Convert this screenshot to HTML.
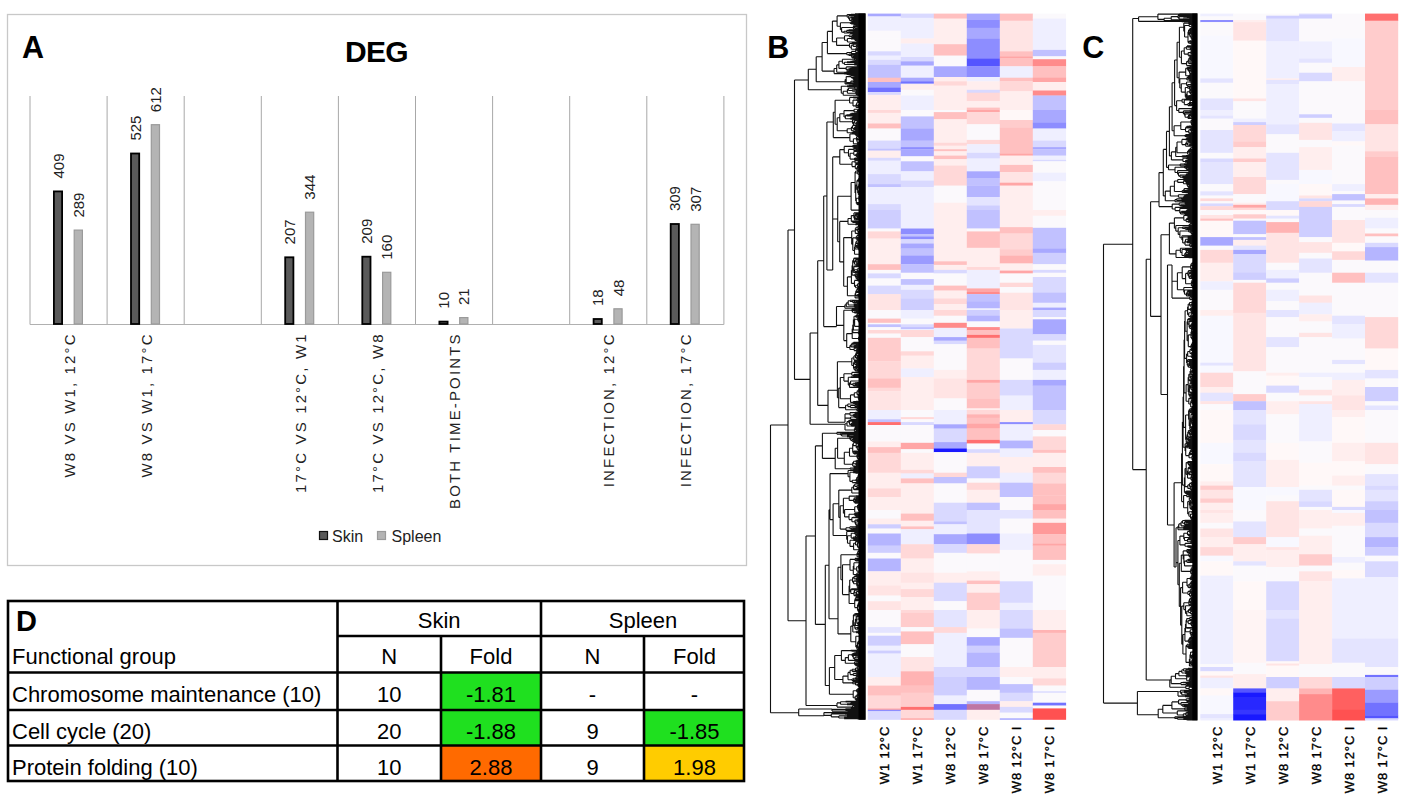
<!DOCTYPE html>
<html><head><meta charset="utf-8"><title>Figure</title>
<style>html,body{margin:0;padding:0;background:#fff;overflow:hidden;}svg{display:block;}text{font-family:"Liberation Sans",sans-serif;}</style>
</head><body>
<svg width="1417" height="797" viewBox="0 0 1417 797">
<rect width="1417" height="797" fill="#fff"/>
<rect x="7.5" y="14.5" width="739" height="551" fill="#fff" stroke="#c8c8c8" stroke-width="1.3"/>
<text x="22" y="58" font-size="30.5" font-weight="bold">A</text>
<text x="376.5" y="62.2" font-size="30" font-weight="bold" text-anchor="middle" letter-spacing="-0.6">DEG</text>
<line x1="30.0" y1="96" x2="30.0" y2="324.5" stroke="#a8a8a8" stroke-width="1"/>
<line x1="107.1" y1="96" x2="107.1" y2="324.5" stroke="#a8a8a8" stroke-width="1"/>
<line x1="184.2" y1="96" x2="184.2" y2="324.5" stroke="#a8a8a8" stroke-width="1"/>
<line x1="261.3" y1="96" x2="261.3" y2="324.5" stroke="#a8a8a8" stroke-width="1"/>
<line x1="338.4" y1="96" x2="338.4" y2="324.5" stroke="#a8a8a8" stroke-width="1"/>
<line x1="415.5" y1="96" x2="415.5" y2="324.5" stroke="#a8a8a8" stroke-width="1"/>
<line x1="492.6" y1="96" x2="492.6" y2="324.5" stroke="#a8a8a8" stroke-width="1"/>
<line x1="569.7" y1="96" x2="569.7" y2="324.5" stroke="#a8a8a8" stroke-width="1"/>
<line x1="646.8" y1="96" x2="646.8" y2="324.5" stroke="#a8a8a8" stroke-width="1"/>
<line x1="723.9" y1="96" x2="723.9" y2="324.5" stroke="#a8a8a8" stroke-width="1"/>
<line x1="30" y1="324.5" x2="723.9" y2="324.5" stroke="#b0b0b0" stroke-width="1.2"/>
<rect x="53.9" y="191.4" width="8.2" height="132.6" fill="#5a5a5a" stroke="#000" stroke-width="1.8"/>
<rect x="74.2" y="230.1" width="8.2" height="93.9" fill="#b4b4b4" stroke="#9a9a9a" stroke-width="1.2"/>
<text transform="translate(63.5,178.5) rotate(-90)" font-size="15" fill="#222">409</text>
<text transform="translate(83.8,217.6) rotate(-90)" font-size="15" fill="#222">289</text>
<text transform="translate(74.5,332.3) rotate(-90)" font-size="15" text-anchor="end" letter-spacing="2.15" fill="#222">W8 VS W1, 12°C</text>
<rect x="131.0" y="153.5" width="8.2" height="170.5" fill="#5a5a5a" stroke="#000" stroke-width="1.8"/>
<rect x="151.3" y="124.7" width="8.2" height="199.3" fill="#b4b4b4" stroke="#9a9a9a" stroke-width="1.2"/>
<text transform="translate(140.6,140.6) rotate(-90)" font-size="15" fill="#222">525</text>
<text transform="translate(160.9,112.2) rotate(-90)" font-size="15" fill="#222">612</text>
<text transform="translate(151.6,332.3) rotate(-90)" font-size="15" text-anchor="end" letter-spacing="2.15" fill="#222">W8 VS W1, 17°C</text>
<rect x="285.2" y="257.3" width="8.2" height="66.7" fill="#5a5a5a" stroke="#000" stroke-width="1.8"/>
<rect x="305.5" y="212.2" width="8.2" height="111.8" fill="#b4b4b4" stroke="#9a9a9a" stroke-width="1.2"/>
<text transform="translate(294.8,244.4) rotate(-90)" font-size="15" fill="#222">207</text>
<text transform="translate(315.1,199.7) rotate(-90)" font-size="15" fill="#222">344</text>
<text transform="translate(305.8,332.3) rotate(-90)" font-size="15" text-anchor="end" letter-spacing="2.15" fill="#222">17°C VS 12°C, W1</text>
<rect x="362.3" y="256.7" width="8.2" height="67.3" fill="#5a5a5a" stroke="#000" stroke-width="1.8"/>
<rect x="382.6" y="272.3" width="8.2" height="51.7" fill="#b4b4b4" stroke="#9a9a9a" stroke-width="1.2"/>
<text transform="translate(371.9,243.8) rotate(-90)" font-size="15" fill="#222">209</text>
<text transform="translate(392.2,259.8) rotate(-90)" font-size="15" fill="#222">160</text>
<text transform="translate(382.9,332.3) rotate(-90)" font-size="15" text-anchor="end" letter-spacing="2.15" fill="#222">17°C VS 12°C, W8</text>
<rect x="439.4" y="321.6" width="8.2" height="2.4" fill="#5a5a5a" stroke="#000" stroke-width="1.8"/>
<rect x="459.7" y="317.6" width="8.2" height="6.4" fill="#b4b4b4" stroke="#9a9a9a" stroke-width="1.2"/>
<text transform="translate(449.0,308.7) rotate(-90)" font-size="15" fill="#222">10</text>
<text transform="translate(469.3,305.1) rotate(-90)" font-size="15" fill="#222">21</text>
<text transform="translate(460.0,332.3) rotate(-90)" font-size="15" text-anchor="end" letter-spacing="2.15" fill="#222">BOTH TIME-POINTS</text>
<rect x="593.6" y="319.0" width="8.2" height="5.0" fill="#5a5a5a" stroke="#000" stroke-width="1.8"/>
<rect x="613.9" y="308.8" width="8.2" height="15.2" fill="#b4b4b4" stroke="#9a9a9a" stroke-width="1.2"/>
<text transform="translate(603.2,306.1) rotate(-90)" font-size="15" fill="#222">18</text>
<text transform="translate(623.5,296.3) rotate(-90)" font-size="15" fill="#222">48</text>
<text transform="translate(614.2,332.3) rotate(-90)" font-size="15" text-anchor="end" letter-spacing="2.15" fill="#222">INFECTION, 12°C</text>
<rect x="670.7" y="224.0" width="8.2" height="100.0" fill="#5a5a5a" stroke="#000" stroke-width="1.8"/>
<rect x="691.0" y="224.3" width="8.2" height="99.7" fill="#b4b4b4" stroke="#9a9a9a" stroke-width="1.2"/>
<text transform="translate(680.3,211.1) rotate(-90)" font-size="15" fill="#222">309</text>
<text transform="translate(700.6,211.8) rotate(-90)" font-size="15" fill="#222">307</text>
<text transform="translate(691.3,332.3) rotate(-90)" font-size="15" text-anchor="end" letter-spacing="2.15" fill="#222">INFECTION, 17°C</text>
<rect x="319.5" y="531.5" width="8" height="8" fill="#585858" stroke="#111" stroke-width="1.2"/>
<text x="332" y="541.5" font-size="16" fill="#222">Skin</text>
<rect x="377.5" y="531.5" width="8" height="8" fill="#b4b4b4" stroke="#9a9a9a" stroke-width="1.2"/>
<text x="391.5" y="541.5" font-size="16" fill="#222">Spleen</text>
<rect x="337.5" y="672.5" width="103.5" height="37.5" fill="#fff"/>
<rect x="441" y="672.5" width="100" height="37.5" fill="#1fe01f"/>
<rect x="441" y="710" width="100" height="35.5" fill="#1fe01f"/>
<rect x="441" y="745.5" width="100" height="36.5" fill="#ff6a00"/>
<rect x="644" y="710" width="101" height="35.5" fill="#1fe01f"/>
<rect x="644" y="745.5" width="101" height="36.5" fill="#ffcc00"/>
<rect x="8" y="601" width="736" height="180" fill="none" stroke="#000" stroke-width="2.6"/>
<line x1="337.5" y1="636" x2="745" y2="636" stroke="#000" stroke-width="2.6"/>
<line x1="7" y1="672.5" x2="745" y2="672.5" stroke="#000" stroke-width="2.6"/>
<line x1="7" y1="710" x2="745" y2="710" stroke="#000" stroke-width="2.6"/>
<line x1="7" y1="745.5" x2="745" y2="745.5" stroke="#000" stroke-width="2.6"/>
<line x1="337.5" y1="600" x2="337.5" y2="782" stroke="#000" stroke-width="2.6"/>
<line x1="541" y1="600" x2="541" y2="782" stroke="#000" stroke-width="2.6"/>
<line x1="441" y1="636" x2="441" y2="782" stroke="#000" stroke-width="2.6"/>
<line x1="644" y1="636" x2="644" y2="782" stroke="#000" stroke-width="2.6"/>
<text x="16" y="631" font-size="29" font-weight="bold">D</text>
<text x="12" y="664" font-size="22">Functional group</text>
<text x="12" y="701.5" font-size="22">Chromosome maintenance (10)</text>
<text x="12" y="739" font-size="22">Cell cycle (20)</text>
<text x="12" y="774.5" font-size="22">Protein folding (10)</text>
<text x="439.2" y="628" font-size="22" text-anchor="middle">Skin</text>
<text x="643.0" y="628" font-size="22" text-anchor="middle">Spleen</text>
<text x="389.2" y="664" font-size="22" text-anchor="middle">N</text>
<text x="491.0" y="664" font-size="22" text-anchor="middle">Fold</text>
<text x="592.5" y="664" font-size="22" text-anchor="middle">N</text>
<text x="694.5" y="664" font-size="22" text-anchor="middle">Fold</text>
<text x="389.2" y="701.5" font-size="22" text-anchor="middle">10</text>
<text x="491.0" y="701.5" font-size="22" text-anchor="middle">-1.81</text>
<text x="592.5" y="701.5" font-size="22" text-anchor="middle">-</text>
<text x="694.5" y="701.5" font-size="22" text-anchor="middle">-</text>
<text x="389.2" y="739" font-size="22" text-anchor="middle">20</text>
<text x="491.0" y="739" font-size="22" text-anchor="middle">-1.88</text>
<text x="592.5" y="739" font-size="22" text-anchor="middle">9</text>
<text x="694.5" y="739" font-size="22" text-anchor="middle">-1.85</text>
<text x="389.2" y="774.5" font-size="22" text-anchor="middle">10</text>
<text x="491.0" y="774.5" font-size="22" text-anchor="middle">2.88</text>
<text x="592.5" y="774.5" font-size="22" text-anchor="middle">9</text>
<text x="694.5" y="774.5" font-size="22" text-anchor="middle">1.98</text>
<path d="M770.5 425.0V712.7M788.0 230.0V620.7M794.5 80.0V379.4M810.1 333.0V424.2M817.7 260.7V405.4M823.7 196.0V326.6M826.9 122.0V270.0M828.0 390.3V422.3M806.0 536.0V705.5M815.4 445.9V624.4M825.3 565.2V685.5M829.0 509.8V618.8M798.7 709.0V715.8M770.5 712.7H798.7M770.5 425.0H788.0M788.0 230.0H794.5M788.0 620.7H806.0M794.5 379.4H810.1M810.1 333.0H817.7M817.7 260.7H823.7M817.7 405.4H828.0M823.7 196.0H826.9M806.0 536.0H815.4M815.4 624.4H825.3M825.3 565.2H829.0M794.5 80.0H808.3M826.9 122.0H833.3M826.9 270.0H832.7M823.7 326.6H836.5M828.0 390.3H837.4M828.0 422.3H845.0M810.1 424.2H845.0M815.4 445.9H822.4M829.0 509.8H830.0M829.0 618.8H838.0M825.3 685.5H829.4M806.0 705.5H837.0M798.7 709.0H832.0M798.7 715.8H823.9M849.8 85.2V85.6M849.8 85.2H865.5M849.8 85.6H865.5M848.8 85.4V86.0M848.8 85.4H849.8M848.8 86.0H865.5M847.0 85.7V86.7M847.0 85.7H848.8M847.0 86.7H865.5M859.2 88.7V89.2M859.2 88.7H865.5M859.2 89.2H865.5M858.6 88.2V88.9M858.6 88.2H865.5M858.6 88.9H859.2M858.0 87.9V88.6M858.0 87.9H865.5M858.0 88.6H858.6M856.9 88.2V89.4M856.9 88.2H858.0M856.9 89.4H865.5M854.5 87.3V88.8M854.5 87.3H865.5M854.5 88.8H856.9M857.0 91.0V91.5M857.0 91.0H865.5M857.0 91.5H865.5M856.4 91.2V92.0M856.4 91.2H857.0M856.4 92.0H865.5M855.8 90.6V91.6M855.8 90.6H865.5M855.8 91.6H856.4M852.2 89.8V91.1M852.2 89.8H865.5M852.2 91.1H855.8M848.4 88.1V90.5M848.4 88.1H854.5M848.4 90.5H852.2M856.6 93.2V93.7M856.6 93.2H865.5M856.6 93.7H865.5M856.0 93.4V94.2M856.0 93.4H856.6M856.0 94.2H865.5M855.2 92.5V93.8M855.2 92.5H865.5M855.2 93.8H856.0M847.4 89.3V93.2M847.4 89.3H848.4M847.4 93.2H855.2M860.9 96.0V96.7M860.9 96.0H865.5M860.9 96.7H865.5M860.3 95.5V96.4M860.3 95.5H865.5M860.3 96.4H860.9M859.7 95.2V95.9M859.7 95.2H865.5M859.7 95.9H860.3M857.3 94.8V95.6M857.3 94.8H865.5M857.3 95.6H859.7M843.2 91.2V95.2M843.2 91.2H847.4M843.2 95.2H857.3M841.3 86.2V93.2M841.3 86.2H847.0M841.3 93.2H843.2M855.5 75.7V76.2M855.5 75.7H865.5M855.5 76.2H865.5M854.9 75.5V76.0M854.9 75.5H865.5M854.9 76.0H855.5M854.3 75.4V75.7M854.3 75.4H865.5M854.3 75.7H854.9M857.1 76.7V77.2M857.1 76.7H865.5M857.1 77.2H865.5M855.9 76.5V77.0M855.9 76.5H865.5M855.9 77.0H857.1M857.5 79.1V79.5M857.5 79.1H865.5M857.5 79.5H865.5M856.9 78.7V79.3M856.9 78.7H865.5M856.9 79.3H857.5M856.3 78.3V79.0M856.3 78.3H865.5M856.3 79.0H856.9M858.8 79.7V80.2M858.8 79.7H865.5M858.8 80.2H865.5M853.7 78.7V79.9M853.7 78.7H856.3M853.7 79.9H858.8M853.1 77.8V79.3M853.1 77.8H865.5M853.1 79.3H853.7M852.5 76.7V78.6M852.5 76.7H855.9M852.5 78.6H853.1M851.0 75.5V77.6M851.0 75.5H854.3M851.0 77.6H852.5M853.5 81.2V81.9M853.5 81.2H865.5M853.5 81.9H865.5M852.9 80.7V81.5M852.9 80.7H865.5M852.9 81.5H853.5M851.9 82.7V83.1M851.9 82.7H865.5M851.9 83.1H865.5M850.9 81.1V82.9M850.9 81.1H852.9M850.9 82.9H851.9M850.3 82.0V83.3M850.3 82.0H850.9M850.3 83.3H865.5M846.2 76.6V82.6M846.2 76.6H851.0M846.2 82.6H850.3M853.1 84.0V84.6M853.1 84.0H865.5M853.1 84.6H865.5M852.5 83.6V84.3M852.5 83.6H865.5M852.5 84.3H853.1M845.1 79.6V83.9M845.1 79.6H846.2M845.1 83.9H852.5M855.7 58.5V58.9M855.7 58.5H865.5M855.7 58.9H865.5M855.1 58.4V58.7M855.1 58.4H865.5M855.1 58.7H855.7M858.5 59.4V59.8M858.5 59.4H865.5M858.5 59.8H865.5M857.9 59.6V60.2M857.9 59.6H858.5M857.9 60.2H865.5M857.3 59.9V60.4M857.3 59.9H857.9M857.3 60.4H865.5M854.5 58.5V60.1M854.5 58.5H855.1M854.5 60.1H857.3M855.0 61.5V61.9M855.0 61.5H865.5M855.0 61.9H865.5M852.4 60.8V61.7M852.4 60.8H865.5M852.4 61.7H855.0M850.4 61.2V62.2M850.4 61.2H852.4M850.4 62.2H865.5M847.0 61.7V62.7M847.0 61.7H850.4M847.0 62.7H865.5M858.4 63.5V64.1M858.4 63.5H865.5M858.4 64.1H865.5M857.6 63.1V63.8M857.6 63.1H865.5M857.6 63.8H858.4M854.8 63.5V64.4M854.8 63.5H857.6M854.8 64.4H865.5M859.6 64.8V65.3M859.6 64.8H865.5M859.6 65.3H865.5M854.2 63.9V65.0M854.2 63.9H854.8M854.2 65.0H859.6M844.4 62.2V64.5M844.4 62.2H847.0M844.4 64.5H854.2M842.4 59.3V63.3M842.4 59.3H854.5M842.4 63.3H844.4M858.5 66.1V66.7M858.5 66.1H865.5M858.5 66.7H865.5M857.9 66.4V67.2M857.9 66.4H858.5M857.9 67.2H865.5M857.3 65.6V66.8M857.3 65.6H865.5M857.3 66.8H857.9M856.7 66.2V67.5M856.7 66.2H857.3M856.7 67.5H865.5M851.4 68.0V68.5M851.4 68.0H865.5M851.4 68.5H865.5M849.7 68.2V69.1M849.7 68.2H851.4M849.7 69.1H865.5M848.5 68.7V69.7M848.5 68.7H849.7M848.5 69.7H865.5M857.9 70.3V70.7M857.9 70.3H865.5M857.9 70.7H865.5M857.3 70.5V71.0M857.3 70.5H857.9M857.3 71.0H865.5M847.3 69.2V70.7M847.3 69.2H848.5M847.3 70.7H857.3M846.2 66.9V70.0M846.2 66.9H856.7M846.2 70.0H847.3M838.9 61.3V68.4M838.9 61.3H842.4M838.9 68.4H846.2M849.9 71.7V72.1M849.9 71.7H865.5M849.9 72.1H865.5M848.7 71.4V71.9M848.7 71.4H865.5M848.7 71.9H849.9M846.2 71.7V72.7M846.2 71.7H848.7M846.2 72.7H865.5M836.7 64.9V72.2M836.7 64.9H838.9M836.7 72.2H846.2M850.1 73.8V74.2M850.1 73.8H865.5M850.1 74.2H865.5M848.6 74.0V74.9M848.6 74.0H850.1M848.6 74.9H865.5M846.6 73.5V74.4M846.6 73.5H865.5M846.6 74.4H848.6M844.2 73.2V74.0M844.2 73.2H865.5M844.2 74.0H846.6M834.1 68.5V73.6M834.1 68.5H836.7M834.1 73.6H844.2M858.4 51.0V51.5M858.4 51.0H865.5M858.4 51.5H865.5M857.8 50.6V51.2M857.8 50.6H865.5M857.8 51.2H858.4M857.2 50.2V50.9M857.2 50.2H865.5M857.2 50.9H857.8M856.6 50.0V50.5M856.6 50.0H865.5M856.6 50.5H857.2M856.2 52.2V52.9M856.2 52.2H865.5M856.2 52.9H865.5M855.6 50.2V52.6M855.6 50.2H856.6M855.6 52.6H856.2M851.5 51.4V53.6M851.5 51.4H855.6M851.5 53.6H865.5M856.5 56.0V56.5M856.5 56.0H865.5M856.5 56.5H865.5M855.9 56.3V56.8M855.9 56.3H856.5M855.9 56.8H865.5M855.3 55.6V56.5M855.3 55.6H865.5M855.3 56.5H855.9M855.4 57.2V57.6M855.4 57.2H865.5M855.4 57.6H865.5M853.6 56.1V57.4M853.6 56.1H855.3M853.6 57.4H855.4M852.3 56.7V58.0M852.3 56.7H853.6M852.3 58.0H865.5M851.7 55.1V57.4M851.7 55.1H865.5M851.7 57.4H852.3M851.1 54.6V56.2M851.1 54.6H865.5M851.1 56.2H851.7M848.8 54.0V55.4M848.8 54.0H865.5M848.8 55.4H851.1M846.8 52.5V54.7M846.8 52.5H851.5M846.8 54.7H848.8M854.0 34.8V35.2M854.0 34.8H865.5M854.0 35.2H865.5M856.7 36.0V36.5M856.7 36.0H865.5M856.7 36.5H865.5M854.1 35.7V36.2M854.1 35.7H865.5M854.1 36.2H856.7M852.6 37.1V37.5M852.6 37.1H865.5M852.6 37.5H865.5M851.8 36.0V37.3M851.8 36.0H854.1M851.8 37.3H852.6M849.0 35.0V36.6M849.0 35.0H854.0M849.0 36.6H851.8M858.9 38.9V39.3M858.9 38.9H865.5M858.9 39.3H865.5M858.3 39.1V39.6M858.3 39.1H858.9M858.3 39.6H865.5M855.6 38.5V39.3M855.6 38.5H865.5M855.6 39.3H858.3M858.3 40.2V40.7M858.3 40.2H865.5M858.3 40.7H865.5M855.0 38.9V40.4M855.0 38.9H855.6M855.0 40.4H858.3M854.4 38.3V39.7M854.4 38.3H865.5M854.4 39.7H855.0M851.0 38.0V39.0M851.0 38.0H865.5M851.0 39.0H854.4M857.5 40.8V41.2M857.5 40.8H865.5M857.5 41.2H865.5M856.9 41.0V41.9M856.9 41.0H857.5M856.9 41.9H865.5M856.3 41.5V42.5M856.3 41.5H856.9M856.3 42.5H865.5M847.4 38.5V42.0M847.4 38.5H851.0M847.4 42.0H856.3M844.5 35.8V40.2M844.5 35.8H849.0M844.5 40.2H847.4M852.0 43.1V43.5M852.0 43.1H865.5M852.0 43.5H865.5M851.4 43.3V43.8M851.4 43.3H852.0M851.4 43.8H865.5M858.2 45.0V45.4M858.2 45.0H865.5M858.2 45.4H865.5M857.6 45.2V45.9M857.6 45.2H858.2M857.6 45.9H865.5M857.0 44.6V45.6M857.0 44.6H865.5M857.0 45.6H857.6M859.2 47.0V47.5M859.2 47.0H865.5M859.2 47.5H865.5M858.6 47.2V47.6M858.6 47.2H859.2M858.6 47.6H865.5M858.0 46.4V47.4M858.0 46.4H865.5M858.0 47.4H858.6M860.0 47.9V48.4M860.0 47.9H865.5M860.0 48.4H865.5M859.4 48.1V48.7M859.4 48.1H860.0M859.4 48.7H865.5M857.0 46.9V48.4M857.0 46.9H858.0M857.0 48.4H859.4M856.4 45.1V47.7M856.4 45.1H857.0M856.4 47.7H857.0M853.2 44.1V46.4M853.2 44.1H865.5M853.2 46.4H856.4M856.2 49.3V49.8M856.2 49.3H865.5M856.2 49.8H865.5M855.2 48.9V49.6M855.2 48.9H865.5M855.2 49.6H856.2M851.3 45.2V49.2M851.3 45.2H853.2M851.3 49.2H855.2M849.5 43.5V47.2M849.5 43.5H851.4M849.5 47.2H851.3M836.6 38.0V45.4M836.6 38.0H844.5M836.6 45.4H849.5M853.2 22.9V23.4M853.2 22.9H865.5M853.2 23.4H865.5M852.6 22.7V23.1M852.6 22.7H865.5M852.6 23.1H853.2M851.2 22.9V24.0M851.2 22.9H852.6M851.2 24.0H865.5M850.1 22.2V23.5M850.1 22.2H865.5M850.1 23.5H851.2M858.6 25.2V25.7M858.6 25.2H865.5M858.6 25.7H865.5M857.7 25.4V26.1M857.7 25.4H858.6M857.7 26.1H865.5M855.2 25.8V26.8M855.2 25.8H857.7M855.2 26.8H865.5M858.6 27.6V28.1M858.6 27.6H865.5M858.6 28.1H865.5M858.0 27.2V27.9M858.0 27.2H865.5M858.0 27.9H858.6M857.4 27.6V28.6M857.4 27.6H858.0M857.4 28.6H865.5M854.6 26.3V28.1M854.6 26.3H855.2M854.6 28.1H857.4M854.0 24.6V27.2M854.0 24.6H865.5M854.0 27.2H854.6M853.4 25.9V29.0M853.4 25.9H854.0M853.4 29.0H865.5M852.3 29.7V30.2M852.3 29.7H865.5M852.3 30.2H865.5M853.2 30.8V31.4M853.2 30.8H865.5M853.2 31.4H865.5M852.6 30.5V31.1M852.6 30.5H865.5M852.6 31.1H853.2M848.6 29.9V30.8M848.6 29.9H852.3M848.6 30.8H852.6M846.6 30.4V32.1M846.6 30.4H848.6M846.6 32.1H865.5M854.2 33.6V34.2M854.2 33.6H865.5M854.2 34.2H865.5M852.4 33.0V33.9M852.4 33.0H865.5M852.4 33.9H854.2M850.1 32.5V33.5M850.1 32.5H865.5M850.1 33.5H852.4M844.0 31.2V33.0M844.0 31.2H846.6M844.0 33.0H850.1M841.6 27.5V32.1M841.6 27.5H853.4M841.6 32.1H844.0M840.4 22.8V29.8M840.4 22.8H850.1M840.4 29.8H841.6M855.6 13.7V14.1M855.6 13.7H865.5M855.6 14.1H865.5M855.0 13.9V14.5M855.0 13.9H855.6M855.0 14.5H865.5M850.9 14.2V14.8M850.9 14.2H855.0M850.9 14.8H865.5M857.7 15.9V16.3M857.7 15.9H865.5M857.7 16.3H865.5M857.1 16.1V16.8M857.1 16.1H857.7M857.1 16.8H865.5M853.9 15.6V16.4M853.9 15.6H865.5M853.9 16.4H857.1M849.9 15.2V16.0M849.9 15.2H865.5M849.9 16.0H853.9M853.7 17.8V18.5M853.7 17.8H865.5M853.7 18.5H865.5M850.7 17.2V18.2M850.7 17.2H865.5M850.7 18.2H853.7M853.7 19.8V20.4M853.7 19.8H865.5M853.7 20.4H865.5M853.1 20.1V20.8M853.1 20.1H853.7M853.1 20.8H865.5M852.5 19.4V20.4M852.5 19.4H865.5M852.5 20.4H853.1M851.9 19.1V19.9M851.9 19.1H865.5M851.9 19.9H852.5M856.4 21.0V21.5M856.4 21.0H865.5M856.4 21.5H865.5M851.3 19.5V21.3M851.3 19.5H851.9M851.3 21.3H856.4M849.5 17.7V20.4M849.5 17.7H850.7M849.5 20.4H851.3M848.7 15.6V19.0M848.7 15.6H849.9M848.7 19.0H849.5M847.2 14.5V17.3M847.2 14.5H850.9M847.2 17.3H848.7M837.1 15.9V26.3M837.1 26.3H840.4M837.1 15.9H847.2M832.4 21.1V41.7M832.4 41.7H836.6M832.4 21.1H837.1M827.4 31.4V53.6M827.4 53.6H846.8M827.4 31.4H832.4M822.1 42.5V71.1M822.1 71.1H834.1M822.1 42.5H827.4M816.2 56.8V81.8M816.2 81.8H845.1M816.2 56.8H822.1M808.3 69.3V89.7M808.3 89.7H841.3M808.3 69.3H816.2M808.3 79.5V80.0M853.6 97.5V97.9M853.6 97.5H865.5M853.6 97.9H865.5M853.0 97.1V97.7M853.0 97.1H865.5M853.0 97.7H853.6M859.2 98.4V99.0M859.2 98.4H865.5M859.2 99.0H865.5M858.6 98.7V99.5M858.6 98.7H859.2M858.6 99.5H865.5M860.8 100.0V100.4M860.8 100.0H865.5M860.8 100.4H865.5M860.2 99.7V100.2M860.2 99.7H865.5M860.2 100.2H860.8M858.2 99.9V101.0M858.2 99.9H860.2M858.2 101.0H865.5M857.6 100.5V101.7M857.6 100.5H858.2M857.6 101.7H865.5M857.0 99.1V101.1M857.0 99.1H858.6M857.0 101.1H857.6M862.2 103.1V103.5M862.2 103.1H865.5M862.2 103.5H865.5M861.6 103.3V103.8M861.6 103.3H862.2M861.6 103.8H865.5M861.0 103.5V104.0M861.0 103.5H861.6M861.0 104.0H865.5M860.4 102.7V103.7M860.4 102.7H865.5M860.4 103.7H861.0M859.8 102.3V103.2M859.8 102.3H865.5M859.8 103.2H860.4M859.1 104.3V104.9M859.1 104.3H865.5M859.1 104.9H865.5M858.3 104.6V105.3M858.3 104.6H859.1M858.3 105.3H865.5M860.1 106.1V106.5M860.1 106.1H865.5M860.1 106.5H865.5M859.5 106.3V106.7M859.5 106.3H860.1M859.5 106.7H865.5M858.9 105.5V106.5M858.9 105.5H865.5M858.9 106.5H859.5M858.3 106.0V107.0M858.3 106.0H858.9M858.3 107.0H865.5M857.7 105.0V106.5M857.7 105.0H858.3M857.7 106.5H858.3M856.7 102.8V105.7M856.7 102.8H859.8M856.7 105.7H857.7M856.1 104.3V107.4M856.1 104.3H856.7M856.1 107.4H865.5M853.0 100.1V105.9M853.0 100.1H857.0M853.0 105.9H856.1M849.6 97.4V103.0M849.6 97.4H853.0M849.6 103.0H853.0M860.6 107.9V108.3M860.6 107.9H865.5M860.6 108.3H865.5M860.0 108.1V108.9M860.0 108.1H860.6M860.0 108.9H865.5M859.4 108.5V109.3M859.4 108.5H860.0M859.4 109.3H865.5M858.8 108.9V109.6M858.8 108.9H859.4M858.8 109.6H865.5M859.4 110.4V110.9M859.4 110.4H865.5M859.4 110.9H865.5M859.4 111.4V111.8M859.4 111.4H865.5M859.4 111.8H865.5M858.8 110.7V111.6M858.8 110.7H859.4M858.8 111.6H859.4M858.2 111.1V112.4M858.2 111.1H858.8M858.2 112.4H865.5M857.6 110.0V111.8M857.6 110.0H865.5M857.6 111.8H858.2M857.0 110.9V112.9M857.0 110.9H857.6M857.0 112.9H865.5M854.1 109.2V111.9M854.1 109.2H858.8M854.1 111.9H857.0M852.4 114.0V114.5M852.4 114.0H865.5M852.4 114.5H865.5M851.4 113.4V114.2M851.4 113.4H865.5M851.4 114.2H852.4M850.1 113.8V114.7M850.1 113.8H851.4M850.1 114.7H865.5M859.2 115.1V115.5M859.2 115.1H865.5M859.2 115.5H865.5M849.5 114.2V115.3M849.5 114.2H850.1M849.5 115.3H859.2M852.8 115.7V116.1M852.8 115.7H865.5M852.8 116.1H865.5M846.5 114.8V115.9M846.5 114.8H849.5M846.5 115.9H852.8M855.9 117.5V117.9M855.9 117.5H865.5M855.9 117.9H865.5M852.7 116.9V117.7M852.7 116.9H865.5M852.7 117.7H855.9M852.1 117.3V118.2M852.1 117.3H852.7M852.1 118.2H865.5M851.5 117.8V118.5M851.5 117.8H852.1M851.5 118.5H865.5M852.9 119.3V119.8M852.9 119.3H865.5M852.9 119.8H865.5M852.3 118.8V119.5M852.3 118.8H865.5M852.3 119.5H852.9M850.3 118.1V119.2M850.3 118.1H851.5M850.3 119.2H852.3M845.4 115.3V118.7M845.4 115.3H846.5M845.4 118.7H850.3M844.0 110.6V117.0M844.0 110.6H854.1M844.0 117.0H845.4M858.4 120.7V121.2M858.4 120.7H865.5M858.4 121.2H865.5M857.8 120.5V121.0M857.8 120.5H865.5M857.8 121.0H858.4M857.2 120.7V121.5M857.2 120.7H857.8M857.2 121.5H865.5M856.6 120.4V121.1M856.6 120.4H865.5M856.6 121.1H857.2M857.7 121.8V122.4M857.7 121.8H865.5M857.7 122.4H865.5M856.8 122.1V122.9M856.8 122.1H857.7M856.8 122.9H865.5M856.2 122.5V123.1M856.2 122.5H856.8M856.2 123.1H865.5M856.8 123.8V124.4M856.8 123.8H865.5M856.8 124.4H865.5M856.2 123.4V124.1M856.2 123.4H865.5M856.2 124.1H856.8M855.6 122.8V123.7M855.6 122.8H856.2M855.6 123.7H856.2M854.4 120.7V123.3M854.4 120.7H856.6M854.4 123.3H855.6M853.5 122.0V125.0M853.5 122.0H854.4M853.5 125.0H865.5M852.5 120.0V123.5M852.5 120.0H865.5M852.5 123.5H853.5M839.8 113.8V121.8M839.8 113.8H844.0M839.8 121.8H852.5M857.6 126.3V126.8M857.6 126.3H865.5M857.6 126.8H865.5M857.0 127.1V127.7M857.0 127.1H865.5M857.0 127.7H865.5M856.4 126.5V127.4M856.4 126.5H857.6M856.4 127.4H857.0M855.8 125.8V127.0M855.8 125.8H865.5M855.8 127.0H856.4M855.2 126.4V128.1M855.2 126.4H855.8M855.2 128.1H865.5M854.5 127.2V128.5M854.5 127.2H855.2M854.5 128.5H865.5M853.9 127.9V129.1M853.9 127.9H854.5M853.9 129.1H865.5M852.6 125.4V128.5M852.6 125.4H865.5M852.6 128.5H853.9M858.0 130.1V130.5M858.0 130.1H865.5M858.0 130.5H865.5M857.4 129.8V130.3M857.4 129.8H865.5M857.4 130.3H858.0M855.3 129.7V130.1M855.3 129.7H865.5M855.3 130.1H857.4M854.7 129.5V129.9M854.7 129.5H865.5M854.7 129.9H855.3M859.4 130.8V131.2M859.4 130.8H865.5M859.4 131.2H865.5M857.0 131.0V131.8M857.0 131.0H859.4M857.0 131.8H865.5M853.8 131.4V132.1M853.8 131.4H857.0M853.8 132.1H865.5M853.1 129.7V131.7M853.1 129.7H854.7M853.1 131.7H853.8M851.4 127.0V130.7M851.4 127.0H852.6M851.4 130.7H853.1M851.8 132.5V133.0M851.8 132.5H865.5M851.8 133.0H865.5M847.2 128.8V132.8M847.2 128.8H851.4M847.2 132.8H851.8M837.2 117.8V130.8M837.2 117.8H839.8M837.2 130.8H847.2M835.1 100.2V124.3M835.1 100.2H849.6M835.1 124.3H837.2M856.4 135.2V135.8M856.4 135.2H865.5M856.4 135.8H865.5M855.8 134.6V135.5M855.8 134.6H865.5M855.8 135.5H856.4M855.2 134.0V135.0M855.2 134.0H865.5M855.2 135.0H855.8M854.6 133.4V134.5M854.6 133.4H865.5M854.6 134.5H855.2M862.6 136.9V137.3M862.6 136.9H865.5M862.6 137.3H865.5M862.0 137.1V137.6M862.0 137.1H862.6M862.0 137.6H865.5M861.4 136.3V137.3M861.4 136.3H865.5M861.4 137.3H862.0M860.4 138.7V139.2M860.4 138.7H865.5M860.4 139.2H865.5M861.6 140.1V140.6M861.6 140.1H865.5M861.6 140.6H865.5M862.2 140.9V141.4M862.2 140.9H865.5M862.2 141.4H865.5M861.6 141.1V141.7M861.6 141.1H862.2M861.6 141.7H865.5M861.0 140.4V141.4M861.0 140.4H861.6M861.0 141.4H861.6M860.4 139.7V140.9M860.4 139.7H865.5M860.4 140.9H861.0M859.8 138.9V140.3M859.8 138.9H860.4M859.8 140.3H860.4M857.7 138.0V139.6M857.7 138.0H865.5M857.7 139.6H859.8M857.1 138.8V142.2M857.1 138.8H857.7M857.1 142.2H865.5M856.5 136.8V140.5M856.5 136.8H861.4M856.5 140.5H857.1M858.9 143.0V143.5M858.9 143.0H865.5M858.9 143.5H865.5M858.3 143.3V144.0M858.3 143.3H858.9M858.3 144.0H865.5M857.7 142.7V143.6M857.7 142.7H865.5M857.7 143.6H858.3M857.6 144.2V144.6M857.6 144.2H865.5M857.6 144.6H865.5M857.0 143.2V144.4M857.0 143.2H857.7M857.0 144.4H857.6M853.4 138.7V143.8M853.4 138.7H856.5M853.4 143.8H857.0M849.9 134.0V141.2M849.9 134.0H854.6M849.9 141.2H853.4M833.3 112.2V137.6M833.3 112.2H835.1M833.3 137.6H849.9M833.3 122.0V124.9M853.8 145.7V146.3M853.8 145.7H865.5M853.8 146.3H865.5M853.2 145.2V146.0M853.2 145.2H865.5M853.2 146.0H853.8M854.6 147.2V147.9M854.6 147.2H865.5M854.6 147.9H865.5M853.8 146.7V147.6M853.8 146.7H865.5M853.8 147.6H854.6M852.6 145.6V147.1M852.6 145.6H853.2M852.6 147.1H853.8M854.0 148.3V148.8M854.0 148.3H865.5M854.0 148.8H865.5M856.6 149.4V150.0M856.6 149.4H865.5M856.6 150.0H865.5M856.0 149.7V150.4M856.0 149.7H856.6M856.0 150.4H865.5M854.0 150.1V150.6M854.0 150.1H856.0M854.0 150.6H865.5M853.4 148.5V150.3M853.4 148.5H854.0M853.4 150.3H854.0M860.0 152.9V153.4M860.0 152.9H865.5M860.0 153.4H865.5M859.4 152.4V153.2M859.4 152.4H865.5M859.4 153.2H860.0M858.8 152.8V153.7M858.8 152.8H859.4M858.8 153.7H865.5M857.7 151.9V153.3M857.7 151.9H865.5M857.7 153.3H858.8M857.1 151.4V152.6M857.1 151.4H865.5M857.1 152.6H857.7M856.5 150.9V152.0M856.5 150.9H865.5M856.5 152.0H857.1M857.7 154.3V154.8M857.7 154.3H865.5M857.7 154.8H865.5M856.3 153.9V154.6M856.3 153.9H865.5M856.3 154.6H857.7M858.5 155.7V156.1M858.5 155.7H865.5M858.5 156.1H865.5M857.9 155.9V156.7M857.9 155.9H858.5M857.9 156.7H865.5M857.9 157.2V157.6M857.9 157.2H865.5M857.9 157.6H865.5M857.3 156.3V157.4M857.3 156.3H857.9M857.3 157.4H857.9M856.7 155.2V156.9M856.7 155.2H865.5M856.7 156.9H857.3M855.7 154.2V156.0M855.7 154.2H856.3M855.7 156.0H856.7M853.8 151.5V155.1M853.8 151.5H856.5M853.8 155.1H855.7M855.2 158.7V159.2M855.2 158.7H865.5M855.2 159.2H865.5M854.6 158.1V158.9M854.6 158.1H865.5M854.6 158.9H855.2M854.0 158.5V159.6M854.0 158.5H854.6M854.0 159.6H865.5M850.1 153.3V159.1M850.1 153.3H853.8M850.1 159.1H854.0M848.5 149.4V156.2M848.5 149.4H853.4M848.5 156.2H850.1M844.2 146.4V152.8M844.2 146.4H852.6M844.2 152.8H848.5M859.2 160.9V161.4M859.2 160.9H865.5M859.2 161.4H865.5M858.6 161.1V161.7M858.6 161.1H859.2M858.6 161.7H865.5M858.0 160.6V161.4M858.0 160.6H865.5M858.0 161.4H858.6M857.4 160.2V161.0M857.4 160.2H865.5M857.4 161.0H858.0M855.7 159.9V160.6M855.7 159.9H865.5M855.7 160.6H857.4M858.1 162.1V162.6M858.1 162.1H865.5M858.1 162.6H865.5M858.1 162.8V163.2M858.1 162.8H865.5M858.1 163.2H865.5M857.5 162.4V163.0M857.5 162.4H858.1M857.5 163.0H858.1M855.7 162.7V163.8M855.7 162.7H857.5M855.7 163.8H865.5M855.1 160.3V163.2M855.1 160.3H855.7M855.1 163.2H855.7M858.0 164.2V164.9M858.0 164.2H865.5M858.0 164.9H865.5M859.5 165.3V165.7M859.5 165.3H865.5M859.5 165.7H865.5M858.2 165.5V166.2M858.2 165.5H859.5M858.2 166.2H865.5M859.4 166.5V167.1M859.4 166.5H865.5M859.4 167.1H865.5M859.4 167.6V168.1M859.4 167.6H865.5M859.4 168.1H865.5M858.8 166.8V167.9M858.8 166.8H859.4M858.8 167.9H859.4M860.9 168.7V169.2M860.9 168.7H865.5M860.9 169.2H865.5M860.3 168.9V169.6M860.3 168.9H860.9M860.3 169.6H865.5M858.2 167.3V169.3M858.2 167.3H858.8M858.2 169.3H860.3M857.6 165.9V168.3M857.6 165.9H858.2M857.6 168.3H858.2M858.4 169.9V170.3M858.4 169.9H865.5M858.4 170.3H865.5M857.0 167.1V170.1M857.0 167.1H857.6M857.0 170.1H858.4M855.3 164.6V168.6M855.3 164.6H858.0M855.3 168.6H857.0M852.0 161.7V166.6M852.0 161.7H855.1M852.0 166.6H855.3M839.8 149.6V164.2M839.8 149.6H844.2M839.8 164.2H852.0M862.5 172.2V172.7M862.5 172.2H865.5M862.5 172.7H865.5M861.9 172.4V172.9M861.9 172.4H862.5M861.9 172.9H865.5M861.3 172.7V173.1M861.3 172.7H861.9M861.3 173.1H865.5M860.7 172.9V173.3M860.7 172.9H861.3M860.7 173.3H865.5M860.1 173.1V173.7M860.1 173.1H860.7M860.1 173.7H865.5M861.9 174.3V174.8M861.9 174.3H865.5M861.9 174.8H865.5M861.3 174.5V175.2M861.3 174.5H861.9M861.3 175.2H865.5M860.7 174.1V174.9M860.7 174.1H865.5M860.7 174.9H861.3M861.9 175.9V176.4M861.9 175.9H865.5M861.9 176.4H865.5M861.9 176.9V177.5M861.9 176.9H865.5M861.9 177.5H865.5M861.3 176.1V177.2M861.3 176.1H861.9M861.3 177.2H861.9M860.7 175.5V176.7M860.7 175.5H865.5M860.7 176.7H861.3M860.1 174.5V176.1M860.1 174.5H860.7M860.1 176.1H860.7M859.5 173.4V175.3M859.5 173.4H860.1M859.5 175.3H860.1M857.8 171.6V174.3M857.8 171.6H865.5M857.8 174.3H859.5M855.7 171.0V173.0M855.7 171.0H865.5M855.7 173.0H857.8M859.9 178.8V179.5M859.9 178.8H865.5M859.9 179.5H865.5M859.3 179.2V180.2M859.3 179.2H859.9M859.3 180.2H865.5M858.7 178.2V179.7M858.7 178.2H865.5M858.7 179.7H859.3M858.1 178.9V180.8M858.1 178.9H858.7M858.1 180.8H865.5M857.5 179.9V181.2M857.5 179.9H858.1M857.5 181.2H865.5M863.1 183.0V183.5M863.1 183.0H865.5M863.1 183.5H865.5M862.5 182.5V183.2M862.5 182.5H865.5M862.5 183.2H863.1M861.9 182.1V182.9M861.9 182.1H865.5M861.9 182.9H862.5M861.3 182.5V183.8M861.3 182.5H861.9M861.3 183.8H865.5M860.7 183.2V184.4M860.7 183.2H861.3M860.7 184.4H865.5M860.1 181.6V183.8M860.1 181.6H865.5M860.1 183.8H860.7M861.9 185.0V185.4M861.9 185.0H865.5M861.9 185.4H865.5M861.3 185.2V185.7M861.3 185.2H861.9M861.3 185.7H865.5M860.7 184.8V185.4M860.7 184.8H865.5M860.7 185.4H861.3M860.1 185.1V186.1M860.1 185.1H860.7M860.1 186.1H865.5M859.5 182.7V185.6M859.5 182.7H860.1M859.5 185.6H860.1M861.9 187.2V187.7M861.9 187.2H865.5M861.9 187.7H865.5M861.3 186.6V187.4M861.3 186.6H865.5M861.3 187.4H861.9M860.7 187.0V187.8M860.7 187.0H861.3M860.7 187.8H865.5M860.7 188.0V188.5M860.7 188.0H865.5M860.7 188.5H865.5M860.1 187.4V188.2M860.1 187.4H860.7M860.1 188.2H860.7M859.5 187.8V189.3M859.5 187.8H860.1M859.5 189.3H865.5M858.9 184.2V188.5M858.9 184.2H859.5M858.9 188.5H859.5M859.5 190.0V190.4M859.5 190.0H865.5M859.5 190.4H865.5M860.7 190.8V191.3M860.7 190.8H865.5M860.7 191.3H865.5M861.9 192.0V192.6M861.9 192.0H865.5M861.9 192.6H865.5M861.3 191.6V192.3M861.3 191.6H865.5M861.3 192.3H861.9M860.7 192.0V193.0M860.7 192.0H861.3M860.7 193.0H865.5M860.1 191.1V192.5M860.1 191.1H860.7M860.1 192.5H860.7M860.1 193.6V194.0M860.1 193.6H865.5M860.1 194.0H865.5M859.5 191.8V193.8M859.5 191.8H860.1M859.5 193.8H860.1M858.9 190.2V192.8M858.9 190.2H859.5M858.9 192.8H859.5M858.3 191.5V194.5M858.3 191.5H858.9M858.3 194.5H865.5M857.7 186.4V193.0M857.7 186.4H858.9M857.7 193.0H858.3M856.9 180.5V189.7M856.9 180.5H857.5M856.9 189.7H857.7M862.6 197.3V197.7M862.6 197.3H865.5M862.6 197.7H865.5M862.0 196.8V197.5M862.0 196.8H865.5M862.0 197.5H862.6M861.4 196.4V197.1M861.4 196.4H865.5M861.4 197.1H862.0M860.8 195.7V196.8M860.8 195.7H865.5M860.8 196.8H861.4M862.0 198.1V198.5M862.0 198.1H865.5M862.0 198.5H865.5M861.4 198.3V198.7M861.4 198.3H862.0M861.4 198.7H865.5M860.8 198.5V198.9M860.8 198.5H861.4M860.8 198.9H865.5M860.2 196.2V198.7M860.2 196.2H860.8M860.2 198.7H860.8M859.6 195.1V197.5M859.6 195.1H865.5M859.6 197.5H860.2M862.0 201.0V201.5M862.0 201.0H865.5M862.0 201.5H865.5M861.4 200.5V201.3M861.4 200.5H865.5M861.4 201.3H862.0M860.8 200.1V200.9M860.8 200.1H865.5M860.8 200.9H861.4M860.2 200.5V202.0M860.2 200.5H860.8M860.2 202.0H865.5M859.6 199.4V201.2M859.6 199.4H865.5M859.6 201.2H860.2M859.0 196.3V200.3M859.0 196.3H859.6M859.0 200.3H859.6M860.6 203.0V203.4M860.6 203.0H865.5M860.6 203.4H865.5M860.0 203.2V203.9M860.0 203.2H860.6M860.0 203.9H865.5M859.4 203.5V204.3M859.4 203.5H860.0M859.4 204.3H865.5M857.5 203.9V204.8M857.5 203.9H859.4M857.5 204.8H865.5M856.9 202.6V204.4M856.9 202.6H865.5M856.9 204.4H857.5M856.3 198.3V203.5M856.3 198.3H859.0M856.3 203.5H856.9M855.7 185.1V200.9M855.7 185.1H856.9M855.7 200.9H856.3M855.1 172.0V193.0M855.1 172.0H855.7M855.1 193.0H855.7M863.5 205.4V205.9M863.5 205.4H865.5M863.5 205.9H865.5M862.9 205.6V206.1M862.9 205.6H863.5M862.9 206.1H865.5M862.3 205.9V206.3M862.3 205.9H862.9M862.3 206.3H865.5M861.7 205.1V206.1M861.7 205.1H865.5M861.7 206.1H862.3M863.5 207.1V207.5M863.5 207.1H865.5M863.5 207.5H865.5M862.9 206.7V207.3M862.9 206.7H865.5M862.9 207.3H863.5M862.3 207.0V207.8M862.3 207.0H862.9M862.3 207.8H865.5M863.5 208.5V209.0M863.5 208.5H865.5M863.5 209.0H865.5M862.9 208.1V208.7M862.9 208.1H865.5M862.9 208.7H863.5M862.3 208.4V209.4M862.3 208.4H862.9M862.3 209.4H865.5M861.7 207.4V208.9M861.7 207.4H862.3M861.7 208.9H862.3M861.1 205.6V208.1M861.1 205.6H861.7M861.1 208.1H861.7M860.5 206.9V210.0M860.5 206.9H861.1M860.5 210.0H865.5M862.9 210.7V211.1M862.9 210.7H865.5M862.9 211.1H865.5M862.3 210.9V211.3M862.3 210.9H862.9M862.3 211.3H865.5M861.7 211.1V211.5M861.7 211.1H862.3M861.7 211.5H865.5M861.1 211.3V211.7M861.1 211.3H861.7M861.1 211.7H865.5M860.5 211.5V212.1M860.5 211.5H861.1M860.5 212.1H865.5M859.9 208.5V211.8M859.9 208.5H860.5M859.9 211.8H860.5M851.1 182.5V210.1M851.1 182.5H855.1M851.1 210.1H859.9M855.4 212.7V213.2M855.4 212.7H865.5M855.4 213.2H865.5M860.2 214.6V215.0M860.2 214.6H865.5M860.2 215.0H865.5M859.6 214.2V214.8M859.6 214.2H865.5M859.6 214.8H860.2M859.6 215.8V216.2M859.6 215.8H865.5M859.6 216.2H865.5M857.5 215.4V216.0M857.5 215.4H865.5M857.5 216.0H859.6M858.7 217.2V217.6M858.7 217.2H865.5M858.7 217.6H865.5M858.1 216.8V217.4M858.1 216.8H865.5M858.1 217.4H858.7M857.5 216.6V217.1M857.5 216.6H865.5M857.5 217.1H858.1M856.9 215.7V216.9M856.9 215.7H857.5M856.9 216.9H857.5M856.3 214.5V216.3M856.3 214.5H859.6M856.3 216.3H856.9M855.7 213.8V215.4M855.7 213.8H865.5M855.7 215.4H856.3M855.7 218.1V218.9M855.7 218.1H865.5M855.7 218.9H865.5M855.1 214.6V218.5M855.1 214.6H855.7M855.1 218.5H855.7M860.4 219.8V220.4M860.4 219.8H865.5M860.4 220.4H865.5M859.1 219.4V220.1M859.1 219.4H865.5M859.1 220.1H860.4M854.5 216.5V219.8M854.5 216.5H855.1M854.5 219.8H859.1M853.9 212.9V218.2M853.9 212.9H855.4M853.9 218.2H854.5M853.1 222.0V222.5M853.1 222.0H865.5M853.1 222.5H865.5M852.5 221.6V222.3M852.5 221.6H865.5M852.5 222.3H853.1M851.9 221.1V221.9M851.9 221.1H865.5M851.9 221.9H852.5M851.3 215.6V221.5M851.3 215.6H853.9M851.3 221.5H851.9M858.2 223.3V223.9M858.2 223.3H865.5M858.2 223.9H865.5M857.6 222.9V223.6M857.6 222.9H865.5M857.6 223.6H858.2M855.9 223.3V224.3M855.9 223.3H857.6M855.9 224.3H865.5M855.3 223.8V224.6M855.3 223.8H855.9M855.3 224.6H865.5M848.0 218.5V224.2M848.0 218.5H851.3M848.0 224.2H855.3M859.8 225.3V225.8M859.8 225.3H865.5M859.8 225.8H865.5M859.2 225.0V225.5M859.2 225.0H865.5M859.2 225.5H859.8M860.4 226.8V227.4M860.4 226.8H865.5M860.4 227.4H865.5M859.8 227.1V227.6M859.8 227.1H860.4M859.8 227.6H865.5M859.2 226.3V227.4M859.2 226.3H865.5M859.2 227.4H859.8M858.6 225.3V226.8M858.6 225.3H859.2M858.6 226.8H859.2M860.8 228.0V228.5M860.8 228.0H865.5M860.8 228.5H865.5M859.5 228.3V228.6M859.5 228.3H860.8M859.5 228.6H865.5M858.0 226.0V228.5M858.0 226.0H858.6M858.0 228.5H859.5M860.3 230.2V230.7M860.3 230.2H865.5M860.3 230.7H865.5M861.5 231.6V232.0M861.5 231.6H865.5M861.5 232.0H865.5M860.9 231.3V231.8M860.9 231.3H865.5M860.9 231.8H861.5M860.3 231.0V231.5M860.3 231.0H865.5M860.3 231.5H860.9M859.7 230.4V231.3M859.7 230.4H860.3M859.7 231.3H860.3M859.1 230.9V232.3M859.1 230.9H859.7M859.1 232.3H865.5M858.5 231.6V232.8M858.5 231.6H859.1M858.5 232.8H865.5M857.9 229.5V232.2M857.9 229.5H865.5M857.9 232.2H858.5M857.3 229.0V230.8M857.3 229.0H865.5M857.3 230.8H857.9M855.9 227.3V229.9M855.9 227.3H858.0M855.9 229.9H857.3M858.3 233.7V234.2M858.3 233.7H865.5M858.3 234.2H865.5M857.5 233.4V234.0M857.5 233.4H865.5M857.5 234.0H858.3M856.9 233.2V233.7M856.9 233.2H865.5M856.9 233.7H857.5M855.3 228.6V233.4M855.3 228.6H855.9M855.3 233.4H856.9M859.6 234.9V235.3M859.6 234.9H865.5M859.6 235.3H865.5M859.6 235.5V235.9M859.6 235.5H865.5M859.6 235.9H865.5M859.0 235.1V235.7M859.0 235.1H859.6M859.0 235.7H859.6M859.9 236.7V237.1M859.9 236.7H865.5M859.9 237.1H865.5M859.3 236.9V237.6M859.3 236.9H859.9M859.3 237.6H865.5M858.7 236.5V237.2M858.7 236.5H865.5M858.7 237.2H859.3M858.1 236.8V237.8M858.1 236.8H858.7M858.1 237.8H865.5M857.5 237.3V238.2M857.5 237.3H858.1M857.5 238.2H865.5M856.9 235.4V237.8M856.9 235.4H859.0M856.9 237.8H857.5M858.3 239.9V240.4M858.3 239.9H865.5M858.3 240.4H865.5M857.4 239.3V240.2M857.4 239.3H865.5M857.4 240.2H858.3M856.8 238.7V239.7M856.8 238.7H865.5M856.8 239.7H857.4M856.2 236.6V239.2M856.2 236.6H856.9M856.2 239.2H856.8M858.8 241.4V242.0M858.8 241.4H865.5M858.8 242.0H865.5M860.0 242.8V243.3M860.0 242.8H865.5M860.0 243.3H865.5M859.4 243.0V243.6M859.4 243.0H860.0M859.4 243.6H865.5M858.8 243.3V243.9M858.8 243.3H859.4M858.8 243.9H865.5M858.2 241.7V243.6M858.2 241.7H858.8M858.2 243.6H858.8M858.2 244.1V244.6M858.2 244.1H865.5M858.2 244.6H865.5M857.6 242.6V244.4M857.6 242.6H858.2M857.6 244.4H858.2M856.3 241.0V243.5M856.3 241.0H865.5M856.3 243.5H857.6M859.4 246.1V246.6M859.4 246.1H865.5M859.4 246.6H865.5M857.5 245.6V246.4M857.5 245.6H865.5M857.5 246.4H859.4M856.9 245.2V246.0M856.9 245.2H865.5M856.9 246.0H857.5M856.9 247.1V247.7M856.9 247.1H865.5M856.9 247.7H865.5M856.3 245.6V247.4M856.3 245.6H856.9M856.3 247.4H856.9M855.7 242.2V246.5M855.7 242.2H856.3M855.7 246.5H856.3M860.9 249.6V250.0M860.9 249.6H865.5M860.9 250.0H865.5M860.3 249.2V249.8M860.3 249.2H865.5M860.3 249.8H860.9M859.7 248.7V249.5M859.7 248.7H865.5M859.7 249.5H860.3M859.1 249.1V250.4M859.1 249.1H859.7M859.1 250.4H865.5M858.5 248.2V249.7M858.5 248.2H865.5M858.5 249.7H859.1M855.1 244.4V249.0M855.1 244.4H855.7M855.1 249.0H858.5M863.1 251.0V251.5M863.1 251.0H865.5M863.1 251.5H865.5M862.5 251.2V251.9M862.5 251.2H863.1M862.5 251.9H865.5M861.9 251.0V251.6M861.9 251.0H865.5M861.9 251.6H862.5M861.3 250.8V251.3M861.3 250.8H865.5M861.3 251.3H861.9M860.7 250.6V251.0M860.7 250.6H865.5M860.7 251.0H861.3M862.3 252.8V253.3M862.3 252.8H865.5M862.3 253.3H865.5M861.7 252.2V253.0M861.7 252.2H865.5M861.7 253.0H862.3M861.7 253.7V254.2M861.7 253.7H865.5M861.7 254.2H865.5M861.1 252.6V253.9M861.1 252.6H861.7M861.1 253.9H861.7M860.1 250.8V253.3M860.1 250.8H860.7M860.1 253.3H861.1M861.9 254.8V255.4M861.9 254.8H865.5M861.9 255.4H865.5M861.3 255.1V255.8M861.3 255.1H861.9M861.3 255.8H865.5M860.7 255.5V256.3M860.7 255.5H861.3M860.7 256.3H865.5M860.7 256.8V257.4M860.7 256.8H865.5M860.7 257.4H865.5M860.1 255.9V257.1M860.1 255.9H860.7M860.1 257.1H860.7M859.5 252.1V256.5M859.5 252.1H860.1M859.5 256.5H860.1M854.5 246.7V254.3M854.5 246.7H855.1M854.5 254.3H859.5M852.8 237.9V250.5M852.8 237.9H856.2M852.8 250.5H854.5M851.7 231.0V244.2M851.7 231.0H855.3M851.7 244.2H852.8M854.2 258.1V258.6M854.2 258.1H865.5M854.2 258.6H865.5M856.7 259.2V259.7M856.7 259.2H865.5M856.7 259.7H865.5M856.1 259.5V260.0M856.1 259.5H856.7M856.1 260.0H865.5M859.1 260.8V261.3M859.1 260.8H865.5M859.1 261.3H865.5M858.5 260.3V261.1M858.5 260.3H865.5M858.5 261.1H859.1M857.9 260.7V261.6M857.9 260.7H858.5M857.9 261.6H865.5M859.3 262.4V262.9M859.3 262.4H865.5M859.3 262.9H865.5M858.7 262.2V262.7M858.7 262.2H865.5M858.7 262.7H859.3M858.1 262.0V262.5M858.1 262.0H865.5M858.1 262.5H858.7M857.5 262.2V263.4M857.5 262.2H858.1M857.5 263.4H865.5M856.1 261.2V262.8M856.1 261.2H857.9M856.1 262.8H857.5M855.5 259.7V262.0M855.5 259.7H856.1M855.5 262.0H856.1M856.2 263.9V264.6M856.2 263.9H865.5M856.2 264.6H865.5M854.5 260.9V264.2M854.5 260.9H855.5M854.5 264.2H856.2M853.6 258.4V262.6M853.6 258.4H854.2M853.6 262.6H854.5M856.8 265.2V265.7M856.8 265.2H865.5M856.8 265.7H865.5M856.2 265.4V265.9M856.2 265.4H856.8M856.2 265.9H865.5M855.6 265.7V266.2M855.6 265.7H856.2M855.6 266.2H865.5M854.5 265.9V266.6M854.5 265.9H855.6M854.5 266.6H865.5M860.9 267.3V267.7M860.9 267.3H865.5M860.9 267.7H865.5M860.3 267.5V267.9M860.3 267.5H860.9M860.3 267.9H865.5M859.7 267.7V268.1M859.7 267.7H860.3M859.7 268.1H865.5M861.9 268.5V268.9M861.9 268.5H865.5M861.9 268.9H865.5M861.3 268.3V268.7M861.3 268.3H865.5M861.3 268.7H861.9M860.3 268.5V269.3M860.3 268.5H861.3M860.3 269.3H865.5M860.9 269.9V270.4M860.9 269.9H865.5M860.9 270.4H865.5M860.3 269.6V270.2M860.3 269.6H865.5M860.3 270.2H860.9M859.7 268.9V269.9M859.7 268.9H860.3M859.7 269.9H860.3M859.1 267.9V269.4M859.1 267.9H859.7M859.1 269.4H859.7M857.3 268.7V270.9M857.3 268.7H859.1M857.3 270.9H865.5M854.5 269.8V271.5M854.5 269.8H857.3M854.5 271.5H865.5M853.9 266.3V270.7M853.9 266.3H854.5M853.9 270.7H854.5M857.7 272.2V272.8M857.7 272.2H865.5M857.7 272.8H865.5M853.3 268.5V272.5M853.3 268.5H853.9M853.3 272.5H857.7M852.7 260.5V270.5M852.7 260.5H853.6M852.7 270.5H853.3M857.9 273.2V273.7M857.9 273.2H865.5M857.9 273.7H865.5M857.3 273.4V274.2M857.3 273.4H857.9M857.3 274.2H865.5M856.8 274.7V275.1M856.8 274.7H865.5M856.8 275.1H865.5M856.2 274.9V275.3M856.2 274.9H856.8M856.2 275.3H865.5M857.9 275.7V276.4M857.9 275.7H865.5M857.9 276.4H865.5M856.8 276.0V276.9M856.8 276.0H857.9M856.8 276.9H865.5M860.3 278.0V278.5M860.3 278.0H865.5M860.3 278.5H865.5M859.7 277.7V278.2M859.7 277.7H865.5M859.7 278.2H860.3M859.1 277.5V278.0M859.1 277.5H865.5M859.1 278.0H859.7M858.5 277.3V277.8M858.5 277.3H865.5M858.5 277.8H859.1M857.4 277.5V278.9M857.4 277.5H858.5M857.4 278.9H865.5M856.8 278.2V279.3M856.8 278.2H857.4M856.8 279.3H865.5M856.2 276.5V278.8M856.2 276.5H856.8M856.2 278.8H856.8M855.6 275.1V277.6M855.6 275.1H856.2M855.6 277.6H856.2M855.0 273.8V276.4M855.0 273.8H857.3M855.0 276.4H855.6M852.1 265.5V275.1M852.1 265.5H852.7M852.1 275.1H855.0M860.7 279.9V280.3M860.7 279.9H865.5M860.7 280.3H865.5M858.1 280.5V281.0M858.1 280.5H865.5M858.1 281.0H865.5M857.2 280.1V280.7M857.2 280.1H860.7M857.2 280.7H858.1M861.7 283.1V283.6M861.7 283.1H865.5M861.7 283.6H865.5M861.1 282.3V283.3M861.1 282.3H865.5M861.1 283.3H861.7M860.5 281.6V282.8M860.5 281.6H865.5M860.5 282.8H861.1M859.9 282.2V283.9M859.9 282.2H860.5M859.9 283.9H865.5M861.0 284.6V285.0M861.0 284.6H865.5M861.0 285.0H865.5M860.4 284.3V284.8M860.4 284.3H865.5M860.4 284.8H861.0M859.8 284.1V284.6M859.8 284.1H865.5M859.8 284.6H860.4M859.2 283.0V284.3M859.2 283.0H859.9M859.2 284.3H859.8M860.0 285.8V286.3M860.0 285.8H865.5M860.0 286.3H865.5M859.4 286.1V286.6M859.4 286.1H860.0M859.4 286.6H865.5M858.8 286.3V286.8M858.8 286.3H859.4M858.8 286.8H865.5M858.2 286.6V287.1M858.2 286.6H858.8M858.2 287.1H865.5M857.6 283.7V286.8M857.6 283.7H859.2M857.6 286.8H858.2M855.6 285.3V287.7M855.6 285.3H857.6M855.6 287.7H865.5M854.5 280.4V286.5M854.5 280.4H857.2M854.5 286.5H855.6M851.4 270.3V283.4M851.4 270.3H852.1M851.4 283.4H854.5M860.7 289.4V290.0M860.7 289.4H865.5M860.7 290.0H865.5M859.3 289.7V290.5M859.3 289.7H860.7M859.3 290.5H865.5M858.7 290.1V291.0M858.7 290.1H859.3M858.7 291.0H865.5M858.1 288.8V290.5M858.1 288.8H865.5M858.1 290.5H858.7M857.5 288.2V289.7M857.5 288.2H865.5M857.5 289.7H858.1M856.9 289.0V291.5M856.9 289.0H857.5M856.9 291.5H865.5M862.0 292.8V293.3M862.0 292.8H865.5M862.0 293.3H865.5M861.4 292.4V293.1M861.4 292.4H865.5M861.4 293.1H862.0M860.8 292.1V292.7M860.8 292.1H865.5M860.8 292.7H861.4M856.3 290.2V292.4M856.3 290.2H856.9M856.3 292.4H860.8M859.3 293.6V294.3M859.3 293.6H865.5M859.3 294.3H865.5M858.7 294.0V294.7M858.7 294.0H859.3M858.7 294.7H865.5M858.1 294.3V294.9M858.1 294.3H858.7M858.1 294.9H865.5M857.5 294.6V295.3M857.5 294.6H858.1M857.5 295.3H865.5M856.9 294.9V295.7M856.9 294.9H857.5M856.9 295.7H865.5M858.3 296.0V296.5M858.3 296.0H865.5M858.3 296.5H865.5M856.3 295.3V296.2M856.3 295.3H856.9M856.3 296.2H858.3M855.7 291.3V295.8M855.7 291.3H856.3M855.7 295.8H856.3M860.3 296.9V297.5M860.3 296.9H865.5M860.3 297.5H865.5M862.1 299.2V299.7M862.1 299.2H865.5M862.1 299.7H865.5M861.5 299.0V299.5M861.5 299.0H865.5M861.5 299.5H862.1M860.9 298.8V299.3M860.9 298.8H865.5M860.9 299.3H861.5M860.3 298.2V299.0M860.3 298.2H865.5M860.3 299.0H860.9M859.7 297.2V298.6M859.7 297.2H860.3M859.7 298.6H860.3M855.1 293.6V297.9M855.1 293.6H855.7M855.1 297.9H859.7M847.4 276.9V295.7M847.4 276.9H851.4M847.4 295.7H855.1M843.7 237.6V286.3M843.7 237.6H851.7M843.7 286.3H847.4M839.7 221.4V261.9M839.7 221.4H848.0M839.7 261.9H843.7M837.7 196.3V241.7M837.7 196.3H851.1M837.7 241.7H839.7M832.7 156.9V219.0M832.7 156.9H839.8M832.7 219.0H837.7M832.7 187.9V270.0M856.5 300.8V301.4M856.5 300.8H865.5M856.5 301.4H865.5M856.4 302.0V302.5M856.4 302.0H865.5M856.4 302.5H865.5M855.8 302.2V302.8M855.8 302.2H856.4M855.8 302.8H865.5M854.3 301.1V302.5M854.3 301.1H856.5M854.3 302.5H855.8M853.7 301.8V303.2M853.7 301.8H854.3M853.7 303.2H865.5M852.7 300.4V302.5M852.7 300.4H865.5M852.7 302.5H853.7M850.1 300.2V301.5M850.1 300.2H865.5M850.1 301.5H852.7M857.6 303.7V304.1M857.6 303.7H865.5M857.6 304.1H865.5M858.2 304.5V305.0M858.2 304.5H865.5M858.2 305.0H865.5M857.6 304.8V305.4M857.6 304.8H858.2M857.6 305.4H865.5M857.0 303.9V305.1M857.0 303.9H857.6M857.0 305.1H857.6M853.7 304.5V305.6M853.7 304.5H857.0M853.7 305.6H865.5M848.2 300.8V305.0M848.2 300.8H850.1M848.2 305.0H853.7M858.8 306.4V306.8M858.8 306.4H865.5M858.8 306.8H865.5M858.0 306.6V307.0M858.0 306.6H858.8M858.0 307.0H865.5M857.4 305.9V306.8M857.4 305.9H865.5M857.4 306.8H858.0M856.8 306.3V307.2M856.8 306.3H857.4M856.8 307.2H865.5M846.3 302.9V306.8M846.3 302.9H848.2M846.3 306.8H856.8M855.6 308.1V308.6M855.6 308.1H865.5M855.6 308.6H865.5M855.0 308.4V309.0M855.0 308.4H855.6M855.0 309.0H865.5M854.4 307.7V308.7M854.4 307.7H865.5M854.4 308.7H855.0M844.9 304.8V308.2M844.9 304.8H846.3M844.9 308.2H854.4M857.5 310.8V311.2M857.5 310.8H865.5M857.5 311.2H865.5M856.9 310.5V311.0M856.9 310.5H865.5M856.9 311.0H857.5M855.8 310.3V310.7M855.8 310.3H865.5M855.8 310.7H856.9M853.1 309.8V310.5M853.1 309.8H865.5M853.1 310.5H855.8M858.0 313.0V313.4M858.0 313.0H865.5M858.0 313.4H865.5M856.9 312.5V313.2M856.9 312.5H865.5M856.9 313.2H858.0M854.7 312.3V312.9M854.7 312.3H865.5M854.7 312.9H856.9M854.1 311.8V312.6M854.1 311.8H865.5M854.1 312.6H854.7M852.5 310.2V312.2M852.5 310.2H853.1M852.5 312.2H854.1M851.9 309.3V311.2M851.9 309.3H865.5M851.9 311.2H852.5M861.2 313.8V314.3M861.2 313.8H865.5M861.2 314.3H865.5M860.6 314.1V314.7M860.6 314.1H861.2M860.6 314.7H865.5M861.2 315.3V315.7M861.2 315.3H865.5M861.2 315.7H865.5M860.6 314.8V315.5M860.6 314.8H865.5M860.6 315.5H861.2M860.0 314.4V315.1M860.0 314.4H860.6M860.0 315.1H860.6M859.4 314.8V316.0M859.4 314.8H860.0M859.4 316.0H865.5M857.3 313.6V315.4M857.3 313.6H865.5M857.3 315.4H859.4M856.7 314.5V316.5M856.7 314.5H857.3M856.7 316.5H865.5M855.6 315.5V317.1M855.6 315.5H856.7M855.6 317.1H865.5M859.1 317.7V318.2M859.1 317.7H865.5M859.1 318.2H865.5M858.1 317.9V318.6M858.1 317.9H859.1M858.1 318.6H865.5M858.7 318.9V319.4M858.7 318.9H865.5M858.7 319.4H865.5M859.9 320.4V320.8M859.9 320.4H865.5M859.9 320.8H865.5M859.3 319.9V320.6M859.3 319.9H865.5M859.3 320.6H859.9M861.1 321.8V322.3M861.1 321.8H865.5M861.1 322.3H865.5M860.5 321.4V322.0M860.5 321.4H865.5M860.5 322.0H861.1M859.9 321.1V321.7M859.9 321.1H865.5M859.9 321.7H860.5M861.1 323.3V323.8M861.1 323.3H865.5M861.1 323.8H865.5M860.5 322.9V323.5M860.5 322.9H865.5M860.5 323.5H861.1M859.9 322.6V323.2M859.9 322.6H865.5M859.9 323.2H860.5M859.3 321.4V322.9M859.3 321.4H859.9M859.3 322.9H859.9M858.7 320.2V322.1M858.7 320.2H859.3M858.7 322.1H859.3M858.1 319.2V321.2M858.1 319.2H858.7M858.1 321.2H858.7M857.5 318.2V320.2M857.5 318.2H858.1M857.5 320.2H858.1M862.3 324.7V325.2M862.3 324.7H865.5M862.3 325.2H865.5M861.7 324.1V325.0M861.7 324.1H865.5M861.7 325.0H862.3M861.1 324.6V325.7M861.1 324.6H861.7M861.1 325.7H865.5M860.5 325.1V326.2M860.5 325.1H861.1M860.5 326.2H865.5M860.3 326.9V327.5M860.3 326.9H865.5M860.3 327.5H865.5M859.7 325.7V327.2M859.7 325.7H860.5M859.7 327.2H860.3M854.6 319.2V326.4M854.6 319.2H857.5M854.6 326.4H859.7M854.0 316.3V322.8M854.0 316.3H855.6M854.0 322.8H854.6M861.6 327.9V328.3M861.6 327.9H865.5M861.6 328.3H865.5M863.4 329.6V330.2M863.4 329.6H865.5M863.4 330.2H865.5M862.8 329.2V329.9M862.8 329.2H865.5M862.8 329.9H863.4M862.2 328.8V329.5M862.2 328.8H865.5M862.2 329.5H862.8M861.6 329.2V330.6M861.6 329.2H862.2M861.6 330.6H865.5M861.0 328.1V329.9M861.0 328.1H861.6M861.0 329.9H861.6M860.4 329.0V331.0M860.4 329.0H861.0M860.4 331.0H865.5M853.4 319.6V330.0M853.4 319.6H854.0M853.4 330.0H860.4M858.9 331.5V331.9M858.9 331.5H865.5M858.9 331.9H865.5M860.7 332.8V333.2M860.7 332.8H865.5M860.7 333.2H865.5M860.1 333.0V333.5M860.1 333.0H860.7M860.1 333.5H865.5M859.5 332.4V333.3M859.5 332.4H865.5M859.5 333.3H860.1M860.7 334.7V335.3M860.7 334.7H865.5M860.7 335.3H865.5M860.1 334.2V335.0M860.1 334.2H865.5M860.1 335.0H860.7M859.5 333.8V334.6M859.5 333.8H865.5M859.5 334.6H860.1M858.9 332.8V334.2M858.9 332.8H859.5M858.9 334.2H859.5M858.3 331.7V333.5M858.3 331.7H858.9M858.3 333.5H858.9M852.8 324.8V332.6M852.8 324.8H853.4M852.8 332.6H858.3M862.8 336.6V337.1M862.8 336.6H865.5M862.8 337.1H865.5M862.2 336.1V336.8M862.2 336.1H865.5M862.2 336.8H862.8M861.6 335.7V336.5M861.6 335.7H865.5M861.6 336.5H862.2M861.0 336.1V337.6M861.0 336.1H861.6M861.0 337.6H865.5M862.0 338.3V338.8M862.0 338.3H865.5M862.0 338.8H865.5M862.6 339.3V339.7M862.6 339.3H865.5M862.6 339.7H865.5M862.0 338.9V339.5M862.0 338.9H865.5M862.0 339.5H862.6M861.4 338.5V339.2M861.4 338.5H862.0M861.4 339.2H862.0M861.1 340.2V340.8M861.1 340.2H865.5M861.1 340.8H865.5M860.5 340.5V341.3M860.5 340.5H861.1M860.5 341.3H865.5M859.9 340.9V341.7M859.9 340.9H860.5M859.9 341.7H865.5M859.3 338.9V341.3M859.3 338.9H861.4M859.3 341.3H859.9M858.7 336.9V340.1M858.7 336.9H861.0M858.7 340.1H859.3M852.2 328.7V338.5M852.2 328.7H852.8M852.2 338.5H858.7M853.5 342.4V342.9M853.5 342.4H865.5M853.5 342.9H865.5M852.9 342.7V343.2M852.9 342.7H853.5M852.9 343.2H865.5M852.3 343.0V343.8M852.3 343.0H852.9M852.3 343.8H865.5M857.0 345.0V345.5M857.0 345.0H865.5M857.0 345.5H865.5M856.4 345.2V345.9M856.4 345.2H857.0M856.4 345.9H865.5M855.8 344.4V345.6M855.8 344.4H865.5M855.8 345.6H856.4M851.7 343.4V345.0M851.7 343.4H852.3M851.7 345.0H855.8M854.3 346.1V346.6M854.3 346.1H865.5M854.3 346.6H865.5M856.2 346.9V347.4M856.2 346.9H865.5M856.2 347.4H865.5M855.6 347.2V347.9M855.6 347.2H856.2M855.6 347.9H865.5M853.7 346.3V347.5M853.7 346.3H854.3M853.7 347.5H855.6M851.1 344.2V346.9M851.1 344.2H851.7M851.1 346.9H853.7M858.6 349.6V350.0M858.6 349.6H865.5M858.6 350.0H865.5M858.0 349.2V349.8M858.0 349.2H865.5M858.0 349.8H858.6M857.4 348.8V349.5M857.4 348.8H865.5M857.4 349.5H858.0M856.8 349.1V350.4M856.8 349.1H857.4M856.8 350.4H865.5M861.7 351.3V351.7M861.7 351.3H865.5M861.7 351.7H865.5M861.1 350.8V351.5M861.1 350.8H865.5M861.1 351.5H861.7M860.5 351.2V351.9M860.5 351.2H861.1M860.5 351.9H865.5M856.2 349.8V351.5M856.2 349.8H856.8M856.2 351.5H860.5M854.1 348.3V350.6M854.1 348.3H865.5M854.1 350.6H856.2M849.9 345.6V349.5M849.9 345.6H851.1M849.9 349.5H854.1M846.7 333.6V347.5M846.7 333.6H852.2M846.7 347.5H849.9M843.8 310.2V340.6M843.8 310.2H851.9M843.8 340.6H846.7M836.5 306.5V325.4M836.5 306.5H844.9M836.5 325.4H843.8M836.5 316.0V326.6M857.8 352.7V353.2M857.8 352.7H865.5M857.8 353.2H865.5M856.7 352.2V352.9M856.7 352.2H865.5M856.7 352.9H857.8M860.9 354.4V354.8M860.9 354.4H865.5M860.9 354.8H865.5M860.3 354.0V354.6M860.3 354.0H865.5M860.3 354.6H860.9M859.7 354.3V355.0M859.7 354.3H860.3M859.7 355.0H865.5M859.1 354.7V355.1M859.1 354.7H859.7M859.1 355.1H865.5M858.5 354.9V355.3M858.5 354.9H859.1M858.5 355.3H865.5M858.5 355.6V356.2M858.5 355.6H865.5M858.5 356.2H865.5M857.9 355.1V355.9M857.9 355.1H858.5M857.9 355.9H858.5M857.3 355.5V356.9M857.3 355.5H857.9M857.3 356.9H865.5M856.7 353.6V356.2M856.7 353.6H865.5M856.7 356.2H857.3M856.1 352.6V354.9M856.1 352.6H856.7M856.1 354.9H856.7M857.4 358.6V359.2M857.4 358.6H865.5M857.4 359.2H865.5M856.8 357.9V358.9M856.8 357.9H865.5M856.8 358.9H857.4M856.2 357.5V358.4M856.2 357.5H865.5M856.2 358.4H856.8M855.5 353.7V358.0M855.5 353.7H856.1M855.5 358.0H856.2M858.1 359.8V360.5M858.1 359.8H865.5M858.1 360.5H865.5M853.9 355.9V360.1M853.9 355.9H855.5M853.9 360.1H858.1M855.3 360.9V361.3M855.3 360.9H865.5M855.3 361.3H865.5M854.7 361.1V361.7M854.7 361.1H855.3M854.7 361.7H865.5M861.4 362.6V363.0M861.4 362.6H865.5M861.4 363.0H865.5M860.8 362.1V362.8M860.8 362.1H865.5M860.8 362.8H861.4M860.2 362.5V363.4M860.2 362.5H860.8M860.2 363.4H865.5M856.7 363.6V364.1M856.7 363.6H865.5M856.7 364.1H865.5M860.2 364.7V365.1M860.2 364.7H865.5M860.2 365.1H865.5M859.6 364.9V365.3M859.6 364.9H860.2M859.6 365.3H865.5M856.1 363.9V365.1M856.1 363.9H856.7M856.1 365.1H859.6M854.7 362.9V364.5M854.7 362.9H860.2M854.7 364.5H856.1M854.1 361.4V363.7M854.1 361.4H854.7M854.1 363.7H854.7M855.9 365.7V366.4M855.9 365.7H865.5M855.9 366.4H865.5M855.3 366.0V367.1M855.3 366.0H855.9M855.3 367.1H865.5M854.7 366.6V367.6M854.7 366.6H855.3M854.7 367.6H865.5M859.1 368.4V368.8M859.1 368.4H865.5M859.1 368.8H865.5M858.5 368.6V369.3M858.5 368.6H859.1M858.5 369.3H865.5M857.7 368.9V369.5M857.7 368.9H858.5M857.7 369.5H865.5M857.1 369.2V370.0M857.1 369.2H857.7M857.1 370.0H865.5M856.5 368.0V369.6M856.5 368.0H865.5M856.5 369.6H857.1M858.1 371.0V371.5M858.1 371.0H865.5M858.1 371.5H865.5M857.5 370.5V371.3M857.5 370.5H865.5M857.5 371.3H858.1M855.3 368.8V370.9M855.3 368.8H856.5M855.3 370.9H857.5M854.1 367.1V369.8M854.1 367.1H854.7M854.1 369.8H855.3M853.5 362.5V368.4M853.5 362.5H854.1M853.5 368.4H854.1M851.8 358.0V365.5M851.8 358.0H853.9M851.8 365.5H853.5M862.4 372.6V373.2M862.4 372.6H865.5M862.4 373.2H865.5M861.8 372.9V373.7M861.8 372.9H862.4M861.8 373.7H865.5M861.2 372.3V373.3M861.2 372.3H865.5M861.2 373.3H861.8M860.6 372.0V372.8M860.6 372.0H865.5M860.6 372.8H861.2M856.6 374.0V374.5M856.6 374.0H865.5M856.6 374.5H865.5M853.9 374.2V375.2M853.9 374.2H856.6M853.9 375.2H865.5M853.9 375.7V376.1M853.9 375.7H865.5M853.9 376.1H865.5M853.3 374.7V375.9M853.3 374.7H853.9M853.3 375.9H853.9M851.8 372.4V375.3M851.8 372.4H860.6M851.8 375.3H853.3M850.7 376.8V377.5M850.7 376.8H865.5M850.7 377.5H865.5M863.3 378.5V379.0M863.3 378.5H865.5M863.3 379.0H865.5M863.3 379.2V379.7M863.3 379.2H865.5M863.3 379.7H865.5M862.7 378.7V379.5M862.7 378.7H863.3M862.7 379.5H863.3M862.1 379.1V380.1M862.1 379.1H862.7M862.1 380.1H865.5M861.5 378.1V379.6M861.5 378.1H865.5M861.5 379.6H862.1M860.9 378.8V380.6M860.9 378.8H861.5M860.9 380.6H865.5M860.3 379.7V381.2M860.3 379.7H860.9M860.3 381.2H865.5M860.3 381.5V381.9M860.3 381.5H865.5M860.3 381.9H865.5M859.7 380.4V381.7M859.7 380.4H860.3M859.7 381.7H860.3M856.7 382.5V382.9M856.7 382.5H865.5M856.7 382.9H865.5M856.1 383.1V383.5M856.1 383.1H865.5M856.1 383.5H865.5M858.4 384.3V384.8M858.4 384.3H865.5M858.4 384.8H865.5M855.5 383.3V384.5M855.5 383.3H856.1M855.5 384.5H858.4M854.9 382.7V383.9M854.9 382.7H856.7M854.9 383.9H855.5M857.1 386.0V386.5M857.1 386.0H865.5M857.1 386.5H865.5M856.5 385.6V386.2M856.5 385.6H865.5M856.5 386.2H857.1M853.5 385.1V385.9M853.5 385.1H865.5M853.5 385.9H856.5M852.9 383.3V385.5M852.9 383.3H854.9M852.9 385.5H853.5M850.6 381.0V384.4M850.6 381.0H859.7M850.6 384.4H852.9M859.5 388.0V388.5M859.5 388.0H865.5M859.5 388.5H865.5M858.9 387.5V388.2M858.9 387.5H865.5M858.9 388.2H859.5M858.3 387.0V387.9M858.3 387.0H865.5M858.3 387.9H858.9M849.5 382.7V387.4M849.5 382.7H850.6M849.5 387.4H858.3M848.3 377.2V385.1M848.3 377.2H850.7M848.3 385.1H849.5M843.9 373.8V381.1M843.9 373.8H851.8M843.9 381.1H848.3M860.3 389.5V390.0M860.3 389.5H865.5M860.3 390.0H865.5M859.5 389.8V390.3M859.5 389.8H860.3M859.5 390.3H865.5M858.9 389.0V390.0M858.9 389.0H865.5M858.9 390.0H859.5M860.8 390.7V391.1M860.8 390.7H865.5M860.8 391.1H865.5M863.8 391.3V391.7M863.8 391.3H865.5M863.8 391.7H865.5M863.2 391.5V392.2M863.2 391.5H863.8M863.2 392.2H865.5M862.6 391.9V392.4M862.6 391.9H863.2M862.6 392.4H865.5M862.0 392.1V392.8M862.0 392.1H862.6M862.0 392.8H865.5M861.4 392.5V393.2M861.4 392.5H862.0M861.4 393.2H865.5M860.8 392.9V393.6M860.8 392.9H861.4M860.8 393.6H865.5M860.2 390.9V393.2M860.2 390.9H860.8M860.2 393.2H860.8M858.3 389.5V392.1M858.3 389.5H858.9M858.3 392.1H860.2M858.3 394.2V394.6M858.3 394.2H865.5M858.3 394.6H865.5M857.7 394.4V395.1M857.7 394.4H858.3M857.7 395.1H865.5M857.1 390.8V394.7M857.1 390.8H858.3M857.1 394.7H857.7M860.2 396.2V396.9M860.2 396.2H865.5M860.2 396.9H865.5M860.0 397.6V398.0M860.0 397.6H865.5M860.0 398.0H865.5M859.4 396.5V397.8M859.4 396.5H860.2M859.4 397.8H860.0M861.2 399.6V400.1M861.2 399.6H865.5M861.2 400.1H865.5M860.6 399.1V399.8M860.6 399.1H865.5M860.6 399.8H861.2M860.0 398.5V399.5M860.0 398.5H865.5M860.0 399.5H860.6M859.4 399.0V400.7M859.4 399.0H860.0M859.4 400.7H865.5M858.8 397.2V399.9M858.8 397.2H859.4M858.8 399.9H859.4M858.2 395.6V398.5M858.2 395.6H865.5M858.2 398.5H858.8M854.3 392.8V397.1M854.3 392.8H857.1M854.3 397.1H858.2M857.0 401.8V402.4M857.0 401.8H865.5M857.0 402.4H865.5M856.1 401.2V402.1M856.1 401.2H865.5M856.1 402.1H857.0M854.5 402.7V403.1M854.5 402.7H865.5M854.5 403.1H865.5M853.9 402.9V403.6M853.9 402.9H854.5M853.9 403.6H865.5M853.3 401.6V403.2M853.3 401.6H856.1M853.3 403.2H853.9M850.5 394.9V402.4M850.5 394.9H854.3M850.5 402.4H853.3M840.3 377.5V398.7M840.3 377.5H843.9M840.3 398.7H850.5M858.8 404.7V405.1M858.8 404.7H865.5M858.8 405.1H865.5M858.2 406.1V406.7M858.2 406.1H865.5M858.2 406.7H865.5M857.6 406.4V407.1M857.6 406.4H858.2M857.6 407.1H865.5M857.0 405.6V406.8M857.0 405.6H865.5M857.0 406.8H857.6M854.7 404.9V406.2M854.7 404.9H858.8M854.7 406.2H857.0M857.5 407.7V408.2M857.5 407.7H865.5M857.5 408.2H865.5M854.7 407.4V407.9M854.7 407.4H865.5M854.7 407.9H857.5M850.4 405.5V407.6M850.4 405.5H854.7M850.4 407.6H854.7M847.8 404.0V406.6M847.8 404.0H865.5M847.8 406.6H850.4M858.0 409.0V409.6M858.0 409.0H865.5M858.0 409.6H865.5M857.4 408.7V409.3M857.4 408.7H865.5M857.4 409.3H858.0M861.6 411.0V411.4M861.6 411.0H865.5M861.6 411.4H865.5M861.0 410.8V411.2M861.0 410.8H865.5M861.0 411.2H861.6M860.4 410.7V411.0M860.4 410.7H865.5M860.4 411.0H861.0M858.9 410.5V410.9M858.9 410.5H865.5M858.9 410.9H860.4M858.2 410.7V411.9M858.2 410.7H858.9M858.2 411.9H865.5M857.6 410.1V411.3M857.6 410.1H865.5M857.6 411.3H858.2M856.8 409.0V410.7M856.8 409.0H857.4M856.8 410.7H857.6M845.6 405.3V409.8M845.6 405.3H847.8M845.6 409.8H856.8M838.7 388.1V407.6M838.7 388.1H840.3M838.7 407.6H845.6M837.4 361.7V397.8M837.4 361.7H851.8M837.4 397.8H838.7M837.4 379.8V390.3M858.3 412.4V412.9M858.3 412.4H865.5M858.3 412.9H865.5M856.2 412.7V413.3M856.2 412.7H858.3M856.2 413.3H865.5M855.2 412.2V413.0M855.2 412.2H865.5M855.2 413.0H856.2M854.9 413.7V414.3M854.9 413.7H865.5M854.9 414.3H865.5M855.5 414.9V415.4M855.5 414.9H865.5M855.5 415.4H865.5M854.3 414.0V415.2M854.3 414.0H854.9M854.3 415.2H855.5M853.3 414.6V415.9M853.3 414.6H854.3M853.3 415.9H865.5M850.0 412.6V415.3M850.0 412.6H855.2M850.0 415.3H853.3M855.1 416.3V416.8M855.1 416.3H865.5M855.1 416.8H865.5M856.2 417.5V418.1M856.2 417.5H865.5M856.2 418.1H865.5M855.6 417.1V417.8M855.6 417.1H865.5M855.6 417.8H856.2M854.5 416.6V417.5M854.5 416.6H855.1M854.5 417.5H855.6M859.2 419.3V419.8M859.2 419.3H865.5M859.2 419.8H865.5M858.6 418.8V419.5M858.6 418.8H865.5M858.6 419.5H859.2M850.6 417.0V419.2M850.6 417.0H854.5M850.6 419.2H858.6M845.0 413.9V418.1M845.0 413.9H850.0M845.0 418.1H850.6M845.0 416.0V422.3M857.7 420.1V420.5M857.7 420.1H865.5M857.7 420.5H865.5M858.4 421.0V421.4M858.4 421.0H865.5M858.4 421.4H865.5M856.6 422.5V423.0M856.6 422.5H865.5M856.6 423.0H865.5M856.0 422.1V422.8M856.0 422.1H865.5M856.0 422.8H856.6M852.7 423.6V424.0M852.7 423.6H865.5M852.7 424.0H865.5M852.1 422.4V423.8M852.1 422.4H856.0M852.1 423.8H852.7M851.5 423.1V424.6M851.5 423.1H852.1M851.5 424.6H865.5M850.7 423.8V425.1M850.7 423.8H851.5M850.7 425.1H865.5M849.5 421.2V424.5M849.5 421.2H858.4M849.5 424.5H850.7M848.8 420.3V422.8M848.8 420.3H857.7M848.8 422.8H849.5M851.3 425.6V426.3M851.3 425.6H865.5M851.3 426.3H865.5M847.0 421.6V426.0M847.0 421.6H848.8M847.0 426.0H851.3M857.2 427.2V427.8M857.2 427.2H865.5M857.2 427.8H865.5M856.6 427.5V428.2M856.6 427.5H857.2M856.6 428.2H865.5M855.6 426.8V427.8M855.6 426.8H865.5M855.6 427.8H856.6M857.4 429.9V430.4M857.4 429.9H865.5M857.4 430.4H865.5M856.8 429.3V430.2M856.8 429.3H865.5M856.8 430.2H857.4M856.2 429.7V430.9M856.2 429.7H856.8M856.2 430.9H865.5M855.6 428.6V430.3M855.6 428.6H865.5M855.6 430.3H856.2M855.0 427.3V429.5M855.0 427.3H855.6M855.0 429.5H855.6M857.2 431.4V431.8M857.2 431.4H865.5M857.2 431.8H865.5M854.4 428.4V431.6M854.4 428.4H855.0M854.4 431.6H857.2M845.0 423.8V430.0M845.0 423.8H847.0M845.0 430.0H854.4M845.0 424.2V426.9M849.6 432.2V432.6M849.6 432.2H865.5M849.6 432.6H865.5M851.5 433.8V434.3M851.5 433.8H865.5M851.5 434.3H865.5M858.2 435.0V435.4M858.2 435.0H865.5M858.2 435.4H865.5M856.2 434.8V435.2M856.2 434.8H865.5M856.2 435.2H858.2M853.4 434.6V435.0M853.4 434.6H865.5M853.4 435.0H856.2M849.0 434.8V436.0M849.0 434.8H853.4M849.0 436.0H865.5M847.0 435.4V436.6M847.0 435.4H849.0M847.0 436.6H865.5M841.7 434.1V436.0M841.7 434.1H851.5M841.7 436.0H847.0M840.6 433.2V435.0M840.6 433.2H865.5M840.6 435.0H841.7M836.8 432.4V434.1M836.8 432.4H849.6M836.8 434.1H840.6M858.3 438.4V438.9M858.3 438.4H865.5M858.3 438.9H865.5M856.0 438.7V439.1M856.0 438.7H858.3M856.0 439.1H865.5M855.4 438.9V439.2M855.4 438.9H856.0M855.4 439.2H865.5M854.8 437.9V439.1M854.8 437.9H865.5M854.8 439.1H855.4M852.8 437.6V438.5M852.8 437.6H865.5M852.8 438.5H854.8M855.1 440.9V441.4M855.1 440.9H865.5M855.1 441.4H865.5M854.5 440.6V441.1M854.5 440.6H865.5M854.5 441.1H855.1M853.9 440.1V440.9M853.9 440.1H865.5M853.9 440.9H854.5M853.3 440.5V441.9M853.3 440.5H853.9M853.3 441.9H865.5M852.0 439.6V441.2M852.0 439.6H865.5M852.0 441.2H853.3M850.8 438.0V440.4M850.8 438.0H852.8M850.8 440.4H852.0M849.8 437.1V439.2M849.8 437.1H865.5M849.8 439.2H850.8M855.2 442.4V442.9M855.2 442.4H865.5M855.2 442.9H865.5M858.0 443.7V444.1M858.0 443.7H865.5M858.0 444.1H865.5M857.4 443.4V443.9M857.4 443.4H865.5M857.4 443.9H858.0M856.8 443.1V443.7M856.8 443.1H865.5M856.8 443.7H857.4M859.1 444.8V445.2M859.1 444.8H865.5M859.1 445.2H865.5M859.7 445.6V446.0M859.7 445.6H865.5M859.7 446.0H865.5M859.1 445.4V445.8M859.1 445.4H865.5M859.1 445.8H859.7M858.5 445.0V445.6M858.5 445.0H859.1M858.5 445.6H859.1M860.9 447.3V447.7M860.9 447.3H865.5M860.9 447.7H865.5M860.3 447.5V448.2M860.3 447.5H860.9M860.3 448.2H865.5M859.7 447.9V448.7M859.7 447.9H860.3M859.7 448.7H865.5M859.1 446.8V448.3M859.1 446.8H865.5M859.1 448.3H859.7M858.5 446.4V447.6M858.5 446.4H865.5M858.5 447.6H859.1M857.9 445.3V447.0M857.9 445.3H858.5M857.9 447.0H858.5M860.9 450.3V450.7M860.9 450.3H865.5M860.9 450.7H865.5M860.3 450.1V450.5M860.3 450.1H865.5M860.3 450.5H860.9M859.7 449.6V450.3M859.7 449.6H865.5M859.7 450.3H860.3M857.9 449.0V449.9M857.9 449.0H865.5M857.9 449.9H859.7M857.3 446.1V449.5M857.3 446.1H857.9M857.3 449.5H857.9M856.2 443.4V447.8M856.2 443.4H856.8M856.2 447.8H857.3M853.3 442.7V445.6M853.3 442.7H855.2M853.3 445.6H856.2M856.0 451.8V452.2M856.0 451.8H865.5M856.0 452.2H865.5M855.4 451.4V452.0M855.4 451.4H865.5M855.4 452.0H856.0M853.9 451.1V451.7M853.9 451.1H865.5M853.9 451.7H855.4M854.5 452.7V453.3M854.5 452.7H865.5M854.5 453.3H865.5M853.9 453.0V454.0M853.9 453.0H854.5M853.9 454.0H865.5M853.3 451.4V453.5M853.3 451.4H853.9M853.3 453.5H853.9M852.7 444.1V452.4M852.7 444.1H853.3M852.7 452.4H853.3M858.1 455.2V455.7M858.1 455.2H865.5M858.1 455.7H865.5M857.5 454.6V455.4M857.5 454.6H865.5M857.5 455.4H858.1M859.9 457.0V457.5M859.9 457.0H865.5M859.9 457.5H865.5M859.3 456.9V457.3M859.3 456.9H865.5M859.3 457.3H859.9M858.7 456.6V457.1M858.7 456.6H865.5M858.7 457.1H859.3M858.1 456.1V456.8M858.1 456.1H865.5M858.1 456.8H858.7M858.7 458.1V458.7M858.7 458.1H865.5M858.7 458.7H865.5M858.1 458.4V459.1M858.1 458.4H858.7M858.1 459.1H865.5M857.5 456.5V458.8M857.5 456.5H858.1M857.5 458.8H858.1M856.9 455.0V457.6M856.9 455.0H857.5M856.9 457.6H857.5M849.5 448.3V456.3M849.5 448.3H852.7M849.5 456.3H856.9M858.9 459.4V459.9M858.9 459.4H865.5M858.9 459.9H865.5M858.3 459.7V460.2M858.3 459.7H858.9M858.3 460.2H865.5M857.7 460.0V460.4M857.7 460.0H858.3M857.7 460.4H865.5M857.1 460.2V460.6M857.1 460.2H857.7M857.1 460.6H865.5M856.5 460.4V460.9M856.5 460.4H857.1M856.5 460.9H865.5M857.2 461.8V462.2M857.2 461.8H865.5M857.2 462.2H865.5M856.1 461.3V462.0M856.1 461.3H865.5M856.1 462.0H857.2M855.5 460.7V461.7M855.5 460.7H856.5M855.5 461.7H856.1M856.7 462.8V463.2M856.7 462.8H865.5M856.7 463.2H865.5M856.1 463.0V463.5M856.1 463.0H856.7M856.1 463.5H865.5M857.3 464.4V464.9M857.3 464.4H865.5M857.3 464.9H865.5M857.3 465.0V465.4M857.3 465.0H865.5M857.3 465.4H865.5M856.7 464.6V465.2M856.7 464.6H857.3M856.7 465.2H857.3M856.1 463.9V464.9M856.1 463.9H865.5M856.1 464.9H856.7M855.5 463.3V464.4M855.5 463.3H856.1M855.5 464.4H856.1M853.6 461.2V463.8M853.6 461.2H855.5M853.6 463.8H855.5M857.1 466.4V466.8M857.1 466.4H865.5M857.1 466.8H865.5M856.5 466.1V466.6M856.5 466.1H865.5M856.5 466.6H857.1M855.9 465.9V466.3M855.9 465.9H865.5M855.9 466.3H856.5M852.7 462.5V466.1M852.7 462.5H853.6M852.7 466.1H855.9M844.3 452.3V464.3M844.3 452.3H849.5M844.3 464.3H852.7M837.6 438.2V458.3M837.6 438.2H849.8M837.6 458.3H844.3M854.8 467.3V467.9M854.8 467.3H865.5M854.8 467.9H865.5M854.2 467.2V467.6M854.2 467.2H865.5M854.2 467.6H854.8M853.6 467.4V468.5M853.6 467.4H854.2M853.6 468.5H865.5M857.5 469.0V469.6M857.5 469.0H865.5M857.5 469.6H865.5M850.1 468.0V469.3M850.1 468.0H853.6M850.1 469.3H857.5M835.2 448.2V468.7M835.2 448.2H837.6M835.2 468.7H850.1M822.4 433.3V458.4M822.4 433.3H836.8M822.4 458.4H835.2M854.4 470.3V470.7M854.4 470.3H865.5M854.4 470.7H865.5M853.8 470.5V471.2M853.8 470.5H854.4M853.8 471.2H865.5M853.2 470.1V470.9M853.2 470.1H865.5M853.2 470.9H853.8M856.1 472.1V472.6M856.1 472.1H865.5M856.1 472.6H865.5M855.5 472.4V473.2M855.5 472.4H856.1M855.5 473.2H865.5M853.2 471.6V472.8M853.2 471.6H865.5M853.2 472.8H855.5M859.1 473.8V474.3M859.1 473.8H865.5M859.1 474.3H865.5M861.2 474.5V474.9M861.2 474.5H865.5M861.2 474.9H865.5M860.3 474.7V475.3M860.3 474.7H861.2M860.3 475.3H865.5M861.5 476.5V477.0M861.5 476.5H865.5M861.5 477.0H865.5M861.5 477.6V478.1M861.5 477.6H865.5M861.5 478.1H865.5M860.9 476.7V477.8M860.9 476.7H861.5M860.9 477.8H861.5M860.3 475.8V477.3M860.3 475.8H865.5M860.3 477.3H860.9M859.7 475.0V476.6M859.7 475.0H860.3M859.7 476.6H860.3M859.1 475.8V478.7M859.1 475.8H859.7M859.1 478.7H865.5M858.5 474.1V477.2M858.5 474.1H859.1M858.5 477.2H859.1M857.9 475.6V479.4M857.9 475.6H858.5M857.9 479.4H865.5M857.3 480.1V480.8M857.3 480.1H865.5M857.3 480.8H865.5M856.7 477.5V480.5M856.7 477.5H857.9M856.7 480.5H857.3M862.2 481.5V482.0M862.2 481.5H865.5M862.2 482.0H865.5M861.6 481.3V481.7M861.6 481.3H865.5M861.6 481.7H862.2M861.0 481.2V481.5M861.0 481.2H865.5M861.0 481.5H861.6M856.1 479.0V481.3M856.1 479.0H856.7M856.1 481.3H861.0M856.9 482.6V483.2M856.9 482.6H865.5M856.9 483.2H865.5M856.3 482.3V482.9M856.3 482.3H865.5M856.3 482.9H856.9M852.3 480.2V482.6M852.3 480.2H856.1M852.3 482.6H856.3M849.9 472.2V481.4M849.9 472.2H853.2M849.9 481.4H852.3M848.1 470.5V476.8M848.1 470.5H853.2M848.1 476.8H849.9M859.2 484.5V485.0M859.2 484.5H865.5M859.2 485.0H865.5M859.2 485.6V486.2M859.2 485.6H865.5M859.2 486.2H865.5M858.6 484.8V485.9M858.6 484.8H859.2M858.6 485.9H859.2M858.3 486.8V487.4M858.3 486.8H865.5M858.3 487.4H865.5M857.7 487.1V487.7M857.7 487.1H858.3M857.7 487.7H865.5M857.1 485.3V487.4M857.1 485.3H858.6M857.1 487.4H857.7M854.8 484.0V486.4M854.8 484.0H865.5M854.8 486.4H857.1M856.8 488.2V488.7M856.8 488.2H865.5M856.8 488.7H865.5M856.2 488.4V488.9M856.2 488.4H856.8M856.2 488.9H865.5M855.6 488.7V489.3M855.6 488.7H856.2M855.6 489.3H865.5M854.2 489.0V489.8M854.2 489.0H855.6M854.2 489.8H865.5M853.6 485.2V489.4M853.6 485.2H854.8M853.6 489.4H854.2M861.1 490.4V491.0M861.1 490.4H865.5M861.1 491.0H865.5M860.5 490.7V491.5M860.5 490.7H861.1M860.5 491.5H865.5M864.1 492.5V492.9M864.1 492.5H865.5M864.1 492.9H865.5M863.5 492.7V493.3M863.5 492.7H864.1M863.5 493.3H865.5M862.9 491.9V493.0M862.9 491.9H865.5M862.9 493.0H863.5M862.3 492.5V493.8M862.3 492.5H862.9M862.3 493.8H865.5M861.7 493.1V494.5M861.7 493.1H862.3M861.7 494.5H865.5M861.1 493.8V495.0M861.1 493.8H861.7M861.1 495.0H865.5M860.5 494.4V495.5M860.5 494.4H861.1M860.5 495.5H865.5M859.9 491.1V494.9M859.9 491.1H860.5M859.9 494.9H860.5M851.8 487.3V493.0M851.8 487.3H853.6M851.8 493.0H859.9M855.8 495.8V496.3M855.8 495.8H865.5M855.8 496.3H865.5M859.2 497.5V498.0M859.2 497.5H865.5M859.2 498.0H865.5M858.6 497.1V497.8M858.6 497.1H865.5M858.6 497.8H859.2M857.4 497.4V498.1M857.4 497.4H858.6M857.4 498.1H865.5M856.8 496.8V497.8M856.8 496.8H865.5M856.8 497.8H857.4M856.2 497.3V498.4M856.2 497.3H856.8M856.2 498.4H865.5M857.9 499.7V500.1M857.9 499.7H865.5M857.9 500.1H865.5M857.3 499.3V499.9M857.3 499.3H865.5M857.3 499.9H857.9M855.5 498.9V499.6M855.5 498.9H865.5M855.5 499.6H857.3M854.9 499.3V500.3M854.9 499.3H855.5M854.9 500.3H865.5M854.3 497.8V499.8M854.3 497.8H856.2M854.3 499.8H854.9M858.6 501.1V501.5M858.6 501.1H865.5M858.6 501.5H865.5M858.0 500.6V501.3M858.0 500.6H865.5M858.0 501.3H858.6M854.9 500.9V501.8M854.9 500.9H858.0M854.9 501.8H865.5M855.5 502.1V502.7M855.5 502.1H865.5M855.5 502.7H865.5M854.9 502.4V503.3M854.9 502.4H855.5M854.9 503.3H865.5M854.3 501.4V502.8M854.3 501.4H854.9M854.3 502.8H854.9M853.7 498.8V502.1M853.7 498.8H854.3M853.7 502.1H854.3M849.2 496.1V500.4M849.2 496.1H855.8M849.2 500.4H853.7M859.9 503.8V504.3M859.9 503.8H865.5M859.9 504.3H865.5M859.3 504.1V504.6M859.3 504.1H859.9M859.3 504.6H865.5M858.7 504.3V505.0M858.7 504.3H859.3M858.7 505.0H865.5M858.1 504.6V505.4M858.1 504.6H858.7M858.1 505.4H865.5M859.8 505.7V506.2M859.8 505.7H865.5M859.8 506.2H865.5M862.0 507.4V507.8M862.0 507.4H865.5M862.0 507.8H865.5M861.4 507.0V507.6M861.4 507.0H865.5M861.4 507.6H862.0M860.8 507.3V508.3M860.8 507.3H861.4M860.8 508.3H865.5M860.2 506.7V507.8M860.2 506.7H865.5M860.2 507.8H860.8M859.6 507.2V508.7M859.6 507.2H860.2M859.6 508.7H865.5M858.7 505.9V508.0M858.7 505.9H859.8M858.7 508.0H859.6M860.3 509.0V509.5M860.3 509.0H865.5M860.3 509.5H865.5M860.5 510.0V510.5M860.5 510.0H865.5M860.5 510.5H865.5M859.9 510.2V511.0M859.9 510.2H860.5M859.9 511.0H865.5M859.3 510.6V511.3M859.3 510.6H859.9M859.3 511.3H865.5M858.7 509.2V510.9M858.7 509.2H860.3M858.7 510.9H859.3M858.1 506.9V510.1M858.1 506.9H858.7M858.1 510.1H858.7M857.5 505.0V508.5M857.5 505.0H858.1M857.5 508.5H858.1M860.8 512.2V512.7M860.8 512.2H865.5M860.8 512.7H865.5M860.2 512.4V513.0M860.2 512.4H860.8M860.2 513.0H865.5M859.6 511.7V512.7M859.6 511.7H865.5M859.6 512.7H860.2M854.7 506.8V512.2M854.7 506.8H857.5M854.7 512.2H859.6M857.5 513.4V513.9M857.5 513.4H865.5M857.5 513.9H865.5M856.0 514.6V515.1M856.0 514.6H865.5M856.0 515.1H865.5M859.7 515.6V516.0M859.7 515.6H865.5M859.7 516.0H865.5M859.1 515.3V515.8M859.1 515.3H865.5M859.1 515.8H859.7M857.9 515.6V516.6M857.9 515.6H859.1M857.9 516.6H865.5M855.4 514.9V516.1M855.4 514.9H856.0M855.4 516.1H857.9M854.8 514.1V515.5M854.8 514.1H865.5M854.8 515.5H855.4M854.2 513.6V514.8M854.2 513.6H857.5M854.2 514.8H854.8M852.8 517.3V517.7M852.8 517.3H865.5M852.8 517.7H865.5M860.0 518.6V519.1M860.0 518.6H865.5M860.0 519.1H865.5M859.4 518.0V518.9M859.4 518.0H865.5M859.4 518.9H860.0M859.4 519.6V520.1M859.4 519.6H865.5M859.4 520.1H865.5M858.8 518.5V519.9M858.8 518.5H859.4M858.8 519.9H859.4M859.1 520.4V520.9M859.1 520.4H865.5M859.1 520.9H865.5M857.7 520.6V521.5M857.7 520.6H859.1M857.7 521.5H865.5M857.1 519.2V521.1M857.1 519.2H858.8M857.1 521.1H857.7M860.2 522.8V523.3M860.2 522.8H865.5M860.2 523.3H865.5M859.6 522.4V523.0M859.6 522.4H865.5M859.6 523.0H860.2M859.0 522.7V523.5M859.0 522.7H859.6M859.0 523.5H865.5M858.4 523.1V523.8M858.4 523.1H859.0M858.4 523.8H865.5M858.7 524.2V524.8M858.7 524.2H865.5M858.7 524.8H865.5M857.8 523.4V524.5M857.8 523.4H858.4M857.8 524.5H858.7M856.8 525.3V525.7M856.8 525.3H865.5M856.8 525.7H865.5M856.2 524.0V525.5M856.2 524.0H857.8M856.2 525.5H856.8M855.6 522.0V524.7M855.6 522.0H865.5M855.6 524.7H856.2M855.0 520.1V523.4M855.0 520.1H857.1M855.0 523.4H855.6M851.9 517.5V521.7M851.9 517.5H852.8M851.9 521.7H855.0M849.0 514.2V519.6M849.0 514.2H854.2M849.0 519.6H851.9M844.6 509.5V516.9M844.6 509.5H854.7M844.6 516.9H849.0M843.4 498.2V513.2M843.4 498.2H849.2M843.4 513.2H844.6M857.1 526.1V526.6M857.1 526.1H865.5M857.1 526.6H865.5M855.6 526.4V527.3M855.6 526.4H857.1M855.6 527.3H865.5M857.1 527.8V528.4M857.1 527.8H865.5M857.1 528.4H865.5M853.1 528.9V529.4M853.1 528.9H865.5M853.1 529.4H865.5M852.5 529.2V529.8M852.5 529.2H853.1M852.5 529.8H865.5M851.3 528.1V529.5M851.3 528.1H857.1M851.3 529.5H852.5M849.9 526.8V528.8M849.9 526.8H855.6M849.9 528.8H851.3M851.8 530.2V530.6M851.8 530.2H865.5M851.8 530.6H865.5M846.0 527.8V530.4M846.0 527.8H849.9M846.0 530.4H851.8M840.2 505.7V529.1M840.2 505.7H843.4M840.2 529.1H846.0M838.8 490.1V517.4M838.8 490.1H851.8M838.8 517.4H840.2M854.7 531.6V532.2M854.7 531.6H865.5M854.7 532.2H865.5M854.1 531.1V531.9M854.1 531.1H865.5M854.1 531.9H854.7M859.8 534.2V534.6M859.8 534.2H865.5M859.8 534.6H865.5M859.2 534.4V534.8M859.2 534.4H859.8M859.2 534.8H865.5M858.6 533.6V534.6M858.6 533.6H865.5M858.6 534.6H859.2M856.4 534.1V535.1M856.4 534.1H858.6M856.4 535.1H865.5M855.2 533.1V534.6M855.2 533.1H865.5M855.2 534.6H856.4M854.6 532.8V533.9M854.6 532.8H865.5M854.6 533.9H855.2M858.3 536.2V536.7M858.3 536.2H865.5M858.3 536.7H865.5M857.7 535.7V536.5M857.7 535.7H865.5M857.7 536.5H858.3M857.1 535.5V536.1M857.1 535.5H865.5M857.1 536.1H857.7M855.5 535.8V537.1M855.5 535.8H857.1M855.5 537.1H865.5M854.9 536.4V537.7M854.9 536.4H855.5M854.9 537.7H865.5M857.7 538.5V539.0M857.7 538.5H865.5M857.7 539.0H865.5M857.1 538.7V539.3M857.1 538.7H857.7M857.1 539.3H865.5M854.4 538.2V539.0M854.4 538.2H865.5M854.4 539.0H857.1M853.8 538.6V539.6M853.8 538.6H854.4M853.8 539.6H865.5M853.2 537.1V539.1M853.2 537.1H854.9M853.2 539.1H853.8M851.2 533.3V538.1M851.2 533.3H854.6M851.2 538.1H853.2M856.0 540.2V540.7M856.0 540.2H865.5M856.0 540.7H865.5M853.5 539.9V540.5M853.5 539.9H865.5M853.5 540.5H856.0M856.1 541.3V541.8M856.1 541.3H865.5M856.1 541.8H865.5M858.7 542.8V543.2M858.7 542.8H865.5M858.7 543.2H865.5M858.1 542.2V543.0M858.1 542.2H865.5M858.1 543.0H858.7M860.8 543.5V544.1M860.8 543.5H865.5M860.8 544.1H865.5M862.6 544.6V545.0M862.6 544.6H865.5M862.6 545.0H865.5M862.0 544.8V545.5M862.0 544.8H862.6M862.0 545.5H865.5M861.4 545.2V545.8M861.4 545.2H862.0M861.4 545.8H865.5M862.0 546.5V546.9M862.0 546.5H865.5M862.0 546.9H865.5M861.4 546.0V546.7M861.4 546.0H865.5M861.4 546.7H862.0M860.8 545.5V546.4M860.8 545.5H861.4M860.8 546.4H861.4M860.2 543.8V545.9M860.2 543.8H860.8M860.2 545.9H860.8M859.4 544.9V547.4M859.4 544.9H860.2M859.4 547.4H865.5M859.4 548.0V548.5M859.4 548.0H865.5M859.4 548.5H865.5M858.8 546.2V548.2M858.8 546.2H859.4M858.8 548.2H859.4M857.5 542.6V547.2M857.5 542.6H858.1M857.5 547.2H858.8M855.5 541.6V544.9M855.5 541.6H856.1M855.5 544.9H857.5M860.0 549.0V549.4M860.0 549.0H865.5M860.0 549.4H865.5M859.4 549.2V549.7M859.4 549.2H860.0M859.4 549.7H865.5M858.8 549.4V549.9M858.8 549.4H859.4M858.8 549.9H865.5M853.6 543.2V549.7M853.6 543.2H855.5M853.6 549.7H858.8M850.0 540.2V546.4M850.0 540.2H853.5M850.0 546.4H853.6M847.5 535.7V543.3M847.5 535.7H851.2M847.5 543.3H850.0M846.7 531.5V539.5M846.7 531.5H854.1M846.7 539.5H847.5M833.1 503.8V535.5M833.1 503.8H838.8M833.1 535.5H846.7M830.0 473.6V519.6M830.0 473.6H848.1M830.0 519.6H833.1M830.0 496.6V509.8M860.4 550.4V550.8M860.4 550.4H865.5M860.4 550.8H865.5M859.5 550.6V551.0M859.5 550.6H860.4M859.5 551.0H865.5M858.9 550.8V551.3M858.9 550.8H859.5M858.9 551.3H865.5M859.5 551.8V552.3M859.5 551.8H865.5M859.5 552.3H865.5M858.9 551.5V552.0M858.9 551.5H865.5M858.9 552.0H859.5M858.3 551.0V551.7M858.3 551.0H858.9M858.3 551.7H858.9M860.7 553.3V553.7M860.7 553.3H865.5M860.7 553.7H865.5M860.1 553.2V553.5M860.1 553.2H865.5M860.1 553.5H860.7M859.5 552.8V553.3M859.5 552.8H865.5M859.5 553.3H860.1M859.5 554.1V554.6M859.5 554.1H865.5M859.5 554.6H865.5M858.9 553.1V554.4M858.9 553.1H859.5M858.9 554.4H859.5M858.3 553.7V555.3M858.3 553.7H858.9M858.3 555.3H865.5M857.7 551.4V554.5M857.7 551.4H858.3M857.7 554.5H858.3M861.9 556.0V556.5M861.9 556.0H865.5M861.9 556.5H865.5M863.1 557.6V558.0M863.1 557.6H865.5M863.1 558.0H865.5M862.5 557.2V557.8M862.5 557.2H865.5M862.5 557.8H863.1M861.9 556.9V557.5M861.9 556.9H865.5M861.9 557.5H862.5M861.3 556.3V557.2M861.3 556.3H861.9M861.3 557.2H861.9M857.1 553.0V556.7M857.1 553.0H857.7M857.1 556.7H861.3M860.1 558.1V558.6M860.1 558.1H865.5M860.1 558.6H865.5M857.1 559.0V559.4M857.1 559.0H865.5M857.1 559.4H865.5M858.5 560.0V560.5M858.5 560.0H865.5M858.5 560.5H865.5M857.1 560.3V560.6M857.1 560.3H858.5M857.1 560.6H865.5M856.5 559.2V560.4M856.5 559.2H857.1M856.5 560.4H857.1M855.6 559.8V561.0M855.6 559.8H856.5M855.6 561.0H865.5M855.0 558.4V560.4M855.0 558.4H860.1M855.0 560.4H855.6M862.5 562.1V562.8M862.5 562.1H865.5M862.5 562.8H865.5M861.9 561.6V562.4M861.9 561.6H865.5M861.9 562.4H862.5M862.5 563.5V564.1M862.5 563.5H865.5M862.5 564.1H865.5M861.9 563.2V563.8M861.9 563.2H865.5M861.9 563.8H862.5M861.3 562.0V563.5M861.3 562.0H861.9M861.3 563.5H861.9M860.6 565.5V566.0M860.6 565.5H865.5M860.6 566.0H865.5M860.0 564.9V565.8M860.0 564.9H865.5M860.0 565.8H860.6M859.3 564.5V565.3M859.3 564.5H865.5M859.3 565.3H860.0M861.7 567.4V568.0M861.7 567.4H865.5M861.7 568.0H865.5M861.1 566.9V567.7M861.1 566.9H865.5M861.1 567.7H861.7M860.5 566.3V567.3M860.5 566.3H865.5M860.5 567.3H861.1M859.9 566.8V568.7M859.9 566.8H860.5M859.9 568.7H865.5M859.9 569.3V569.7M859.9 569.3H865.5M859.9 569.7H865.5M859.3 567.8V569.5M859.3 567.8H859.9M859.3 569.5H859.9M858.7 564.9V568.6M858.7 564.9H859.3M858.7 568.6H859.3M862.6 570.8V571.3M862.6 570.8H865.5M862.6 571.3H865.5M862.0 570.6V571.0M862.0 570.6H865.5M862.0 571.0H862.6M861.4 570.4V570.8M861.4 570.4H865.5M861.4 570.8H862.0M860.8 570.1V570.6M860.8 570.1H865.5M860.8 570.6H861.4M860.2 570.4V571.9M860.2 570.4H860.8M860.2 571.9H865.5M856.7 566.8V571.1M856.7 566.8H858.7M856.7 571.1H860.2M853.9 562.8V569.0M853.9 562.8H861.3M853.9 569.0H856.7M860.4 573.4V573.9M860.4 573.4H865.5M860.4 573.9H865.5M859.8 573.2V573.7M859.8 573.2H865.5M859.8 573.7H860.4M859.2 572.9V573.4M859.2 572.9H865.5M859.2 573.4H859.8M858.6 572.4V573.2M858.6 572.4H865.5M858.6 573.2H859.2M857.2 572.8V574.5M857.2 572.8H858.6M857.2 574.5H865.5M857.2 575.1V575.6M857.2 575.1H865.5M857.2 575.6H865.5M856.6 573.6V575.4M856.6 573.6H857.2M856.6 575.4H857.2M853.3 565.9V574.5M853.3 565.9H853.9M853.3 574.5H856.6M850.0 559.4V570.2M850.0 559.4H855.0M850.0 570.2H853.3M857.1 576.3V576.8M857.1 576.3H865.5M857.1 576.8H865.5M854.7 575.9V576.6M854.7 575.9H865.5M854.7 576.6H857.1M858.5 577.1V577.5M858.5 577.1H865.5M858.5 577.5H865.5M857.9 577.3V577.9M857.9 577.3H858.5M857.9 577.9H865.5M857.3 577.6V578.2M857.3 577.6H857.9M857.3 578.2H865.5M856.7 577.9V578.7M856.7 577.9H857.3M856.7 578.7H865.5M857.0 579.6V580.1M857.0 579.6H865.5M857.0 580.1H865.5M856.4 579.2V579.9M856.4 579.2H865.5M856.4 579.9H857.0M855.8 578.3V579.5M855.8 578.3H856.7M855.8 579.5H856.4M854.1 576.2V578.9M854.1 576.2H854.7M854.1 578.9H855.8M854.2 580.8V581.2M854.2 580.8H865.5M854.2 581.2H865.5M860.9 582.4V583.0M860.9 582.4H865.5M860.9 583.0H865.5M861.5 583.5V584.0M861.5 583.5H865.5M861.5 584.0H865.5M861.5 584.7V585.1M861.5 584.7H865.5M861.5 585.1H865.5M860.9 583.7V584.9M860.9 583.7H861.5M860.9 584.9H861.5M860.3 582.7V584.3M860.3 582.7H860.9M860.3 584.3H860.9M859.7 583.5V585.3M859.7 583.5H860.3M859.7 585.3H865.5M859.1 584.4V585.7M859.1 584.4H859.7M859.1 585.7H865.5M859.1 586.2V586.8M859.1 586.2H865.5M859.1 586.8H865.5M858.5 585.1V586.5M858.5 585.1H859.1M858.5 586.5H859.1M857.9 582.1V585.8M857.9 582.1H865.5M857.9 585.8H858.5M858.5 587.8V588.2M858.5 587.8H865.5M858.5 588.2H865.5M857.9 587.4V588.0M857.9 587.4H865.5M857.9 588.0H858.5M857.3 584.0V587.7M857.3 584.0H857.9M857.3 587.7H857.9M856.7 581.6V585.8M856.7 581.6H865.5M856.7 585.8H857.3M853.6 581.0V583.7M853.6 581.0H854.2M853.6 583.7H856.7M852.6 577.6V582.3M852.6 577.6H854.1M852.6 582.3H853.6M851.4 588.8V589.6M851.4 588.8H865.5M851.4 589.6H865.5M861.3 591.8V592.3M861.3 591.8H865.5M861.3 592.3H865.5M860.7 591.4V592.1M860.7 591.4H865.5M860.7 592.1H861.3M860.1 591.7V592.7M860.1 591.7H860.7M860.1 592.7H865.5M859.5 591.2V592.2M859.5 591.2H865.5M859.5 592.2H860.1M858.9 591.7V593.0M858.9 591.7H859.5M858.9 593.0H865.5M858.3 590.9V592.3M858.3 590.9H865.5M858.3 592.3H858.9M860.4 593.4V594.0M860.4 593.4H865.5M860.4 594.0H865.5M858.8 593.7V594.3M858.8 593.7H860.4M858.8 594.3H865.5M857.1 594.0V594.5M857.1 594.0H858.8M857.1 594.5H865.5M856.5 591.6V594.2M856.5 591.6H858.3M856.5 594.2H857.1M854.6 590.3V592.9M854.6 590.3H865.5M854.6 592.9H856.5M857.2 595.1V595.5M857.2 595.1H865.5M857.2 595.5H865.5M855.1 594.7V595.3M855.1 594.7H865.5M855.1 595.3H857.2M854.5 595.0V595.9M854.5 595.0H855.1M854.5 595.9H865.5M853.9 591.6V595.5M853.9 591.6H854.6M853.9 595.5H854.5M850.8 589.2V593.5M850.8 589.2H851.4M850.8 593.5H853.9M849.7 580.0V591.4M849.7 580.0H852.6M849.7 591.4H850.8M858.9 596.8V597.2M858.9 596.8H865.5M858.9 597.2H865.5M858.3 597.0V597.6M858.3 597.0H858.9M858.3 597.6H865.5M857.7 597.3V597.8M857.7 597.3H858.3M857.7 597.8H865.5M857.1 597.5V598.0M857.1 597.5H857.7M857.1 598.0H865.5M856.5 596.4V597.8M856.5 596.4H865.5M856.5 597.8H857.1M861.2 598.2V598.6M861.2 598.2H865.5M861.2 598.6H865.5M860.6 598.4V599.1M860.6 598.4H861.2M860.6 599.1H865.5M860.0 598.7V599.5M860.0 598.7H860.6M860.0 599.5H865.5M859.4 599.1V599.8M859.4 599.1H860.0M859.4 599.8H865.5M855.9 597.1V599.4M855.9 597.1H856.5M855.9 599.4H859.4M860.6 600.0V600.4M860.6 600.0H865.5M860.6 600.4H865.5M860.6 600.8V601.2M860.6 600.8H865.5M860.6 601.2H865.5M860.0 600.2V601.0M860.0 600.2H860.6M860.0 601.0H860.6M855.3 598.3V600.6M855.3 598.3H855.9M855.3 600.6H860.0M860.5 602.4V602.8M860.5 602.4H865.5M860.5 602.8H865.5M861.1 603.0V603.5M861.1 603.0H865.5M861.1 603.5H865.5M860.5 603.2V604.0M860.5 603.2H861.1M860.5 604.0H865.5M859.9 602.6V603.6M859.9 602.6H860.5M859.9 603.6H860.5M859.3 601.8V603.1M859.3 601.8H865.5M859.3 603.1H859.9M858.7 602.4V604.4M858.7 602.4H859.3M858.7 604.4H865.5M861.7 605.0V605.5M861.7 605.0H865.5M861.7 605.5H865.5M861.1 604.7V605.3M861.1 604.7H865.5M861.1 605.3H861.7M860.5 605.0V605.9M860.5 605.0H861.1M860.5 605.9H865.5M862.4 607.9V608.4M862.4 607.9H865.5M862.4 608.4H865.5M861.8 607.3V608.1M861.8 607.3H865.5M861.8 608.1H862.4M861.2 607.7V608.6M861.2 607.7H861.8M861.2 608.6H865.5M860.6 606.7V608.1M860.6 606.7H865.5M860.6 608.1H861.2M860.0 606.1V607.4M860.0 606.1H865.5M860.0 607.4H860.6M858.7 605.4V606.8M858.7 605.4H860.5M858.7 606.8H860.0M858.1 603.4V606.1M858.1 603.4H858.7M858.1 606.1H858.7M859.9 608.9V609.3M859.9 608.9H865.5M859.9 609.3H865.5M859.3 609.1V609.6M859.3 609.1H859.9M859.3 609.6H865.5M858.7 609.4V609.8M858.7 609.4H859.3M858.7 609.8H865.5M859.3 610.2V610.8M859.3 610.2H865.5M859.3 610.8H865.5M861.9 611.4V611.9M861.9 611.4H865.5M861.9 611.9H865.5M861.3 611.7V612.3M861.3 611.7H861.9M861.3 612.3H865.5M861.3 612.5V612.9M861.3 612.5H865.5M861.3 612.9H865.5M860.7 612.0V612.7M860.7 612.0H861.3M860.7 612.7H861.3M858.7 610.5V612.4M858.7 610.5H859.3M858.7 612.4H860.7M858.1 609.6V611.4M858.1 609.6H858.7M858.1 611.4H858.7M857.5 604.7V610.5M857.5 604.7H858.1M857.5 610.5H858.1M854.7 599.4V607.6M854.7 599.4H855.3M854.7 607.6H857.5M849.1 585.7V603.5M849.1 585.7H849.7M849.1 603.5H854.7M842.5 564.8V594.6M842.5 564.8H850.0M842.5 594.6H849.1M840.9 554.8V579.7M840.9 554.8H857.1M840.9 579.7H842.5M858.9 614.7V615.1M858.9 614.7H865.5M858.9 615.1H865.5M858.3 614.3V614.9M858.3 614.3H865.5M858.3 614.9H858.9M857.7 614.6V615.4M857.7 614.6H858.3M857.7 615.4H865.5M857.1 614.1V615.0M857.1 614.1H865.5M857.1 615.0H857.7M855.2 613.6V614.5M855.2 613.6H865.5M855.2 614.5H857.1M854.0 614.1V615.8M854.0 614.1H855.2M854.0 615.8H865.5M856.8 616.4V616.9M856.8 616.4H865.5M856.8 616.9H865.5M862.5 617.8V618.3M862.5 617.8H865.5M862.5 618.3H865.5M861.9 618.1V618.8M861.9 618.1H862.5M861.9 618.8H865.5M861.3 618.4V619.1M861.3 618.4H861.9M861.3 619.1H865.5M859.8 617.3V618.8M859.8 617.3H865.5M859.8 618.8H861.3M861.7 619.7V620.1M861.7 619.7H865.5M861.7 620.1H865.5M861.1 619.3V619.9M861.1 619.3H865.5M861.1 619.9H861.7M859.8 619.6V620.5M859.8 619.6H861.1M859.8 620.5H865.5M859.2 618.0V620.0M859.2 618.0H859.8M859.2 620.0H859.8M861.1 621.1V621.6M861.1 621.1H865.5M861.1 621.6H865.5M860.5 620.9V621.4M860.5 620.9H865.5M860.5 621.4H861.1M859.9 621.1V622.1M859.9 621.1H860.5M859.9 622.1H865.5M860.5 622.7V623.2M860.5 622.7H865.5M860.5 623.2H865.5M859.9 622.4V622.9M859.9 622.4H865.5M859.9 622.9H860.5M859.3 621.6V622.6M859.3 621.6H859.9M859.3 622.6H859.9M858.7 622.1V623.6M858.7 622.1H859.3M858.7 623.6H865.5M858.0 624.0V624.5M858.0 624.0H865.5M858.0 624.5H865.5M857.4 622.9V624.3M857.4 622.9H858.7M857.4 624.3H858.0M856.8 619.0V623.6M856.8 619.0H859.2M856.8 623.6H857.4M856.2 616.6V621.3M856.2 616.6H856.8M856.2 621.3H856.8M863.7 625.8V626.2M863.7 625.8H865.5M863.7 626.2H865.5M863.1 625.3V626.0M863.1 625.3H865.5M863.1 626.0H863.7M862.5 625.2V625.7M862.5 625.2H865.5M862.5 625.7H863.1M861.9 625.4V626.4M861.9 625.4H862.5M861.9 626.4H865.5M861.3 625.0V625.9M861.3 625.0H865.5M861.3 625.9H861.9M855.4 619.0V625.5M855.4 619.0H856.2M855.4 625.5H861.3M859.2 627.4V627.8M859.2 627.4H865.5M859.2 627.8H865.5M858.6 627.6V628.0M858.6 627.6H859.2M858.6 628.0H865.5M857.7 626.8V627.8M857.7 626.8H865.5M857.7 627.8H858.6M857.1 627.3V628.3M857.1 627.3H857.7M857.1 628.3H865.5M860.5 629.2V629.6M860.5 629.2H865.5M860.5 629.6H865.5M859.9 629.4V629.9M859.9 629.4H860.5M859.9 629.9H865.5M859.2 628.7V629.7M859.2 628.7H865.5M859.2 629.7H859.9M855.4 627.8V629.2M855.4 627.8H857.1M855.4 629.2H859.2M854.8 622.2V628.5M854.8 622.2H855.4M854.8 628.5H855.4M853.4 615.0V625.4M853.4 615.0H854.0M853.4 625.4H854.8M858.6 630.5V631.1M858.6 630.5H865.5M858.6 631.1H865.5M858.0 630.8V631.4M858.0 630.8H858.6M858.0 631.4H865.5M857.4 631.1V631.6M857.4 631.1H858.0M857.4 631.6H865.5M860.2 632.6V633.1M860.2 632.6H865.5M860.2 633.1H865.5M858.6 632.8V633.5M858.6 632.8H860.2M858.6 633.5H865.5M858.0 632.1V633.2M858.0 632.1H865.5M858.0 633.2H858.6M856.1 631.3V632.6M856.1 631.3H857.4M856.1 632.6H858.0M852.8 620.2V632.0M852.8 620.2H853.4M852.8 632.0H856.1M861.6 634.0V634.6M861.6 634.0H865.5M861.6 634.6H865.5M861.0 634.3V635.1M861.0 634.3H861.6M861.0 635.1H865.5M863.7 636.4V636.8M863.7 636.4H865.5M863.7 636.8H865.5M863.1 636.6V637.3M863.1 636.6H863.7M863.1 637.3H865.5M862.5 637.0V637.7M862.5 637.0H863.1M862.5 637.7H865.5M861.9 635.8V637.3M861.9 635.8H865.5M861.9 637.3H862.5M862.5 638.0V638.4M862.5 638.0H865.5M862.5 638.4H865.5M863.1 639.4V640.1M863.1 639.4H865.5M863.1 640.1H865.5M862.5 638.9V639.8M862.5 638.9H865.5M862.5 639.8H863.1M861.9 638.2V639.3M861.9 638.2H862.5M861.9 639.3H862.5M861.3 636.6V638.8M861.3 636.6H861.9M861.3 638.8H861.9M860.4 634.7V637.7M860.4 634.7H861.0M860.4 637.7H861.3M859.3 640.8V641.2M859.3 640.8H865.5M859.3 641.2H865.5M858.7 641.0V641.4M858.7 641.0H859.3M858.7 641.4H865.5M861.1 641.6V642.1M861.1 641.6H865.5M861.1 642.1H865.5M860.5 641.9V642.5M860.5 641.9H861.1M860.5 642.5H865.5M859.9 642.2V642.6M859.9 642.2H860.5M859.9 642.6H865.5M859.3 642.4V643.0M859.3 642.4H859.9M859.3 643.0H865.5M863.0 644.9V645.5M863.0 644.9H865.5M863.0 645.5H865.5M862.4 644.5V645.2M862.4 644.5H865.5M862.4 645.2H863.0M861.8 644.3V644.8M861.8 644.3H865.5M861.8 644.8H862.4M861.2 644.6V646.1M861.2 644.6H861.8M861.2 646.1H865.5M860.6 644.0V645.3M860.6 644.0H865.5M860.6 645.3H861.2M860.0 643.5V644.7M860.0 643.5H865.5M860.0 644.7H860.6M858.7 642.7V644.1M858.7 642.7H859.3M858.7 644.1H860.0M858.1 641.2V643.4M858.1 641.2H858.7M858.1 643.4H858.7M858.7 646.7V647.2M858.7 646.7H865.5M858.7 647.2H865.5M860.6 647.6V648.1M860.6 647.6H865.5M860.6 648.1H865.5M860.0 647.9V648.3M860.0 647.9H860.6M860.0 648.3H865.5M858.1 646.9V648.1M858.1 646.9H858.7M858.1 648.1H860.0M857.5 642.3V647.5M857.5 642.3H858.1M857.5 647.5H858.1M860.9 649.0V649.4M860.9 649.0H865.5M860.9 649.4H865.5M860.3 649.2V649.7M860.3 649.2H860.9M860.3 649.7H865.5M859.7 648.6V649.5M859.7 648.6H865.5M859.7 649.5H860.3M859.1 648.4V649.1M859.1 648.4H865.5M859.1 649.1H859.7M857.5 648.7V649.9M857.5 648.7H859.1M857.5 649.9H865.5M856.9 644.9V649.3M856.9 644.9H857.5M856.9 649.3H857.5M855.8 636.2V647.1M855.8 636.2H860.4M855.8 647.1H856.9M850.8 626.1V641.7M850.8 626.1H852.8M850.8 641.7H855.8M838.0 567.3V633.9M838.0 567.3H840.9M838.0 633.9H850.8M838.0 600.6V618.8M856.8 651.3V652.0M856.8 651.3H865.5M856.8 652.0H865.5M855.8 650.9V651.7M855.8 650.9H865.5M855.8 651.7H856.8M852.1 650.7V651.3M852.1 650.7H865.5M852.1 651.3H855.8M850.7 650.2V651.0M850.7 650.2H865.5M850.7 651.0H852.1M854.2 652.8V653.5M854.2 652.8H865.5M854.2 653.5H865.5M853.1 653.2V654.2M853.1 653.2H854.2M853.1 654.2H865.5M859.1 656.0V656.4M859.1 656.0H865.5M859.1 656.4H865.5M858.2 656.2V656.8M858.2 656.2H859.1M858.2 656.8H865.5M857.6 656.5V656.9M857.6 656.5H858.2M857.6 656.9H865.5M858.6 657.1V657.6M858.6 657.1H865.5M858.6 657.6H865.5M858.6 658.3V658.9M858.6 658.3H865.5M858.6 658.9H865.5M858.0 657.4V658.6M858.0 657.4H858.6M858.0 658.6H858.6M855.3 656.7V658.0M855.3 656.7H857.6M855.3 658.0H858.0M854.7 657.3V659.5M854.7 657.3H855.3M854.7 659.5H865.5M853.3 655.5V658.4M853.3 655.5H865.5M853.3 658.4H854.7M852.7 654.8V657.0M852.7 654.8H865.5M852.7 657.0H853.3M852.1 653.7V655.9M852.1 653.7H853.1M852.1 655.9H852.7M857.3 660.9V661.3M857.3 660.9H865.5M857.3 661.3H865.5M856.4 660.5V661.1M856.4 660.5H865.5M856.4 661.1H857.3M854.1 660.1V660.8M854.1 660.1H865.5M854.1 660.8H856.4M848.4 654.8V660.4M848.4 654.8H852.1M848.4 660.4H854.1M859.5 662.4V662.8M859.5 662.4H865.5M859.5 662.8H865.5M858.9 662.6V663.0M858.9 662.6H859.5M858.9 663.0H865.5M858.3 662.0V662.8M858.3 662.0H865.5M858.3 662.8H858.9M857.7 661.6V662.4M857.7 661.6H865.5M857.7 662.4H858.3M857.7 663.4V663.9M857.7 663.4H865.5M857.7 663.9H865.5M857.1 663.7V664.4M857.1 663.7H857.7M857.1 664.4H865.5M855.7 663.2V664.0M855.7 663.2H865.5M855.7 664.0H857.1M856.3 664.5V665.0M856.3 664.5H865.5M856.3 665.0H865.5M855.7 664.8V665.7M855.7 664.8H856.3M855.7 665.7H865.5M855.1 663.6V665.3M855.1 663.6H855.7M855.1 665.3H855.7M854.5 662.0V664.4M854.5 662.0H857.7M854.5 664.4H855.1M845.3 657.6V663.2M845.3 657.6H848.4M845.3 663.2H854.5M841.4 650.6V660.4M841.4 650.6H850.7M841.4 660.4H845.3M860.5 666.9V667.6M860.5 666.9H865.5M860.5 667.6H865.5M858.5 666.5V667.3M858.5 666.5H865.5M858.5 667.3H860.5M857.9 666.3V666.9M857.9 666.3H865.5M857.9 666.9H858.5M861.2 668.5V669.0M861.2 668.5H865.5M861.2 669.0H865.5M860.6 668.2V668.7M860.6 668.2H865.5M860.6 668.7H861.2M860.0 668.4V669.4M860.0 668.4H860.6M860.0 669.4H865.5M857.9 668.9V669.8M857.9 668.9H860.0M857.9 669.8H865.5M857.3 666.6V669.3M857.3 666.6H857.9M857.3 669.3H857.9M855.6 668.0V670.4M855.6 668.0H857.3M855.6 670.4H865.5M855.8 670.8V671.3M855.8 670.8H865.5M855.8 671.3H865.5M852.8 671.1V671.7M852.8 671.1H855.8M852.8 671.7H865.5M852.2 669.2V671.4M852.2 669.2H855.6M852.2 671.4H852.8M859.4 672.1V672.6M859.4 672.1H865.5M859.4 672.6H865.5M857.5 672.9V673.4M857.5 672.9H865.5M857.5 673.4H865.5M856.9 672.3V673.1M856.9 672.3H859.4M856.9 673.1H857.5M857.0 674.1V674.8M857.0 674.1H865.5M857.0 674.8H865.5M856.3 672.7V674.5M856.3 672.7H856.9M856.3 674.5H857.0M853.3 673.6V675.5M853.3 673.6H856.3M853.3 675.5H865.5M850.1 670.3V674.6M850.1 670.3H852.2M850.1 674.6H853.3M858.2 676.9V677.3M858.2 676.9H865.5M858.2 677.3H865.5M857.4 676.5V677.1M857.4 676.5H865.5M857.4 677.1H858.2M856.8 676.1V676.8M856.8 676.1H865.5M856.8 676.8H857.4M856.8 678.1V678.6M856.8 678.1H865.5M856.8 678.6H865.5M856.2 676.5V678.3M856.2 676.5H856.8M856.2 678.3H856.8M855.6 677.4V679.1M855.6 677.4H856.2M855.6 679.1H865.5M853.4 678.3V679.7M853.4 678.3H855.6M853.4 679.7H865.5M853.2 680.3V680.9M853.2 680.3H865.5M853.2 680.9H865.5M851.9 679.0V680.6M851.9 679.0H853.4M851.9 680.6H853.2M848.0 672.4V679.8M848.0 672.4H850.1M848.0 679.8H851.9M853.3 681.6V682.2M853.3 681.6H865.5M853.3 682.2H865.5M860.8 682.8V683.2M860.8 682.8H865.5M860.8 683.2H865.5M860.2 682.5V683.0M860.2 682.5H865.5M860.2 683.0H860.8M858.7 683.6V684.1M858.7 683.6H865.5M858.7 684.1H865.5M858.1 683.9V684.4M858.1 683.9H858.7M858.1 684.4H865.5M860.5 685.6V686.0M860.5 685.6H865.5M860.5 686.0H865.5M859.9 685.3V685.8M859.9 685.3H865.5M859.9 685.8H860.5M859.3 685.6V686.5M859.3 685.6H859.9M859.3 686.5H865.5M858.7 686.1V686.9M858.7 686.1H859.3M858.7 686.9H865.5M858.1 684.9V686.5M858.1 684.9H865.5M858.1 686.5H858.7M857.5 684.1V685.7M857.5 684.1H858.1M857.5 685.7H858.1M855.6 682.8V684.9M855.6 682.8H860.2M855.6 684.9H857.5M852.7 681.9V683.8M852.7 681.9H853.3M852.7 683.8H855.6M842.9 676.1V682.9M842.9 676.1H848.0M842.9 682.9H852.7M834.7 655.5V679.5M834.7 655.5H841.4M834.7 679.5H842.9M861.2 687.9V688.4M861.2 687.9H865.5M861.2 688.4H865.5M860.6 687.4V688.1M860.6 687.4H865.5M860.6 688.1H861.2M860.0 687.1V687.8M860.0 687.1H865.5M860.0 687.8H860.6M859.4 687.4V688.7M859.4 687.4H860.0M859.4 688.7H865.5M858.8 688.1V689.0M858.8 688.1H859.4M858.8 689.0H865.5M858.2 688.6V689.3M858.2 688.6H858.8M858.2 689.3H865.5M860.8 690.0V690.4M860.8 690.0H865.5M860.8 690.4H865.5M860.2 689.6V690.2M860.2 689.6H865.5M860.2 690.2H860.8M859.4 689.9V690.7M859.4 689.9H860.2M859.4 690.7H865.5M857.2 688.9V690.3M857.2 688.9H858.2M857.2 690.3H859.4M857.8 690.9V691.4M857.8 690.9H865.5M857.8 691.4H865.5M859.3 692.3V692.8M859.3 692.3H865.5M859.3 692.8H865.5M858.4 692.6V693.0M858.4 692.6H859.3M858.4 693.0H865.5M857.8 691.9V692.8M857.8 691.9H865.5M857.8 692.8H858.4M857.2 691.1V692.4M857.2 691.1H857.8M857.2 692.4H857.8M856.6 689.6V691.8M856.6 689.6H857.2M856.6 691.8H857.2M858.5 693.4V693.8M858.5 693.4H865.5M858.5 693.8H865.5M859.2 694.2V694.6M859.2 694.2H865.5M859.2 694.6H865.5M860.7 695.3V695.9M860.7 695.3H865.5M860.7 695.9H865.5M860.1 695.6V696.4M860.1 695.6H860.7M860.1 696.4H865.5M859.2 694.9V696.0M859.2 694.9H865.5M859.2 696.0H860.1M858.6 694.4V695.5M858.6 694.4H859.2M858.6 695.5H859.2M858.0 694.9V696.8M858.0 694.9H858.6M858.0 696.8H865.5M857.4 693.6V695.9M857.4 693.6H858.5M857.4 695.9H858.0M856.8 694.7V697.2M856.8 694.7H857.4M856.8 697.2H865.5M857.4 697.8V698.4M857.4 697.8H865.5M857.4 698.4H865.5M858.0 699.0V699.5M858.0 699.0H865.5M858.0 699.5H865.5M857.4 699.2V699.8M857.4 699.2H858.0M857.4 699.8H865.5M856.8 698.1V699.5M856.8 698.1H857.4M856.8 699.5H857.4M856.4 700.1V700.6M856.4 700.1H865.5M856.4 700.6H865.5M855.8 698.8V700.3M855.8 698.8H856.8M855.8 700.3H856.4M855.2 696.0V699.6M855.2 696.0H856.8M855.2 699.6H855.8M853.2 690.7V697.8M853.2 690.7H856.6M853.2 697.8H855.2M829.4 667.5V694.2M829.4 667.5H834.7M829.4 694.2H853.2M829.4 680.9V685.5M851.8 702.1V702.7M851.8 702.1H865.5M851.8 702.7H865.5M851.0 701.7V702.4M851.0 701.7H865.5M851.0 702.4H851.8M845.6 701.3V702.0M845.6 701.3H865.5M845.6 702.0H851.0M852.1 703.8V704.4M852.1 703.8H865.5M852.1 704.4H865.5M850.2 703.3V704.1M850.2 703.3H865.5M850.2 704.1H852.1M847.0 703.7V704.8M847.0 703.7H850.2M847.0 704.8H865.5M840.5 701.7V704.2M840.5 701.7H845.6M840.5 704.2H847.0M855.8 705.9V706.6M855.8 705.9H865.5M855.8 706.6H865.5M854.1 705.2V706.2M854.1 705.2H865.5M854.1 706.2H855.8M852.5 705.7V707.3M852.5 705.7H854.1M852.5 707.3H865.5M851.9 706.5V707.8M851.9 706.5H852.5M851.9 707.8H865.5M837.0 702.9V707.1M837.0 702.9H840.5M837.0 707.1H851.9M837.0 705.0V705.5M855.0 708.5V709.0M855.0 708.5H865.5M855.0 709.0H865.5M853.6 708.1V708.7M853.6 708.1H865.5M853.6 708.7H855.0M850.8 708.4V709.4M850.8 708.4H853.6M850.8 709.4H865.5M845.4 708.9V709.9M845.4 708.9H850.8M845.4 709.9H865.5M852.9 710.6V711.1M852.9 710.6H865.5M852.9 711.1H865.5M852.3 710.1V710.8M852.3 710.1H865.5M852.3 710.8H852.9M849.0 710.5V711.6M849.0 710.5H852.3M849.0 711.6H865.5M832.0 709.4V711.1M832.0 709.4H845.4M832.0 711.1H849.0M832.0 709.0V710.2M851.5 712.5V713.0M851.5 712.5H865.5M851.5 713.0H865.5M850.9 712.7V713.3M850.9 712.7H851.5M850.9 713.3H865.5M847.5 712.2V713.0M847.5 712.2H865.5M847.5 713.0H850.9M855.3 715.0V715.4M855.3 715.0H865.5M855.3 715.4H865.5M853.3 714.6V715.2M853.3 714.6H865.5M853.3 715.2H855.3M849.7 714.3V714.9M849.7 714.3H865.5M849.7 714.9H853.3M846.9 713.9V714.6M846.9 713.9H865.5M846.9 714.6H849.7M845.0 713.6V714.3M845.0 713.6H865.5M845.0 714.3H846.9M853.9 717.1V717.6M853.9 717.1H865.5M853.9 717.6H865.5M852.2 716.5V717.3M852.2 716.5H865.5M852.2 717.3H853.9M847.1 716.9V717.9M847.1 716.9H852.2M847.1 717.9H865.5M859.3 718.8V719.2M859.3 718.8H865.5M859.3 719.2H865.5M857.5 718.6V719.0M857.5 718.6H865.5M857.5 719.0H859.3M856.9 718.3V718.8M856.9 718.3H865.5M856.9 718.8H857.5M844.1 717.4V718.6M844.1 717.4H847.1M844.1 718.6H856.9M838.8 715.9V718.0M838.8 715.9H865.5M838.8 718.0H844.1M831.3 713.9V716.9M831.3 713.9H845.0M831.3 716.9H838.8M823.9 712.6V715.4M823.9 712.6H847.5M823.9 715.4H831.3M823.9 714.0V715.8" fill="none" stroke="#111" stroke-width="1.1"/>
<path d="M1103.5 244.2V703.1M1132.7 18.5V469.6M1137.4 691.5V714.8M1146.2 259.2V680.0M1150.6 201.8V316.4M1161.0 234.8V394.5M1167.5 265.0V525.0M1174.1 482.7V567.0M1103.5 244.2H1132.7M1103.5 703.1H1137.4M1132.7 469.6H1146.2M1146.2 259.2H1150.6M1150.6 316.4H1161.0M1161.0 394.5H1167.5M1167.5 525.0H1174.1M1132.7 18.5H1138.6M1150.6 201.8H1159.0M1161.0 234.8H1169.4M1167.5 265.0H1172.0M1174.1 482.7H1181.6M1174.1 567.0H1176.0M1146.2 680.0H1169.8M1137.4 691.5H1178.0M1137.4 714.8H1158.2M1186.7 14.1V14.6M1186.7 14.1H1197.5M1186.7 14.6H1197.5M1186.1 13.9V14.3M1186.1 13.9H1197.5M1186.1 14.3H1186.7M1183.9 14.1V15.0M1183.9 14.1H1186.1M1183.9 15.0H1197.5M1179.4 13.7V14.5M1179.4 13.7H1197.5M1179.4 14.5H1183.9M1183.9 15.8V16.2M1183.9 15.8H1197.5M1183.9 16.2H1197.5M1192.5 18.3V18.7M1192.5 18.3H1197.5M1192.5 18.7H1197.5M1191.9 17.8V18.5M1191.9 17.8H1197.5M1191.9 18.5H1192.5M1191.3 17.5V18.1M1191.3 17.5H1197.5M1191.3 18.1H1191.9M1189.3 17.3V17.8M1189.3 17.3H1197.5M1189.3 17.8H1191.3M1186.8 16.9V17.5M1186.8 16.9H1197.5M1186.8 17.5H1189.3M1183.3 16.0V17.2M1183.3 16.0H1183.9M1183.3 17.2H1186.8M1182.9 18.9V19.3M1182.9 18.9H1197.5M1182.9 19.3H1197.5M1179.1 16.6V19.1M1179.1 16.6H1183.3M1179.1 19.1H1182.9M1178.0 15.4V17.9M1178.0 15.4H1197.5M1178.0 17.9H1179.1M1171.2 16.6V19.8M1171.2 16.6H1178.0M1171.2 19.8H1197.5M1181.5 20.2V20.8M1181.5 20.2H1197.5M1181.5 20.8H1197.5M1164.1 18.2V20.5M1164.1 18.2H1171.2M1164.1 20.5H1181.5M1157.9 14.1V19.4M1157.9 14.1H1179.4M1157.9 19.4H1164.1M1181.7 21.2V21.6M1181.7 21.2H1197.5M1181.7 21.6H1197.5M1138.6 16.7V21.4M1138.6 16.7H1157.9M1138.6 21.4H1181.7M1138.6 18.5V19.1M1185.2 203.1V203.7M1185.2 203.1H1197.5M1185.2 203.7H1197.5M1184.6 202.5V203.4M1184.6 202.5H1197.5M1184.6 203.4H1185.2M1189.9 204.4V204.9M1189.9 204.4H1197.5M1189.9 204.9H1197.5M1183.9 206.1V206.7M1183.9 206.1H1197.5M1183.9 206.7H1197.5M1182.4 205.5V206.4M1182.4 205.5H1197.5M1182.4 206.4H1183.9M1180.4 204.7V205.9M1180.4 204.7H1189.9M1180.4 205.9H1182.4M1179.2 203.0V205.3M1179.2 203.0H1184.6M1179.2 205.3H1180.4M1185.5 207.5V207.9M1185.5 207.5H1197.5M1185.5 207.9H1197.5M1184.6 207.1V207.7M1184.6 207.1H1197.5M1184.6 207.7H1185.5M1188.0 209.0V209.7M1188.0 209.0H1197.5M1188.0 209.7H1197.5M1187.4 209.3V210.3M1187.4 209.3H1188.0M1187.4 210.3H1197.5M1188.9 211.0V211.5M1188.9 211.0H1197.5M1188.9 211.5H1197.5M1186.8 209.8V211.3M1186.8 209.8H1187.4M1186.8 211.3H1188.9M1186.2 210.6V211.8M1186.2 210.6H1186.8M1186.2 211.8H1197.5M1182.0 212.3V212.8M1182.0 212.3H1197.5M1182.0 212.8H1197.5M1181.4 211.2V212.6M1181.4 211.2H1186.2M1181.4 212.6H1182.0M1187.1 213.9V214.5M1187.1 213.9H1197.5M1187.1 214.5H1197.5M1185.9 214.2V214.7M1185.9 214.2H1187.1M1185.9 214.7H1197.5M1185.3 214.4V214.9M1185.3 214.4H1185.9M1185.3 214.9H1197.5M1184.7 213.3V214.6M1184.7 213.3H1197.5M1184.7 214.6H1185.3M1180.6 211.9V214.0M1180.6 211.9H1181.4M1180.6 214.0H1184.7M1179.8 208.4V212.9M1179.8 208.4H1197.5M1179.8 212.9H1180.6M1175.1 207.4V210.6M1175.1 207.4H1184.6M1175.1 210.6H1179.8M1172.2 204.1V209.0M1172.2 204.1H1179.2M1172.2 209.0H1175.1M1186.0 178.9V179.4M1186.0 178.9H1197.5M1186.0 179.4H1197.5M1184.9 178.6V179.1M1184.9 178.6H1197.5M1184.9 179.1H1186.0M1183.3 178.9V180.1M1183.3 178.9H1184.9M1183.3 180.1H1197.5M1187.4 181.7V182.1M1187.4 181.7H1197.5M1187.4 182.1H1197.5M1186.8 181.9V182.4M1186.8 181.9H1187.4M1186.8 182.4H1197.5M1185.6 181.1V182.2M1185.6 181.1H1197.5M1185.6 182.2H1186.8M1185.0 180.7V181.6M1185.0 180.7H1197.5M1185.0 181.6H1185.6M1187.8 183.2V183.6M1187.8 183.2H1197.5M1187.8 183.6H1197.5M1189.6 184.3V184.8M1189.6 184.3H1197.5M1189.6 184.8H1197.5M1189.0 184.6V185.2M1189.0 184.6H1189.6M1189.0 185.2H1197.5M1188.4 184.0V184.9M1188.4 184.0H1197.5M1188.4 184.9H1189.0M1191.8 185.4V185.9M1191.8 185.4H1197.5M1191.8 185.9H1197.5M1190.6 185.7V186.3M1190.6 185.7H1191.8M1190.6 186.3H1197.5M1189.6 186.0V186.4M1189.6 186.0H1190.6M1189.6 186.4H1197.5M1189.0 186.2V186.7M1189.0 186.2H1189.6M1189.0 186.7H1197.5M1192.0 187.3V187.7M1192.0 187.3H1197.5M1192.0 187.7H1197.5M1191.4 187.5V188.1M1191.4 187.5H1192.0M1191.4 188.1H1197.5M1188.4 186.5V187.8M1188.4 186.5H1189.0M1188.4 187.8H1191.4M1187.8 184.4V187.1M1187.8 184.4H1188.4M1187.8 187.1H1188.4M1187.2 183.4V185.8M1187.2 183.4H1187.8M1187.2 185.8H1187.8M1186.6 182.8V184.6M1186.6 182.8H1197.5M1186.6 184.6H1187.2M1183.5 181.2V183.7M1183.5 181.2H1185.0M1183.5 183.7H1186.6M1177.7 179.5V182.4M1177.7 179.5H1183.3M1177.7 182.4H1183.5M1189.4 188.8V189.3M1189.4 188.8H1197.5M1189.4 189.3H1197.5M1190.0 189.8V190.3M1190.0 189.8H1197.5M1190.0 190.3H1197.5M1189.4 190.0V190.6M1189.4 190.0H1190.0M1189.4 190.6H1197.5M1188.8 189.1V190.3M1188.8 189.1H1189.4M1188.8 190.3H1189.4M1186.6 189.7V190.9M1186.6 189.7H1188.8M1186.6 190.9H1197.5M1184.8 190.3V191.2M1184.8 190.3H1186.6M1184.8 191.2H1197.5M1184.2 188.5V190.8M1184.2 188.5H1197.5M1184.2 190.8H1184.8M1183.6 189.6V191.6M1183.6 189.6H1184.2M1183.6 191.6H1197.5M1190.5 192.4V193.0M1190.5 192.4H1197.5M1190.5 193.0H1197.5M1187.8 192.1V192.7M1187.8 192.1H1197.5M1187.8 192.7H1190.5M1182.2 190.6V192.4M1182.2 190.6H1183.6M1182.2 192.4H1187.8M1174.4 181.0V191.5M1174.4 181.0H1177.7M1174.4 191.5H1182.2M1190.7 193.8V194.3M1190.7 193.8H1197.5M1190.7 194.3H1197.5M1189.1 194.1V194.6M1189.1 194.1H1190.7M1189.1 194.6H1197.5M1188.5 193.5V194.3M1188.5 193.5H1197.5M1188.5 194.3H1189.1M1187.7 193.9V194.8M1187.7 193.9H1188.5M1187.7 194.8H1197.5M1185.6 194.4V195.3M1185.6 194.4H1187.7M1185.6 195.3H1197.5M1188.6 197.2V197.6M1188.6 197.2H1197.5M1188.6 197.6H1197.5M1185.7 196.5V197.4M1185.7 196.5H1197.5M1185.7 197.4H1188.6M1184.2 195.8V196.9M1184.2 195.8H1197.5M1184.2 196.9H1185.7M1183.6 196.4V198.1M1183.6 196.4H1184.2M1183.6 198.1H1197.5M1178.4 194.8V197.3M1178.4 194.8H1185.6M1178.4 197.3H1183.6M1170.3 186.2V196.0M1170.3 186.2H1174.4M1170.3 196.0H1178.4M1184.7 199.1V199.6M1184.7 199.1H1197.5M1184.7 199.6H1197.5M1184.1 198.7V199.3M1184.1 198.7H1197.5M1184.1 199.3H1184.7M1181.1 198.5V199.0M1181.1 198.5H1197.5M1181.1 199.0H1184.1M1181.7 200.1V200.7M1181.7 200.1H1197.5M1181.7 200.7H1197.5M1176.6 198.8V200.4M1176.6 198.8H1181.1M1176.6 200.4H1181.7M1189.9 201.3V201.7M1189.9 201.3H1197.5M1189.9 201.7H1197.5M1188.1 201.5V202.0M1188.1 201.5H1189.9M1188.1 202.0H1197.5M1175.0 199.6V201.8M1175.0 199.6H1176.6M1175.0 201.8H1188.1M1165.3 191.1V200.7M1165.3 191.1H1170.3M1165.3 200.7H1175.0M1190.6 162.6V163.0M1190.6 162.6H1197.5M1190.6 163.0H1197.5M1190.0 162.8V163.3M1190.0 162.8H1190.6M1190.0 163.3H1197.5M1189.4 163.0V163.7M1189.4 163.0H1190.0M1189.4 163.7H1197.5M1186.7 163.4V164.1M1186.7 163.4H1189.4M1186.7 164.1H1197.5M1192.1 164.4V164.9M1192.1 164.4H1197.5M1192.1 164.9H1197.5M1191.5 164.2V164.6M1191.5 164.2H1197.5M1191.5 164.6H1192.1M1183.9 163.7V164.4M1183.9 163.7H1186.7M1183.9 164.4H1191.5M1187.6 165.4V165.9M1187.6 165.4H1197.5M1187.6 165.9H1197.5M1185.5 165.6V166.2M1185.5 165.6H1187.6M1185.5 166.2H1197.5M1180.2 164.1V165.9M1180.2 164.1H1183.9M1180.2 165.9H1185.5M1187.4 166.9V167.4M1187.4 166.9H1197.5M1187.4 167.4H1197.5M1187.0 167.9V168.3M1187.0 167.9H1197.5M1187.0 168.3H1197.5M1189.4 168.5V169.0M1189.4 168.5H1197.5M1189.4 169.0H1197.5M1188.8 168.8V169.5M1188.8 168.8H1189.4M1188.8 169.5H1197.5M1188.2 169.1V169.8M1188.2 169.1H1188.8M1188.2 169.8H1197.5M1186.4 168.1V169.5M1186.4 168.1H1187.0M1186.4 169.5H1188.2M1185.8 167.1V168.8M1185.8 167.1H1187.4M1185.8 168.8H1186.4M1184.6 166.5V168.0M1184.6 166.5H1197.5M1184.6 168.0H1185.8M1188.8 170.4V170.9M1188.8 170.4H1197.5M1188.8 170.9H1197.5M1189.5 171.2V171.7M1189.5 171.2H1197.5M1189.5 171.7H1197.5M1189.5 172.1V172.5M1189.5 172.1H1197.5M1189.5 172.5H1197.5M1188.9 171.4V172.3M1188.9 171.4H1189.5M1188.9 172.3H1189.5M1188.3 171.9V173.2M1188.3 171.9H1188.9M1188.3 173.2H1197.5M1187.0 174.6V175.2M1187.0 174.6H1197.5M1187.0 175.2H1197.5M1186.4 173.9V174.9M1186.4 173.9H1197.5M1186.4 174.9H1187.0M1185.8 174.4V175.7M1185.8 174.4H1186.4M1185.8 175.7H1197.5M1185.9 176.7V177.2M1185.9 176.7H1197.5M1185.9 177.2H1197.5M1185.3 176.2V177.0M1185.3 176.2H1197.5M1185.3 177.0H1185.9M1186.5 177.7V178.2M1186.5 177.7H1197.5M1186.5 178.2H1197.5M1185.7 177.5V177.9M1185.7 177.5H1197.5M1185.7 177.9H1186.5M1182.3 176.6V177.7M1182.3 176.6H1185.3M1182.3 177.7H1185.7M1180.0 175.1V177.1M1180.0 175.1H1185.8M1180.0 177.1H1182.3M1178.6 172.5V176.1M1178.6 172.5H1188.3M1178.6 176.1H1180.0M1177.6 170.6V174.3M1177.6 170.6H1188.8M1177.6 174.3H1178.6M1175.0 167.2V172.5M1175.0 167.2H1184.6M1175.0 172.5H1177.6M1168.5 165.0V169.8M1168.5 165.0H1180.2M1168.5 169.8H1175.0M1186.3 138.6V139.1M1186.3 138.6H1197.5M1186.3 139.1H1197.5M1187.9 140.2V140.6M1187.9 140.2H1197.5M1187.9 140.6H1197.5M1187.3 139.6V140.4M1187.3 139.6H1197.5M1187.3 140.4H1187.9M1185.7 138.9V140.0M1185.7 138.9H1186.3M1185.7 140.0H1187.3M1190.4 140.9V141.3M1190.4 140.9H1197.5M1190.4 141.3H1197.5M1189.8 141.1V141.6M1189.8 141.1H1190.4M1189.8 141.6H1197.5M1189.8 142.0V142.6M1189.8 142.0H1197.5M1189.8 142.6H1197.5M1189.2 141.3V142.3M1189.2 141.3H1189.8M1189.2 142.3H1189.8M1191.6 143.8V144.3M1191.6 143.8H1197.5M1191.6 144.3H1197.5M1191.0 143.5V144.0M1191.0 143.5H1197.5M1191.0 144.0H1191.6M1190.4 143.7V144.8M1190.4 143.7H1191.0M1190.4 144.8H1197.5M1189.5 144.3V145.1M1189.5 144.3H1190.4M1189.5 145.1H1197.5M1188.9 144.7V145.4M1188.9 144.7H1189.5M1188.9 145.4H1197.5M1187.4 143.0V145.0M1187.4 143.0H1197.5M1187.4 145.0H1188.9M1186.3 141.8V144.0M1186.3 141.8H1189.2M1186.3 144.0H1187.4M1193.7 146.7V147.2M1193.7 146.7H1197.5M1193.7 147.2H1197.5M1193.1 146.4V146.9M1193.1 146.4H1197.5M1193.1 146.9H1193.7M1192.5 145.9V146.7M1192.5 145.9H1197.5M1192.5 146.7H1193.1M1185.7 142.9V146.3M1185.7 142.9H1186.3M1185.7 146.3H1192.5M1181.9 139.4V144.6M1181.9 139.4H1185.7M1181.9 144.6H1185.7M1194.6 148.6V149.0M1194.6 148.6H1197.5M1194.6 149.0H1197.5M1194.0 148.5V148.8M1194.0 148.5H1197.5M1194.0 148.8H1194.6M1193.4 148.3V148.6M1193.4 148.3H1197.5M1193.4 148.6H1194.0M1192.8 148.0V148.5M1192.8 148.0H1197.5M1192.8 148.5H1193.4M1191.4 147.6V148.2M1191.4 147.6H1197.5M1191.4 148.2H1192.8M1190.4 147.9V149.5M1190.4 147.9H1191.4M1190.4 149.5H1197.5M1189.8 148.7V149.7M1189.8 148.7H1190.4M1189.8 149.7H1197.5M1191.4 150.1V150.8M1191.4 150.1H1197.5M1191.4 150.8H1197.5M1189.2 149.2V150.5M1189.2 149.2H1189.8M1189.2 150.5H1191.4M1191.1 152.0V152.5M1191.1 152.0H1197.5M1191.1 152.5H1197.5M1190.5 152.3V153.2M1190.5 152.3H1191.1M1190.5 153.2H1197.5M1189.8 152.7V153.7M1189.8 152.7H1190.5M1189.8 153.7H1197.5M1189.2 151.5V153.2M1189.2 151.5H1197.5M1189.2 153.2H1189.8M1188.6 149.8V152.4M1188.6 149.8H1189.2M1188.6 152.4H1189.2M1191.2 154.2V154.7M1191.2 154.2H1197.5M1191.2 154.7H1197.5M1190.6 154.0V154.5M1190.6 154.0H1197.5M1190.6 154.5H1191.2M1187.6 151.1V154.2M1187.6 151.1H1188.6M1187.6 154.2H1190.6M1177.0 142.0V152.7M1177.0 142.0H1181.9M1177.0 152.7H1187.6M1188.9 155.3V155.7M1188.9 155.3H1197.5M1188.9 155.7H1197.5M1186.0 155.5V156.0M1186.0 155.5H1188.9M1186.0 156.0H1197.5M1182.4 155.8V156.5M1182.4 155.8H1186.0M1182.4 156.5H1197.5M1181.8 156.1V156.9M1181.8 156.1H1182.4M1181.8 156.9H1197.5M1175.7 147.3V156.5M1175.7 147.3H1177.0M1175.7 156.5H1181.8M1193.0 158.0V158.4M1193.0 158.0H1197.5M1193.0 158.4H1197.5M1192.4 157.4V158.2M1192.4 157.4H1197.5M1192.4 158.2H1193.0M1189.2 159.2V159.6M1189.2 159.2H1197.5M1189.2 159.6H1197.5M1188.6 158.9V159.4M1188.6 158.9H1197.5M1188.6 159.4H1189.2M1188.0 158.6V159.1M1188.0 158.6H1197.5M1188.0 159.1H1188.6M1186.7 157.8V158.9M1186.7 157.8H1192.4M1186.7 158.9H1188.0M1188.8 160.9V161.3M1188.8 160.9H1197.5M1188.8 161.3H1197.5M1188.0 161.1V161.7M1188.0 161.1H1188.8M1188.0 161.7H1197.5M1185.6 160.3V161.4M1185.6 160.3H1197.5M1185.6 161.4H1188.0M1185.0 160.9V162.1M1185.0 160.9H1185.6M1185.0 162.1H1197.5M1182.9 158.3V161.5M1182.9 158.3H1186.7M1182.9 161.5H1185.0M1171.4 151.9V159.9M1171.4 151.9H1175.7M1171.4 159.9H1182.9M1193.4 119.7V120.1M1193.4 119.7H1197.5M1193.4 120.1H1197.5M1192.8 119.9V120.5M1192.8 119.9H1193.4M1192.8 120.5H1197.5M1192.2 119.5V120.2M1192.2 119.5H1197.5M1192.2 120.2H1192.8M1191.6 119.8V120.7M1191.6 119.8H1192.2M1191.6 120.7H1197.5M1192.8 121.0V121.5M1192.8 121.0H1197.5M1192.8 121.5H1197.5M1194.0 122.0V122.5M1194.0 122.0H1197.5M1194.0 122.5H1197.5M1193.4 122.2V123.1M1193.4 122.2H1194.0M1193.4 123.1H1197.5M1193.4 123.6V124.1M1193.4 123.6H1197.5M1193.4 124.1H1197.5M1192.8 122.7V123.9M1192.8 122.7H1193.4M1192.8 123.9H1193.4M1192.2 121.3V123.3M1192.2 121.3H1192.8M1192.2 123.3H1192.8M1192.8 125.2V125.6M1192.8 125.2H1197.5M1192.8 125.6H1197.5M1192.2 124.5V125.4M1192.2 124.5H1197.5M1192.2 125.4H1192.8M1191.6 122.3V125.0M1191.6 122.3H1192.2M1191.6 125.0H1192.2M1191.0 120.3V123.6M1191.0 120.3H1191.6M1191.0 123.6H1191.6M1188.8 126.0V126.6M1188.8 126.0H1197.5M1188.8 126.6H1197.5M1186.7 126.3V127.4M1186.7 126.3H1188.8M1186.7 127.4H1197.5M1186.1 126.8V128.0M1186.1 126.8H1186.7M1186.1 128.0H1197.5M1191.6 128.4V128.9M1191.6 128.4H1197.5M1191.6 128.9H1197.5M1191.0 128.6V129.4M1191.0 128.6H1191.6M1191.0 129.4H1197.5M1194.0 131.3V131.7M1194.0 131.3H1197.5M1194.0 131.7H1197.5M1193.4 130.9V131.5M1193.4 130.9H1197.5M1193.4 131.5H1194.0M1192.8 130.4V131.2M1192.8 130.4H1197.5M1192.8 131.2H1193.4M1191.6 130.8V132.3M1191.6 130.8H1192.8M1191.6 132.3H1197.5M1191.0 129.8V131.5M1191.0 129.8H1197.5M1191.0 131.5H1191.6M1190.4 129.0V130.7M1190.4 129.0H1191.0M1190.4 130.7H1191.0M1190.0 133.5V133.9M1190.0 133.5H1197.5M1190.0 133.9H1197.5M1189.4 132.9V133.7M1189.4 132.9H1197.5M1189.4 133.7H1190.0M1188.8 129.8V133.3M1188.8 129.8H1190.4M1188.8 133.3H1189.4M1185.5 127.4V131.6M1185.5 127.4H1186.1M1185.5 131.6H1188.8M1180.8 122.0V129.5M1180.8 122.0H1191.0M1180.8 129.5H1185.5M1186.1 134.5V135.0M1186.1 134.5H1197.5M1186.1 135.0H1197.5M1185.5 134.7V135.5M1185.5 134.7H1186.1M1185.5 135.5H1197.5M1189.4 136.7V137.2M1189.4 136.7H1197.5M1189.4 137.2H1197.5M1188.8 136.9V137.6M1188.8 136.9H1189.4M1188.8 137.6H1197.5M1188.2 137.3V138.1M1188.2 137.3H1188.8M1188.2 138.1H1197.5M1187.2 136.3V137.7M1187.2 136.3H1197.5M1187.2 137.7H1188.2M1185.8 136.0V137.0M1185.8 136.0H1197.5M1185.8 137.0H1187.2M1184.9 135.1V136.5M1184.9 135.1H1185.5M1184.9 136.5H1185.8M1174.1 125.7V135.8M1174.1 125.7H1180.8M1174.1 135.8H1184.9M1187.7 99.0V99.5M1187.7 99.0H1197.5M1187.7 99.5H1197.5M1193.7 100.8V101.2M1193.7 100.8H1197.5M1193.7 101.2H1197.5M1195.5 102.2V102.7M1195.5 102.2H1197.5M1195.5 102.7H1197.5M1194.9 102.4V102.9M1194.9 102.4H1195.5M1194.9 102.9H1197.5M1194.3 102.7V103.0M1194.3 102.7H1194.9M1194.3 103.0H1197.5M1193.7 101.7V102.9M1193.7 101.7H1197.5M1193.7 102.9H1194.3M1193.1 101.0V102.3M1193.1 101.0H1193.7M1193.1 102.3H1193.7M1192.5 101.7V103.5M1192.5 101.7H1193.1M1192.5 103.5H1197.5M1191.9 103.9V104.3M1191.9 103.9H1197.5M1191.9 104.3H1197.5M1191.3 104.1V104.7M1191.3 104.1H1191.9M1191.3 104.7H1197.5M1190.7 102.6V104.4M1190.7 102.6H1192.5M1190.7 104.4H1191.3M1190.1 100.5V103.5M1190.1 100.5H1197.5M1190.1 103.5H1190.7M1189.5 102.0V105.1M1189.5 102.0H1190.1M1189.5 105.1H1197.5M1187.9 103.6V105.6M1187.9 103.6H1189.5M1187.9 105.6H1197.5M1184.3 100.0V104.6M1184.3 100.0H1197.5M1184.3 104.6H1187.9M1182.1 99.2V102.3M1182.1 99.2H1187.7M1182.1 102.3H1184.3M1193.6 106.2V106.8M1193.6 106.2H1197.5M1193.6 106.8H1197.5M1193.6 107.4V108.0M1193.6 107.4H1197.5M1193.6 108.0H1197.5M1193.0 106.5V107.7M1193.0 106.5H1193.6M1193.0 107.7H1193.6M1192.4 107.1V108.6M1192.4 107.1H1193.0M1192.4 108.6H1197.5M1192.4 109.2V109.6M1192.4 109.2H1197.5M1192.4 109.6H1197.5M1191.8 107.8V109.4M1191.8 107.8H1192.4M1191.8 109.4H1192.4M1192.5 110.3V110.8M1192.5 110.3H1197.5M1192.5 110.8H1197.5M1191.9 110.6V111.1M1191.9 110.6H1192.5M1191.9 111.1H1197.5M1191.3 109.8V110.8M1191.3 109.8H1197.5M1191.3 110.8H1191.9M1189.7 110.3V111.5M1189.7 110.3H1191.3M1189.7 111.5H1197.5M1193.7 112.4V112.8M1193.7 112.4H1197.5M1193.7 112.8H1197.5M1193.1 112.6V113.1M1193.1 112.6H1193.7M1193.1 113.1H1197.5M1192.5 112.2V112.9M1192.5 112.2H1197.5M1192.5 112.9H1193.1M1190.9 112.5V113.3M1190.9 112.5H1192.5M1190.9 113.3H1197.5M1190.3 111.9V112.9M1190.3 111.9H1197.5M1190.3 112.9H1190.9M1190.2 113.7V114.2M1190.2 113.7H1197.5M1190.2 114.2H1197.5M1193.6 114.4V114.8M1193.6 114.4H1197.5M1193.6 114.8H1197.5M1193.0 114.6V115.2M1193.0 114.6H1193.6M1193.0 115.2H1197.5M1192.7 116.4V116.9M1192.7 116.4H1197.5M1192.7 116.9H1197.5M1192.1 116.7V117.3M1192.1 116.7H1192.7M1192.1 117.3H1197.5M1191.5 115.9V117.0M1191.5 115.9H1197.5M1191.5 117.0H1192.1M1190.9 115.6V116.4M1190.9 115.6H1197.5M1190.9 116.4H1191.5M1189.2 116.0V117.8M1189.2 116.0H1190.9M1189.2 117.8H1197.5M1188.6 114.9V116.9M1188.6 114.9H1193.0M1188.6 116.9H1189.2M1192.4 118.7V119.2M1192.4 118.7H1197.5M1192.4 119.2H1197.5M1191.8 118.4V119.0M1191.8 118.4H1197.5M1191.8 119.0H1192.4M1191.2 118.2V118.7M1191.2 118.2H1197.5M1191.2 118.7H1191.8M1188.0 115.9V118.4M1188.0 115.9H1188.6M1188.0 118.4H1191.2M1185.1 113.9V117.2M1185.1 113.9H1190.2M1185.1 117.2H1188.0M1184.5 112.4V115.6M1184.5 112.4H1190.3M1184.5 115.6H1185.1M1183.4 110.9V114.0M1183.4 110.9H1189.7M1183.4 114.0H1184.5M1178.8 108.6V112.4M1178.8 108.6H1191.8M1178.8 112.4H1183.4M1176.6 100.8V110.5M1176.6 100.8H1182.1M1176.6 110.5H1178.8M1190.1 67.3V67.7M1190.1 67.3H1197.5M1190.1 67.7H1197.5M1189.5 66.9V67.5M1189.5 66.9H1197.5M1189.5 67.5H1190.1M1188.6 68.2V68.7M1188.6 68.2H1197.5M1188.6 68.7H1197.5M1191.4 69.3V69.8M1191.4 69.3H1197.5M1191.4 69.8H1197.5M1190.8 69.5V70.4M1190.8 69.5H1191.4M1190.8 70.4H1197.5M1193.8 71.7V72.1M1193.8 71.7H1197.5M1193.8 72.1H1197.5M1193.2 71.6V71.9M1193.2 71.6H1197.5M1193.2 71.9H1193.8M1192.6 71.7V72.6M1192.6 71.7H1193.2M1192.6 72.6H1197.5M1192.0 71.4V72.2M1192.0 71.4H1197.5M1192.0 72.2H1192.6M1191.4 71.1V71.8M1191.4 71.1H1197.5M1191.4 71.8H1192.0M1190.8 70.8V71.5M1190.8 70.8H1197.5M1190.8 71.5H1191.4M1190.2 70.0V71.1M1190.2 70.0H1190.8M1190.2 71.1H1190.8M1190.8 72.9V73.3M1190.8 72.9H1197.5M1190.8 73.3H1197.5M1190.2 73.1V74.0M1190.2 73.1H1190.8M1190.2 74.0H1197.5M1189.6 70.5V73.6M1189.6 70.5H1190.2M1189.6 73.6H1190.2M1189.0 69.0V72.1M1189.0 69.0H1197.5M1189.0 72.1H1189.6M1187.9 68.4V70.5M1187.9 68.4H1188.6M1187.9 70.5H1189.0M1187.3 67.2V69.5M1187.3 67.2H1189.5M1187.3 69.5H1187.9M1191.5 75.3V75.8M1191.5 75.3H1197.5M1191.5 75.8H1197.5M1190.9 74.8V75.5M1190.9 74.8H1197.5M1190.9 75.5H1191.5M1190.3 75.2V76.1M1190.3 75.2H1190.9M1190.3 76.1H1197.5M1189.7 74.5V75.6M1189.7 74.5H1197.5M1189.7 75.6H1190.3M1189.1 75.1V76.5M1189.1 75.1H1189.7M1189.1 76.5H1197.5M1185.7 68.3V75.8M1185.7 68.3H1187.3M1185.7 75.8H1189.1M1188.7 77.6V78.1M1188.7 77.6H1197.5M1188.7 78.1H1197.5M1188.1 77.8V78.5M1188.1 77.8H1188.7M1188.1 78.5H1197.5M1187.5 76.9V78.1M1187.5 76.9H1197.5M1187.5 78.1H1188.1M1191.1 79.7V80.2M1191.1 79.7H1197.5M1191.1 80.2H1197.5M1190.5 79.3V79.9M1190.5 79.3H1197.5M1190.5 79.9H1191.1M1189.9 79.0V79.6M1189.9 79.0H1197.5M1189.9 79.6H1190.5M1189.1 79.3V80.6M1189.1 79.3H1189.9M1189.1 80.6H1197.5M1186.9 77.5V79.9M1186.9 77.5H1187.5M1186.9 79.9H1189.1M1191.1 81.1V81.7M1191.1 81.1H1197.5M1191.1 81.7H1197.5M1191.7 82.0V82.4M1191.7 82.0H1197.5M1191.7 82.4H1197.5M1191.1 82.2V83.1M1191.1 82.2H1191.7M1191.1 83.1H1197.5M1190.5 81.4V82.6M1190.5 81.4H1191.1M1190.5 82.6H1191.1M1191.7 83.5V83.9M1191.7 83.5H1197.5M1191.7 83.9H1197.5M1191.1 83.7V84.5M1191.1 83.7H1191.7M1191.1 84.5H1197.5M1192.9 85.4V85.9M1192.9 85.4H1197.5M1192.9 85.9H1197.5M1192.3 85.7V86.2M1192.3 85.7H1192.9M1192.3 86.2H1197.5M1191.7 85.0V85.9M1191.7 85.0H1197.5M1191.7 85.9H1192.3M1191.1 84.8V85.5M1191.1 84.8H1197.5M1191.1 85.5H1191.7M1190.5 84.1V85.1M1190.5 84.1H1191.1M1190.5 85.1H1191.1M1187.7 84.6V86.4M1187.7 84.6H1190.5M1187.7 86.4H1197.5M1186.6 82.0V85.5M1186.6 82.0H1190.5M1186.6 85.5H1187.7M1191.9 87.2V87.6M1191.9 87.2H1197.5M1191.9 87.6H1197.5M1191.3 87.4V88.0M1191.3 87.4H1191.9M1191.3 88.0H1197.5M1190.7 87.0V87.7M1190.7 87.0H1197.5M1190.7 87.7H1191.3M1190.1 86.9V87.3M1190.1 86.9H1197.5M1190.1 87.3H1190.7M1191.9 88.5V89.0M1191.9 88.5H1197.5M1191.9 89.0H1197.5M1191.3 88.2V88.7M1191.3 88.2H1197.5M1191.3 88.7H1191.9M1190.7 88.4V89.4M1190.7 88.4H1191.3M1190.7 89.4H1197.5M1190.1 88.9V89.9M1190.1 88.9H1190.7M1190.1 89.9H1197.5M1189.5 87.1V89.4M1189.5 87.1H1190.1M1189.5 89.4H1190.1M1187.6 86.7V88.3M1187.6 86.7H1197.5M1187.6 88.3H1189.5M1191.4 90.6V91.3M1191.4 90.6H1197.5M1191.4 91.3H1197.5M1190.8 90.2V90.9M1190.8 90.2H1197.5M1190.8 90.9H1191.4M1193.7 92.8V93.3M1193.7 92.8H1197.5M1193.7 93.3H1197.5M1193.1 93.1V93.6M1193.1 93.1H1193.7M1193.1 93.6H1197.5M1192.5 92.5V93.3M1192.5 92.5H1197.5M1192.5 93.3H1193.1M1191.6 92.3V92.9M1191.6 92.3H1197.5M1191.6 92.9H1192.5M1192.2 94.0V94.6M1192.2 94.0H1197.5M1192.2 94.6H1197.5M1191.6 94.3V95.1M1191.6 94.3H1192.2M1191.6 95.1H1197.5M1191.0 92.6V94.7M1191.0 92.6H1191.6M1191.0 94.7H1191.6M1190.0 91.9V93.6M1190.0 91.9H1197.5M1190.0 93.6H1191.0M1189.4 90.5V92.8M1189.4 90.5H1190.8M1189.4 92.8H1190.0M1189.8 95.9V96.4M1189.8 95.9H1197.5M1189.8 96.4H1197.5M1189.2 95.5V96.2M1189.2 95.5H1197.5M1189.2 96.2H1189.8M1187.1 91.7V95.8M1187.1 91.7H1189.4M1187.1 95.8H1189.2M1187.1 96.9V97.4M1187.1 96.9H1197.5M1187.1 97.4H1197.5M1186.5 93.7V97.1M1186.5 93.7H1187.1M1186.5 97.1H1187.1M1187.3 97.6V98.1M1187.3 97.6H1197.5M1187.3 98.1H1197.5M1186.7 97.9V98.5M1186.7 97.9H1187.3M1186.7 98.5H1197.5M1185.9 95.4V98.2M1185.9 95.4H1186.5M1185.9 98.2H1186.7M1185.3 87.5V96.8M1185.3 87.5H1187.6M1185.3 96.8H1185.9M1181.3 83.8V92.1M1181.3 83.8H1186.6M1181.3 92.1H1185.3M1179.8 78.7V88.0M1179.8 78.7H1186.9M1179.8 88.0H1181.3M1179.1 72.1V83.3M1179.1 72.1H1185.7M1179.1 83.3H1179.8M1187.6 45.7V46.1M1187.6 45.7H1197.5M1187.6 46.1H1197.5M1188.2 46.5V47.0M1188.2 46.5H1197.5M1188.2 47.0H1197.5M1187.6 46.7V47.3M1187.6 46.7H1188.2M1187.6 47.3H1197.5M1187.0 45.9V47.0M1187.0 45.9H1187.6M1187.0 47.0H1187.6M1192.1 48.7V49.1M1192.1 48.7H1197.5M1192.1 49.1H1197.5M1191.5 48.1V48.9M1191.5 48.1H1197.5M1191.5 48.9H1192.1M1190.9 47.7V48.5M1190.9 47.7H1197.5M1190.9 48.5H1191.5M1190.3 48.1V49.3M1190.3 48.1H1190.9M1190.3 49.3H1197.5M1191.5 50.0V50.5M1191.5 50.0H1197.5M1191.5 50.5H1197.5M1190.9 49.7V50.2M1190.9 49.7H1197.5M1190.9 50.2H1191.5M1190.3 49.5V50.0M1190.3 49.5H1197.5M1190.3 50.0H1190.9M1189.7 48.7V49.7M1189.7 48.7H1190.3M1189.7 49.7H1190.3M1186.4 46.5V49.2M1186.4 46.5H1187.0M1186.4 49.2H1189.7M1192.7 51.4V51.9M1192.7 51.4H1197.5M1192.7 51.9H1197.5M1192.1 51.6V52.1M1192.1 51.6H1192.7M1192.1 52.1H1197.5M1191.5 51.0V51.9M1191.5 51.0H1197.5M1191.5 51.9H1192.1M1190.9 51.4V52.4M1190.9 51.4H1191.5M1190.9 52.4H1197.5M1192.1 53.1V53.5M1192.1 53.1H1197.5M1192.1 53.5H1197.5M1192.1 53.8V54.3M1192.1 53.8H1197.5M1192.1 54.3H1197.5M1191.5 53.3V54.1M1191.5 53.3H1192.1M1191.5 54.1H1192.1M1190.9 52.8V53.7M1190.9 52.8H1197.5M1190.9 53.7H1191.5M1190.3 51.9V53.2M1190.3 51.9H1190.9M1190.3 53.2H1190.9M1189.4 55.0V55.4M1189.4 55.0H1197.5M1189.4 55.4H1197.5M1190.7 56.1V56.6M1190.7 56.1H1197.5M1190.7 56.6H1197.5M1190.1 55.8V56.3M1190.1 55.8H1197.5M1190.1 56.3H1190.7M1188.8 55.2V56.1M1188.8 55.2H1189.4M1188.8 56.1H1190.1M1188.2 52.6V55.6M1188.2 52.6H1190.3M1188.2 55.6H1188.8M1184.2 47.8V54.1M1184.2 47.8H1186.4M1184.2 54.1H1188.2M1191.8 57.8V58.2M1191.8 57.8H1197.5M1191.8 58.2H1197.5M1191.2 58.0V58.6M1191.2 58.0H1191.8M1191.2 58.6H1197.5M1190.6 57.5V58.3M1190.6 57.5H1197.5M1190.6 58.3H1191.2M1190.0 57.1V57.9M1190.0 57.1H1197.5M1190.0 57.9H1190.6M1190.9 59.2V59.9M1190.9 59.2H1197.5M1190.9 59.9H1197.5M1190.0 58.9V59.6M1190.0 58.9H1197.5M1190.0 59.6H1190.9M1189.4 57.5V59.2M1189.4 57.5H1190.0M1189.4 59.2H1190.0M1192.4 60.6V61.0M1192.4 60.6H1197.5M1192.4 61.0H1197.5M1191.8 60.8V61.4M1191.8 60.8H1192.4M1191.8 61.4H1197.5M1188.8 58.3V61.1M1188.8 58.3H1189.4M1188.8 61.1H1191.8M1192.8 62.0V62.4M1192.8 62.0H1197.5M1192.8 62.4H1197.5M1192.2 62.2V62.7M1192.2 62.2H1192.8M1192.2 62.7H1197.5M1191.6 62.4V63.0M1191.6 62.4H1192.2M1191.6 63.0H1197.5M1189.4 62.7V63.2M1189.4 62.7H1191.6M1189.4 63.2H1197.5M1191.1 63.8V64.2M1191.1 63.8H1197.5M1191.1 64.2H1197.5M1190.5 63.4V64.0M1190.5 63.4H1197.5M1190.5 64.0H1191.1M1188.8 63.0V63.7M1188.8 63.0H1189.4M1188.8 63.7H1190.5M1188.2 59.7V63.3M1188.2 59.7H1188.8M1188.2 63.3H1188.8M1193.0 64.7V65.2M1193.0 64.7H1197.5M1193.0 65.2H1197.5M1192.2 65.0V65.4M1192.2 65.0H1193.0M1192.2 65.4H1197.5M1192.8 66.1V66.6M1192.8 66.1H1197.5M1192.8 66.6H1197.5M1192.2 65.7V66.4M1192.2 65.7H1197.5M1192.2 66.4H1192.8M1191.6 65.2V66.0M1191.6 65.2H1192.2M1191.6 66.0H1192.2M1186.6 61.5V65.6M1186.6 61.5H1188.2M1186.6 65.6H1191.6M1181.4 51.0V63.6M1181.4 51.0H1184.2M1181.4 63.6H1186.6M1188.9 22.3V22.8M1188.9 22.3H1197.5M1188.9 22.8H1197.5M1188.9 23.3V23.9M1188.9 23.3H1197.5M1188.9 23.9H1197.5M1188.3 22.6V23.6M1188.3 22.6H1188.9M1188.3 23.6H1188.9M1195.2 25.8V26.2M1195.2 25.8H1197.5M1195.2 26.2H1197.5M1194.6 26.0V26.5M1194.6 26.0H1195.2M1194.6 26.5H1197.5M1194.0 26.2V26.7M1194.0 26.2H1194.6M1194.0 26.7H1197.5M1193.4 26.5V27.1M1193.4 26.5H1194.0M1193.4 27.1H1197.5M1192.5 25.3V26.8M1192.5 25.3H1197.5M1192.5 26.8H1193.4M1191.9 24.9V26.0M1191.9 24.9H1197.5M1191.9 26.0H1192.5M1191.3 25.4V27.6M1191.3 25.4H1191.9M1191.3 27.6H1197.5M1189.2 24.4V26.5M1189.2 24.4H1197.5M1189.2 26.5H1191.3M1190.4 28.3V28.9M1190.4 28.3H1197.5M1190.4 28.9H1197.5M1192.4 29.5V29.9M1192.4 29.5H1197.5M1192.4 29.9H1197.5M1190.4 29.7V30.2M1190.4 29.7H1192.4M1190.4 30.2H1197.5M1189.8 28.6V30.0M1189.8 28.6H1190.4M1189.8 30.0H1190.4M1190.4 30.5V30.9M1190.4 30.5H1197.5M1190.4 30.9H1197.5M1189.8 30.3V30.7M1189.8 30.3H1197.5M1189.8 30.7H1190.4M1189.2 29.3V30.5M1189.2 29.3H1189.8M1189.2 30.5H1189.8M1190.4 31.9V32.3M1190.4 31.9H1197.5M1190.4 32.3H1197.5M1189.8 31.5V32.1M1189.8 31.5H1197.5M1189.8 32.1H1190.4M1192.1 32.8V33.3M1192.1 32.8H1197.5M1192.1 33.3H1197.5M1190.4 33.0V33.8M1190.4 33.0H1192.1M1190.4 33.8H1197.5M1192.3 34.2V34.7M1192.3 34.2H1197.5M1192.3 34.7H1197.5M1191.7 34.5V34.9M1191.7 34.5H1192.3M1191.7 34.9H1197.5M1194.1 35.4V35.9M1194.1 35.4H1197.5M1194.1 35.9H1197.5M1193.5 35.0V35.6M1193.5 35.0H1197.5M1193.5 35.6H1194.1M1194.1 36.3V36.7M1194.1 36.3H1197.5M1194.1 36.7H1197.5M1193.5 36.1V36.5M1193.5 36.1H1197.5M1193.5 36.5H1194.1M1192.9 35.3V36.3M1192.9 35.3H1193.5M1192.9 36.3H1193.5M1194.7 37.2V37.8M1194.7 37.2H1197.5M1194.7 37.8H1197.5M1194.1 37.5V38.5M1194.1 37.5H1194.7M1194.1 38.5H1197.5M1193.5 38.0V39.0M1193.5 38.0H1194.1M1193.5 39.0H1197.5M1192.9 38.5V39.3M1192.9 38.5H1193.5M1192.9 39.3H1197.5M1192.3 35.8V38.9M1192.3 35.8H1192.9M1192.3 38.9H1192.9M1193.9 39.7V40.1M1193.9 39.7H1197.5M1193.9 40.1H1197.5M1193.3 39.6V39.9M1193.3 39.6H1197.5M1193.3 39.9H1193.9M1191.7 37.4V39.8M1191.7 37.4H1192.3M1191.7 39.8H1193.3M1191.1 34.7V38.6M1191.1 34.7H1191.7M1191.1 38.6H1191.7M1189.8 33.4V36.6M1189.8 33.4H1190.4M1189.8 36.6H1191.1M1189.2 31.8V35.0M1189.2 31.8H1189.8M1189.2 35.0H1189.8M1188.6 29.9V33.4M1188.6 29.9H1189.2M1188.6 33.4H1189.2M1189.8 40.8V41.3M1189.8 40.8H1197.5M1189.8 41.3H1197.5M1190.4 41.8V42.2M1190.4 41.8H1197.5M1190.4 42.2H1197.5M1189.2 41.0V42.0M1189.2 41.0H1189.8M1189.2 42.0H1190.4M1193.4 43.5V43.9M1193.4 43.5H1197.5M1193.4 43.9H1197.5M1192.8 43.7V44.4M1192.8 43.7H1193.4M1192.8 44.4H1197.5M1193.4 44.7V45.1M1193.4 44.7H1197.5M1193.4 45.1H1197.5M1192.8 44.9V45.4M1192.8 44.9H1193.4M1192.8 45.4H1197.5M1192.2 44.0V45.1M1192.2 44.0H1192.8M1192.2 45.1H1192.8M1191.3 43.2V44.6M1191.3 43.2H1197.5M1191.3 44.6H1192.2M1190.7 42.7V43.9M1190.7 42.7H1197.5M1190.7 43.9H1191.3M1188.6 41.5V43.3M1188.6 41.5H1189.2M1188.6 43.3H1190.7M1188.0 31.7V42.4M1188.0 31.7H1188.6M1188.0 42.4H1188.6M1184.6 25.5V37.0M1184.6 25.5H1189.2M1184.6 37.0H1188.0M1183.8 23.1V31.3M1183.8 23.1H1188.3M1183.8 31.3H1184.6M1179.4 27.2V57.3M1179.4 57.3H1181.4M1179.4 27.2H1183.8M1177.1 42.2V77.7M1177.1 77.7H1179.1M1177.1 42.2H1179.4M1174.6 60.0V105.6M1174.6 105.6H1176.6M1174.6 60.0H1177.1M1172.1 82.8V130.8M1172.1 130.8H1174.1M1172.1 82.8H1174.6M1169.4 106.8V155.9M1169.4 155.9H1171.4M1169.4 106.8H1172.1M1166.5 131.4V167.4M1166.5 167.4H1168.5M1166.5 131.4H1169.4M1163.3 149.4V195.9M1163.3 195.9H1165.3M1163.3 149.4H1166.5M1159.0 172.6V206.6M1159.0 206.6H1172.2M1159.0 172.6H1163.3M1159.0 189.6V201.8M1188.0 215.4V215.8M1188.0 215.4H1197.5M1188.0 215.8H1197.5M1187.4 215.6V216.3M1187.4 215.6H1188.0M1187.4 216.3H1197.5M1186.8 215.1V215.9M1186.8 215.1H1197.5M1186.8 215.9H1187.4M1188.5 216.9V217.5M1188.5 216.9H1197.5M1188.5 217.5H1197.5M1189.8 218.0V218.4M1189.8 218.0H1197.5M1189.8 218.4H1197.5M1187.9 217.2V218.2M1187.9 217.2H1188.5M1187.9 218.2H1189.8M1190.4 219.0V219.4M1190.4 219.0H1197.5M1190.4 219.4H1197.5M1188.6 218.6V219.2M1188.6 218.6H1197.5M1188.6 219.2H1190.4M1187.3 217.7V218.9M1187.3 217.7H1187.9M1187.3 218.9H1188.6M1186.7 218.3V219.6M1186.7 218.3H1187.3M1186.7 219.6H1197.5M1191.9 220.2V220.7M1191.9 220.2H1197.5M1191.9 220.7H1197.5M1191.3 219.9V220.5M1191.3 219.9H1197.5M1191.3 220.5H1191.9M1189.4 220.2V221.1M1189.4 220.2H1191.3M1189.4 221.1H1197.5M1188.8 220.6V221.6M1188.8 220.6H1189.4M1188.8 221.6H1197.5M1188.0 221.1V222.1M1188.0 221.1H1188.8M1188.0 222.1H1197.5M1186.1 219.0V221.6M1186.1 219.0H1186.7M1186.1 221.6H1188.0M1183.8 215.5V220.3M1183.8 215.5H1186.8M1183.8 220.3H1186.1M1192.6 223.9V224.3M1192.6 223.9H1197.5M1192.6 224.3H1197.5M1192.0 224.1V224.7M1192.0 224.1H1192.6M1192.0 224.7H1197.5M1191.4 223.3V224.4M1191.4 223.3H1197.5M1191.4 224.4H1192.0M1190.8 222.7V223.8M1190.8 222.7H1197.5M1190.8 223.8H1191.4M1192.0 224.9V225.3M1192.0 224.9H1197.5M1192.0 225.3H1197.5M1191.4 225.1V225.9M1191.4 225.1H1192.0M1191.4 225.9H1197.5M1190.8 225.5V226.2M1190.8 225.5H1191.4M1190.8 226.2H1197.5M1190.2 223.3V225.9M1190.2 223.3H1190.8M1190.2 225.9H1190.8M1189.1 224.6V226.5M1189.1 224.6H1190.2M1189.1 226.5H1197.5M1190.0 228.0V228.4M1190.0 228.0H1197.5M1190.0 228.4H1197.5M1189.3 227.6V228.2M1189.3 227.6H1197.5M1189.3 228.2H1190.0M1188.7 227.4V227.9M1188.7 227.4H1197.5M1188.7 227.9H1189.3M1186.3 228.9V229.5M1186.3 228.9H1197.5M1186.3 229.5H1197.5M1185.2 227.6V229.2M1185.2 227.6H1188.7M1185.2 229.2H1186.3M1182.5 227.0V228.4M1182.5 227.0H1197.5M1182.5 228.4H1185.2M1192.7 230.7V231.1M1192.7 230.7H1197.5M1192.7 231.1H1197.5M1192.1 230.9V231.5M1192.1 230.9H1192.7M1192.1 231.5H1197.5M1191.3 230.5V231.2M1191.3 230.5H1197.5M1191.3 231.2H1192.1M1194.3 232.4V232.8M1194.3 232.4H1197.5M1194.3 232.8H1197.5M1193.7 232.6V233.1M1193.7 232.6H1194.3M1193.7 233.1H1197.5M1193.1 232.8V233.4M1193.1 232.8H1193.7M1193.1 233.4H1197.5M1192.5 233.1V233.8M1192.5 233.1H1193.1M1192.5 233.8H1197.5M1194.1 234.3V234.8M1194.1 234.3H1197.5M1194.1 234.8H1197.5M1193.5 234.1V234.5M1193.5 234.1H1197.5M1193.5 234.5H1194.1M1191.9 233.5V234.3M1191.9 233.5H1192.5M1191.9 234.3H1193.5M1191.3 231.9V233.9M1191.3 231.9H1197.5M1191.3 233.9H1191.9M1190.7 230.8V232.9M1190.7 230.8H1191.3M1190.7 232.9H1191.3M1188.7 230.1V231.9M1188.7 230.1H1197.5M1188.7 231.9H1190.7M1190.7 235.4V236.0M1190.7 235.4H1197.5M1190.7 236.0H1197.5M1189.9 237.6V238.1M1189.9 237.6H1197.5M1189.9 238.1H1197.5M1189.3 237.0V237.9M1189.3 237.0H1197.5M1189.3 237.9H1189.9M1187.6 236.5V237.4M1187.6 236.5H1197.5M1187.6 237.4H1189.3M1190.0 239.1V239.5M1190.0 239.1H1197.5M1190.0 239.5H1197.5M1188.0 238.6V239.3M1188.0 238.6H1197.5M1188.0 239.3H1190.0M1187.4 238.9V239.8M1187.4 238.9H1188.0M1187.4 239.8H1197.5M1188.8 240.1V240.7M1188.8 240.1H1197.5M1188.8 240.7H1197.5M1188.2 240.4V241.2M1188.2 240.4H1188.8M1188.2 241.2H1197.5M1187.6 240.8V241.8M1187.6 240.8H1188.2M1187.6 241.8H1197.5M1189.9 242.8V243.4M1189.9 242.8H1197.5M1189.9 243.4H1197.5M1189.3 242.3V243.1M1189.3 242.3H1197.5M1189.3 243.1H1189.9M1187.0 241.3V242.7M1187.0 241.3H1187.6M1187.0 242.7H1189.3M1185.6 239.3V242.0M1185.6 239.3H1187.4M1185.6 242.0H1187.0M1192.7 244.7V245.2M1192.7 244.7H1197.5M1192.7 245.2H1197.5M1192.1 244.5V245.0M1192.1 244.5H1197.5M1192.1 245.0H1192.7M1191.5 244.7V245.7M1191.5 244.7H1192.1M1191.5 245.7H1197.5M1190.9 245.2V246.2M1190.9 245.2H1191.5M1190.9 246.2H1197.5M1190.3 245.7V246.7M1190.3 245.7H1190.9M1190.3 246.7H1197.5M1189.7 244.0V246.2M1189.7 244.0H1197.5M1189.7 246.2H1190.3M1185.0 240.7V245.1M1185.0 240.7H1185.6M1185.0 245.1H1189.7M1182.7 237.0V242.9M1182.7 237.0H1187.6M1182.7 242.9H1185.0M1181.9 235.7V239.9M1181.9 235.7H1190.7M1181.9 239.9H1182.7M1179.9 231.0V237.8M1179.9 231.0H1188.7M1179.9 237.8H1181.9M1178.2 227.7V234.4M1178.2 227.7H1182.5M1178.2 234.4H1179.9M1175.8 225.5V231.1M1175.8 225.5H1189.1M1175.8 231.1H1178.2M1174.4 217.9V228.3M1174.4 217.9H1183.8M1174.4 228.3H1175.8M1193.2 247.1V247.7M1193.2 247.1H1197.5M1193.2 247.7H1197.5M1192.6 247.4V248.2M1192.6 247.4H1193.2M1192.6 248.2H1197.5M1192.0 247.8V248.6M1192.0 247.8H1192.6M1192.0 248.6H1197.5M1185.7 249.7V250.1M1185.7 249.7H1197.5M1185.7 250.1H1197.5M1184.9 249.1V249.9M1184.9 249.1H1197.5M1184.9 249.9H1185.7M1192.6 250.6V251.2M1192.6 250.6H1197.5M1192.6 251.2H1197.5M1192.0 250.4V250.9M1192.0 250.4H1197.5M1192.0 250.9H1192.6M1189.6 253.0V253.4M1189.6 253.0H1197.5M1189.6 253.4H1197.5M1189.0 252.6V253.2M1189.0 252.6H1197.5M1189.0 253.2H1189.6M1188.4 252.9V253.9M1188.4 252.9H1189.0M1188.4 253.9H1197.5M1187.7 251.9V253.4M1187.7 251.9H1197.5M1187.7 253.4H1188.4M1186.6 250.7V252.7M1186.6 250.7H1192.0M1186.6 252.7H1187.7M1189.7 254.3V254.8M1189.7 254.3H1197.5M1189.7 254.8H1197.5M1186.0 251.7V254.6M1186.0 251.7H1186.6M1186.0 254.6H1189.7M1187.5 255.7V256.2M1187.5 255.7H1197.5M1187.5 256.2H1197.5M1185.6 255.3V255.9M1185.6 255.3H1197.5M1185.6 255.9H1187.5M1185.0 253.1V255.6M1185.0 253.1H1186.0M1185.0 255.6H1185.6M1184.3 254.4V256.6M1184.3 254.4H1185.0M1184.3 256.6H1197.5M1182.0 249.5V255.5M1182.0 249.5H1184.9M1182.0 255.5H1184.3M1180.4 248.2V252.5M1180.4 248.2H1192.0M1180.4 252.5H1182.0M1188.7 257.3V257.8M1188.7 257.3H1197.5M1188.7 257.8H1197.5M1176.0 250.3V257.5M1176.0 250.3H1180.4M1176.0 257.5H1188.7M1169.4 223.1V253.9M1169.4 223.1H1174.4M1169.4 253.9H1176.0M1169.4 234.8V238.5M1196.4 258.3V258.9M1196.4 258.3H1197.5M1196.4 258.9H1197.5M1195.8 258.6V259.6M1195.8 258.6H1196.4M1195.8 259.6H1197.5M1195.2 259.1V260.2M1195.2 259.1H1195.8M1195.2 260.2H1197.5M1194.6 259.6V260.7M1194.6 259.6H1195.2M1194.6 260.7H1197.5M1194.0 260.2V261.4M1194.0 260.2H1194.6M1194.0 261.4H1197.5M1195.8 262.1V262.6M1195.8 262.1H1197.5M1195.8 262.6H1197.5M1195.2 262.4V263.1M1195.2 262.4H1195.8M1195.2 263.1H1197.5M1194.6 262.7V263.7M1194.6 262.7H1195.2M1194.6 263.7H1197.5M1194.0 263.2V264.1M1194.0 263.2H1194.6M1194.0 264.1H1197.5M1193.4 260.8V263.7M1193.4 260.8H1194.0M1193.4 263.7H1194.0M1193.4 264.3V264.7M1193.4 264.3H1197.5M1193.4 264.7H1197.5M1192.8 262.2V264.5M1192.8 262.2H1193.4M1192.8 264.5H1193.4M1193.7 266.8V267.3M1193.7 266.8H1197.5M1193.7 267.3H1197.5M1193.1 266.1V267.1M1193.1 266.1H1197.5M1193.1 267.1H1193.7M1192.5 265.5V266.6M1192.5 265.5H1197.5M1192.5 266.6H1193.1M1191.9 265.2V266.1M1191.9 265.2H1197.5M1191.9 266.1H1192.5M1191.3 263.4V265.6M1191.3 263.4H1192.8M1191.3 265.6H1191.9M1194.3 269.3V269.7M1194.3 269.3H1197.5M1194.3 269.7H1197.5M1193.7 269.5V269.9M1193.7 269.5H1194.3M1193.7 269.9H1197.5M1193.1 268.6V269.7M1193.1 268.6H1197.5M1193.1 269.7H1193.7M1192.5 268.2V269.2M1192.5 268.2H1197.5M1192.5 269.2H1193.1M1191.9 267.7V268.7M1191.9 267.7H1197.5M1191.9 268.7H1192.5M1191.3 268.2V270.2M1191.3 268.2H1191.9M1191.3 270.2H1197.5M1190.7 264.5V269.2M1190.7 264.5H1191.3M1190.7 269.2H1191.3M1193.5 271.4V271.9M1193.5 271.4H1197.5M1193.5 271.9H1197.5M1192.9 271.6V272.1M1192.9 271.6H1193.5M1192.9 272.1H1197.5M1192.3 271.0V271.9M1192.3 271.0H1197.5M1192.3 271.9H1192.9M1191.7 270.8V271.5M1191.7 270.8H1197.5M1191.7 271.5H1192.3M1191.1 271.1V272.4M1191.1 271.1H1191.7M1191.1 272.4H1197.5M1190.5 271.8V272.8M1190.5 271.8H1191.1M1190.5 272.8H1197.5M1188.5 270.6V272.3M1188.5 270.6H1197.5M1188.5 272.3H1190.5M1189.4 273.2V273.8M1189.4 273.2H1197.5M1189.4 273.8H1197.5M1192.1 274.2V274.7M1192.1 274.2H1197.5M1192.1 274.7H1197.5M1191.5 274.5V275.1M1191.5 274.5H1192.1M1191.5 275.1H1197.5M1192.6 275.5V276.0M1192.6 275.5H1197.5M1192.6 276.0H1197.5M1191.5 275.8V276.5M1191.5 275.8H1192.6M1191.5 276.5H1197.5M1190.9 274.8V276.1M1190.9 274.8H1191.5M1190.9 276.1H1191.5M1191.5 277.5V278.0M1191.5 277.5H1197.5M1191.5 278.0H1197.5M1190.9 276.9V277.8M1190.9 276.9H1197.5M1190.9 277.8H1191.5M1190.3 275.5V277.3M1190.3 275.5H1190.9M1190.3 277.3H1190.9M1189.4 276.4V278.5M1189.4 276.4H1190.3M1189.4 278.5H1197.5M1188.8 273.5V277.4M1188.8 273.5H1189.4M1188.8 277.4H1189.4M1187.9 271.4V275.5M1187.9 271.4H1188.5M1187.9 275.5H1188.8M1194.5 279.2V279.6M1194.5 279.2H1197.5M1194.5 279.6H1197.5M1193.9 279.4V279.8M1193.9 279.4H1194.5M1193.9 279.8H1197.5M1193.3 279.6V280.0M1193.3 279.6H1193.9M1193.3 280.0H1197.5M1194.0 280.4V281.0M1194.0 280.4H1197.5M1194.0 281.0H1197.5M1194.6 281.5V281.9M1194.6 281.5H1197.5M1194.6 281.9H1197.5M1196.4 282.8V283.2M1196.4 282.8H1197.5M1196.4 283.2H1197.5M1195.8 283.0V283.5M1195.8 283.0H1196.4M1195.8 283.5H1197.5M1195.2 282.4V283.3M1195.2 282.4H1197.5M1195.2 283.3H1195.8M1194.6 282.8V283.8M1194.6 282.8H1195.2M1194.6 283.8H1197.5M1194.0 281.7V283.3M1194.0 281.7H1194.6M1194.0 283.3H1194.6M1193.4 280.7V282.5M1193.4 280.7H1194.0M1193.4 282.5H1194.0M1194.6 284.6V285.1M1194.6 284.6H1197.5M1194.6 285.1H1197.5M1194.0 284.8V285.3M1194.0 284.8H1194.6M1194.0 285.3H1197.5M1193.4 284.1V285.1M1193.4 284.1H1197.5M1193.4 285.1H1194.0M1192.8 281.6V284.6M1192.8 281.6H1193.4M1192.8 284.6H1193.4M1192.0 279.8V283.1M1192.0 279.8H1193.3M1192.0 283.1H1192.8M1192.0 285.8V286.3M1192.0 285.8H1197.5M1192.0 286.3H1197.5M1191.4 281.5V286.0M1191.4 281.5H1192.0M1191.4 286.0H1192.0M1185.6 273.4V283.8M1185.6 273.4H1187.9M1185.6 283.8H1191.4M1182.2 266.9V278.6M1182.2 266.9H1190.7M1182.2 278.6H1185.6M1193.1 286.9V287.3M1193.1 286.9H1197.5M1193.1 287.3H1197.5M1196.1 288.7V289.2M1196.1 288.7H1197.5M1196.1 289.2H1197.5M1195.5 288.9V289.7M1195.5 288.9H1196.1M1195.5 289.7H1197.5M1194.9 288.5V289.3M1194.9 288.5H1197.5M1194.9 289.3H1195.5M1194.3 288.2V288.9M1194.3 288.2H1197.5M1194.3 288.9H1194.9M1193.7 287.8V288.5M1193.7 287.8H1197.5M1193.7 288.5H1194.3M1193.1 287.6V288.2M1193.1 287.6H1197.5M1193.1 288.2H1193.7M1192.5 287.1V287.9M1192.5 287.1H1193.1M1192.5 287.9H1193.1M1189.7 290.9V291.3M1189.7 290.9H1197.5M1189.7 291.3H1197.5M1189.1 291.1V291.8M1189.1 291.1H1189.7M1189.1 291.8H1197.5M1188.5 291.4V292.4M1188.5 291.4H1189.1M1188.5 292.4H1197.5M1187.9 290.5V291.9M1187.9 290.5H1197.5M1187.9 291.9H1188.5M1189.7 293.3V293.8M1189.7 293.3H1197.5M1189.7 293.8H1197.5M1189.1 292.8V293.6M1189.1 292.8H1197.5M1189.1 293.6H1189.7M1188.5 293.2V294.3M1188.5 293.2H1189.1M1188.5 294.3H1197.5M1188.5 294.8V295.3M1188.5 294.8H1197.5M1188.5 295.3H1197.5M1187.9 293.7V295.0M1187.9 293.7H1188.5M1187.9 295.0H1188.5M1187.3 291.2V294.4M1187.3 291.2H1187.9M1187.3 294.4H1187.9M1186.4 292.8V295.9M1186.4 292.8H1187.3M1186.4 295.9H1197.5M1184.5 290.0V294.3M1184.5 290.0H1197.5M1184.5 294.3H1186.4M1183.8 287.5V292.2M1183.8 287.5H1192.5M1183.8 292.2H1184.5M1177.4 272.7V289.8M1177.4 272.7H1182.2M1177.4 289.8H1183.8M1193.3 298.3V298.8M1193.3 298.3H1197.5M1193.3 298.8H1197.5M1192.7 297.5V298.6M1192.7 297.5H1197.5M1192.7 298.6H1193.3M1191.7 296.8V298.0M1191.7 296.8H1197.5M1191.7 298.0H1192.7M1191.1 296.3V297.4M1191.1 296.3H1197.5M1191.1 297.4H1191.7M1190.3 299.1V299.6M1190.3 299.1H1197.5M1190.3 299.6H1197.5M1189.7 296.9V299.4M1189.7 296.9H1191.1M1189.7 299.4H1190.3M1172.0 281.3V298.1M1172.0 281.3H1177.4M1172.0 298.1H1189.7M1172.0 265.0V289.7M1189.2 495.1V495.5M1189.2 495.1H1197.5M1189.2 495.5H1197.5M1188.4 495.0V495.3M1188.4 495.0H1197.5M1188.4 495.3H1189.2M1187.8 494.6V495.1M1187.8 494.6H1197.5M1187.8 495.1H1188.4M1187.2 493.9V494.8M1187.2 493.9H1197.5M1187.2 494.8H1187.8M1190.0 496.2V496.6M1190.0 496.2H1197.5M1190.0 496.6H1197.5M1189.4 496.4V496.7M1189.4 496.4H1190.0M1189.4 496.7H1197.5M1186.6 494.4V496.6M1186.6 494.4H1187.2M1186.6 496.6H1189.4M1191.1 497.6V498.0M1191.1 497.6H1197.5M1191.1 498.0H1197.5M1193.5 499.1V499.5M1193.5 499.1H1197.5M1193.5 499.5H1197.5M1192.9 498.6V499.3M1192.9 498.6H1197.5M1192.9 499.3H1193.5M1191.1 498.4V498.9M1191.1 498.4H1197.5M1191.1 498.9H1192.9M1190.5 497.8V498.6M1190.5 497.8H1191.1M1190.5 498.6H1191.1M1189.9 497.1V498.2M1189.9 497.1H1197.5M1189.9 498.2H1190.5M1191.2 499.8V500.2M1191.2 499.8H1197.5M1191.2 500.2H1197.5M1192.4 500.6V501.2M1192.4 500.6H1197.5M1192.4 501.2H1197.5M1193.6 501.9V502.4M1193.6 501.9H1197.5M1193.6 502.4H1197.5M1193.0 502.1V502.6M1193.0 502.1H1193.6M1193.0 502.6H1197.5M1194.8 504.3V504.8M1194.8 504.3H1197.5M1194.8 504.8H1197.5M1194.2 503.6V504.5M1194.2 503.6H1197.5M1194.2 504.5H1194.8M1193.6 504.1V505.3M1193.6 504.1H1194.2M1193.6 505.3H1197.5M1193.0 502.9V504.7M1193.0 502.9H1197.5M1193.0 504.7H1193.6M1192.4 502.4V503.8M1192.4 502.4H1193.0M1192.4 503.8H1193.0M1191.8 500.9V503.1M1191.8 500.9H1192.4M1191.8 503.1H1192.4M1193.6 506.1V506.6M1193.6 506.1H1197.5M1193.6 506.6H1197.5M1193.0 505.7V506.4M1193.0 505.7H1197.5M1193.0 506.4H1193.6M1192.4 506.0V506.9M1192.4 506.0H1193.0M1192.4 506.9H1197.5M1191.2 502.0V506.5M1191.2 502.0H1191.8M1191.2 506.5H1192.4M1190.6 500.0V504.2M1190.6 500.0H1191.2M1190.6 504.2H1191.2M1191.8 508.0V508.5M1191.8 508.0H1197.5M1191.8 508.5H1197.5M1191.2 507.4V508.3M1191.2 507.4H1197.5M1191.2 508.3H1191.8M1191.2 509.0V509.4M1191.2 509.0H1197.5M1191.2 509.4H1197.5M1190.6 507.8V509.2M1190.6 507.8H1191.2M1190.6 509.2H1191.2M1190.0 502.1V508.5M1190.0 502.1H1190.6M1190.0 508.5H1190.6M1189.3 497.7V505.3M1189.3 497.7H1189.9M1189.3 505.3H1190.0M1195.6 511.1V511.6M1195.6 511.1H1197.5M1195.6 511.6H1197.5M1195.0 511.0V511.4M1195.0 511.0H1197.5M1195.0 511.4H1195.6M1194.4 510.7V511.2M1194.4 510.7H1197.5M1194.4 511.2H1195.0M1193.8 510.4V510.9M1193.8 510.4H1197.5M1193.8 510.9H1194.4M1193.2 510.6V512.1M1193.2 510.6H1193.8M1193.2 512.1H1197.5M1192.6 509.9V511.4M1192.6 509.9H1197.5M1192.6 511.4H1193.2M1193.8 512.8V513.3M1193.8 512.8H1197.5M1193.8 513.3H1197.5M1193.2 513.1V513.7M1193.2 513.1H1193.8M1193.2 513.7H1197.5M1192.6 512.5V513.4M1192.6 512.5H1197.5M1192.6 513.4H1193.2M1192.0 510.7V513.0M1192.0 510.7H1192.6M1192.0 513.0H1192.6M1194.7 515.3V515.7M1194.7 515.3H1197.5M1194.7 515.7H1197.5M1194.1 515.5V516.1M1194.1 515.5H1194.7M1194.1 516.1H1197.5M1193.5 514.7V515.8M1193.5 514.7H1197.5M1193.5 515.8H1194.1M1193.5 516.6V517.1M1193.5 516.6H1197.5M1193.5 517.1H1197.5M1192.9 515.3V516.8M1192.9 515.3H1193.5M1192.9 516.8H1193.5M1192.3 516.0V517.5M1192.3 516.0H1192.9M1192.3 517.5H1197.5M1191.7 516.7V518.0M1191.7 516.7H1192.3M1191.7 518.0H1197.5M1193.5 518.8V519.2M1193.5 518.8H1197.5M1193.5 519.2H1197.5M1192.9 519.0V519.5M1192.9 519.0H1193.5M1192.9 519.5H1197.5M1192.3 518.4V519.3M1192.3 518.4H1197.5M1192.3 519.3H1192.9M1191.7 518.8V519.8M1191.7 518.8H1192.3M1191.7 519.8H1197.5M1191.1 517.4V519.3M1191.1 517.4H1191.7M1191.1 519.3H1191.7M1190.5 514.1V518.3M1190.5 514.1H1197.5M1190.5 518.3H1191.1M1188.9 511.8V516.2M1188.9 511.8H1192.0M1188.9 516.2H1190.5M1187.7 501.5V514.0M1187.7 501.5H1189.3M1187.7 514.0H1188.9M1183.6 495.5V507.8M1183.6 495.5H1186.6M1183.6 507.8H1187.7M1192.2 463.4V463.8M1192.2 463.4H1197.5M1192.2 463.8H1197.5M1191.6 463.6V464.1M1191.6 463.6H1192.2M1191.6 464.1H1197.5M1190.8 463.0V463.8M1190.8 463.0H1197.5M1190.8 463.8H1191.6M1190.2 462.7V463.4M1190.2 462.7H1197.5M1190.2 463.4H1190.8M1189.6 462.5V463.1M1189.6 462.5H1197.5M1189.6 463.1H1190.2M1189.0 462.2V462.8M1189.0 462.2H1197.5M1189.0 462.8H1189.6M1191.4 465.7V466.2M1191.4 465.7H1197.5M1191.4 466.2H1197.5M1190.8 465.2V466.0M1190.8 465.2H1197.5M1190.8 466.0H1191.4M1190.2 465.6V466.6M1190.2 465.6H1190.8M1190.2 466.6H1197.5M1189.6 464.7V466.1M1189.6 464.7H1197.5M1189.6 466.1H1190.2M1189.0 464.4V465.4M1189.0 464.4H1197.5M1189.0 465.4H1189.6M1188.4 462.5V464.9M1188.4 462.5H1189.0M1188.4 464.9H1189.0M1187.8 461.5V463.7M1187.8 461.5H1197.5M1187.8 463.7H1188.4M1190.4 467.1V467.5M1190.4 467.1H1197.5M1190.4 467.5H1197.5M1189.3 466.9V467.3M1189.3 466.9H1197.5M1189.3 467.3H1190.4M1192.3 468.9V469.4M1192.3 468.9H1197.5M1192.3 469.4H1197.5M1192.9 470.0V470.5M1192.9 470.0H1197.5M1192.9 470.5H1197.5M1192.3 470.2V470.8M1192.3 470.2H1192.9M1192.3 470.8H1197.5M1191.7 469.1V470.5M1191.7 469.1H1192.3M1191.7 470.5H1192.3M1190.5 468.7V469.8M1190.5 468.7H1197.5M1190.5 469.8H1191.7M1189.9 468.4V469.2M1189.9 468.4H1197.5M1189.9 469.2H1190.5M1189.3 468.0V468.8M1189.3 468.0H1197.5M1189.3 468.8H1189.9M1188.7 467.1V468.4M1188.7 467.1H1189.3M1188.7 468.4H1189.3M1192.7 472.3V472.9M1192.7 472.3H1197.5M1192.7 472.9H1197.5M1192.1 472.6V473.4M1192.1 472.6H1192.7M1192.1 473.4H1197.5M1191.5 471.6V473.0M1191.5 471.6H1197.5M1191.5 473.0H1192.1M1189.9 471.1V472.3M1189.9 471.1H1197.5M1189.9 472.3H1191.5M1189.3 471.7V474.0M1189.3 471.7H1189.9M1189.3 474.0H1197.5M1188.7 472.9V474.6M1188.7 472.9H1189.3M1188.7 474.6H1197.5M1188.1 467.8V473.7M1188.1 467.8H1188.7M1188.1 473.7H1188.7M1194.0 476.4V476.9M1194.0 476.4H1197.5M1194.0 476.9H1197.5M1193.4 475.8V476.6M1193.4 475.8H1197.5M1193.4 476.6H1194.0M1192.8 476.2V477.4M1192.8 476.2H1193.4M1192.8 477.4H1197.5M1193.4 477.7V478.2M1193.4 477.7H1197.5M1193.4 478.2H1197.5M1192.8 477.9V478.6M1192.8 477.9H1193.4M1192.8 478.6H1197.5M1192.2 476.8V478.3M1192.2 476.8H1192.8M1192.2 478.3H1192.8M1191.5 475.3V477.6M1191.5 475.3H1197.5M1191.5 477.6H1192.2M1192.7 479.9V480.4M1192.7 479.9H1197.5M1192.7 480.4H1197.5M1192.1 480.2V480.9M1192.1 480.2H1192.7M1192.1 480.9H1197.5M1191.5 479.1V480.5M1191.5 479.1H1197.5M1191.5 480.5H1192.1M1190.9 476.5V479.8M1190.9 476.5H1191.5M1190.9 479.8H1191.5M1187.5 470.8V478.1M1187.5 470.8H1188.1M1187.5 478.1H1190.9M1186.2 462.6V474.4M1186.2 462.6H1187.8M1186.2 474.4H1187.5M1192.3 481.5V482.1M1192.3 481.5H1197.5M1192.3 482.1H1197.5M1191.7 481.8V482.7M1191.7 481.8H1192.3M1191.7 482.7H1197.5M1192.9 483.3V483.7M1192.9 483.3H1197.5M1192.9 483.7H1197.5M1192.9 484.0V484.4M1192.9 484.0H1197.5M1192.9 484.4H1197.5M1192.3 483.5V484.2M1192.3 483.5H1192.9M1192.3 484.2H1192.9M1192.3 485.0V485.5M1192.3 485.0H1197.5M1192.3 485.5H1197.5M1191.7 483.9V485.2M1191.7 483.9H1192.3M1191.7 485.2H1192.3M1191.1 482.2V484.5M1191.1 482.2H1191.7M1191.1 484.5H1191.7M1190.1 486.1V486.7M1190.1 486.1H1197.5M1190.1 486.7H1197.5M1189.5 483.4V486.4M1189.5 483.4H1191.1M1189.5 486.4H1190.1M1193.5 488.0V488.6M1193.5 488.0H1197.5M1193.5 488.6H1197.5M1192.9 487.6V488.3M1192.9 487.6H1197.5M1192.9 488.3H1193.5M1192.9 489.1V489.6M1192.9 489.1H1197.5M1192.9 489.6H1197.5M1192.3 488.0V489.3M1192.3 488.0H1192.9M1192.3 489.3H1192.9M1192.1 490.2V490.6M1192.1 490.2H1197.5M1192.1 490.6H1197.5M1191.5 489.9V490.4M1191.5 489.9H1197.5M1191.5 490.4H1192.1M1190.9 488.7V490.1M1190.9 488.7H1192.3M1190.9 490.1H1191.5M1190.3 487.3V489.4M1190.3 487.3H1197.5M1190.3 489.4H1190.9M1187.8 484.9V488.4M1187.8 484.9H1189.5M1187.8 488.4H1190.3M1185.0 468.5V486.6M1185.0 468.5H1186.2M1185.0 486.6H1187.8M1187.5 491.4V491.9M1187.5 491.4H1197.5M1187.5 491.9H1197.5M1186.8 491.2V491.6M1186.8 491.2H1197.5M1186.8 491.6H1187.5M1186.2 491.0V491.4M1186.2 491.0H1197.5M1186.2 491.4H1186.8M1185.6 491.2V492.5M1185.6 491.2H1186.2M1185.6 492.5H1197.5M1185.6 493.1V493.5M1185.6 493.1H1197.5M1185.6 493.5H1197.5M1185.0 491.8V493.3M1185.0 491.8H1185.6M1185.0 493.3H1185.6M1184.4 477.6V492.6M1184.4 477.6H1185.0M1184.4 492.6H1185.0M1187.5 444.0V444.5M1187.5 444.0H1197.5M1187.5 444.5H1197.5M1186.9 443.7V444.3M1186.9 443.7H1197.5M1186.9 444.3H1187.5M1185.7 443.4V444.0M1185.7 443.4H1197.5M1185.7 444.0H1186.9M1187.5 445.7V446.1M1187.5 445.7H1197.5M1187.5 446.1H1197.5M1186.9 445.0V445.9M1186.9 445.0H1197.5M1186.9 445.9H1187.5M1191.6 447.2V447.7M1191.6 447.2H1197.5M1191.6 447.7H1197.5M1189.6 446.9V447.4M1189.6 446.9H1197.5M1189.6 447.4H1191.6M1189.0 447.2V448.4M1189.0 447.2H1189.6M1189.0 448.4H1197.5M1186.9 446.4V447.8M1186.9 446.4H1197.5M1186.9 447.8H1189.0M1186.3 445.5V447.1M1186.3 445.5H1186.9M1186.3 447.1H1186.9M1192.6 449.1V449.5M1192.6 449.1H1197.5M1192.6 449.5H1197.5M1192.0 448.9V449.3M1192.0 448.9H1197.5M1192.0 449.3H1192.6M1191.4 449.1V450.0M1191.4 449.1H1192.0M1191.4 450.0H1197.5M1193.2 450.4V450.9M1193.2 450.4H1197.5M1193.2 450.9H1197.5M1192.6 450.2V450.7M1192.6 450.2H1197.5M1192.6 450.7H1193.2M1192.0 450.4V451.4M1192.0 450.4H1192.6M1192.0 451.4H1197.5M1193.2 451.8V452.2M1193.2 451.8H1197.5M1193.2 452.2H1197.5M1192.6 452.0V452.6M1192.6 452.0H1193.2M1192.6 452.6H1197.5M1192.0 451.6V452.3M1192.0 451.6H1197.5M1192.0 452.3H1192.6M1191.4 450.9V451.9M1191.4 450.9H1192.0M1191.4 451.9H1192.0M1190.8 449.6V451.4M1190.8 449.6H1191.4M1190.8 451.4H1191.4M1192.0 453.1V453.7M1192.0 453.1H1197.5M1192.0 453.7H1197.5M1190.8 453.4V454.1M1190.8 453.4H1192.0M1190.8 454.1H1197.5M1190.2 450.5V453.7M1190.2 450.5H1190.8M1190.2 453.7H1190.8M1189.6 452.1V454.7M1189.6 452.1H1190.2M1189.6 454.7H1197.5M1195.0 456.9V457.3M1195.0 456.9H1197.5M1195.0 457.3H1197.5M1194.4 457.1V457.7M1194.4 457.1H1195.0M1194.4 457.7H1197.5M1193.8 456.4V457.4M1193.8 456.4H1197.5M1193.8 457.4H1194.4M1193.2 455.9V456.9M1193.2 455.9H1197.5M1193.2 456.9H1193.8M1192.6 455.4V456.4M1192.6 455.4H1197.5M1192.6 456.4H1193.2M1195.0 458.9V459.5M1195.0 458.9H1197.5M1195.0 459.5H1197.5M1194.4 458.5V459.2M1194.4 458.5H1197.5M1194.4 459.2H1195.0M1193.8 458.9V460.0M1193.8 458.9H1194.4M1193.8 460.0H1197.5M1193.2 458.1V459.4M1193.2 458.1H1197.5M1193.2 459.4H1193.8M1193.2 460.3V460.8M1193.2 460.3H1197.5M1193.2 460.8H1197.5M1192.6 458.8V460.5M1192.6 458.8H1193.2M1192.6 460.5H1193.2M1192.0 455.9V459.7M1192.0 455.9H1192.6M1192.0 459.7H1192.6M1189.0 453.4V457.8M1189.0 453.4H1189.6M1189.0 457.8H1192.0M1185.7 446.3V455.6M1185.7 446.3H1186.3M1185.7 455.6H1189.0M1185.1 443.7V450.9M1185.1 443.7H1185.7M1185.1 450.9H1185.7M1192.1 409.2V409.6M1192.1 409.2H1197.5M1192.1 409.6H1197.5M1191.5 408.7V409.4M1191.5 408.7H1197.5M1191.5 409.4H1192.1M1190.9 408.4V409.1M1190.9 408.4H1197.5M1190.9 409.1H1191.5M1191.7 409.8V410.3M1191.7 409.8H1197.5M1191.7 410.3H1197.5M1190.4 410.1V410.7M1190.4 410.1H1191.7M1190.4 410.7H1197.5M1189.8 408.7V410.4M1189.8 408.7H1190.9M1189.8 410.4H1190.4M1190.4 410.8V411.3M1190.4 410.8H1197.5M1190.4 411.3H1197.5M1189.8 411.1V411.9M1189.8 411.1H1190.4M1189.8 411.9H1197.5M1189.2 409.5V411.5M1189.2 409.5H1189.8M1189.2 411.5H1189.8M1192.6 413.2V413.7M1192.6 413.2H1197.5M1192.6 413.7H1197.5M1192.0 412.8V413.4M1192.0 412.8H1197.5M1192.0 413.4H1192.6M1191.4 412.5V413.1M1191.4 412.5H1197.5M1191.4 413.1H1192.0M1191.6 414.0V414.5M1191.6 414.0H1197.5M1191.6 414.5H1197.5M1194.6 415.9V416.4M1194.6 415.9H1197.5M1194.6 416.4H1197.5M1194.0 415.2V416.2M1194.0 415.2H1197.5M1194.0 416.2H1194.6M1193.4 415.7V416.8M1193.4 415.7H1194.0M1193.4 416.8H1197.5M1194.6 417.3V417.8M1194.6 417.3H1197.5M1194.6 417.8H1197.5M1194.0 417.6V418.3M1194.0 417.6H1194.6M1194.0 418.3H1197.5M1194.0 418.9V419.4M1194.0 418.9H1197.5M1194.0 419.4H1197.5M1193.4 417.9V419.1M1193.4 417.9H1194.0M1193.4 419.1H1194.0M1192.8 416.2V418.5M1192.8 416.2H1193.4M1192.8 418.5H1193.4M1194.0 419.8V420.3M1194.0 419.8H1197.5M1194.0 420.3H1197.5M1193.4 420.1V420.8M1193.4 420.1H1194.0M1193.4 420.8H1197.5M1192.8 420.4V421.1M1192.8 420.4H1193.4M1192.8 421.1H1197.5M1192.2 417.4V420.7M1192.2 417.4H1192.8M1192.2 420.7H1192.8M1194.6 422.1V422.6M1194.6 422.1H1197.5M1194.6 422.6H1197.5M1194.6 423.0V423.6M1194.6 423.0H1197.5M1194.6 423.6H1197.5M1194.0 422.3V423.3M1194.0 422.3H1194.6M1194.0 423.3H1194.6M1193.4 422.8V424.2M1193.4 422.8H1194.0M1193.4 424.2H1197.5M1192.8 421.4V423.5M1192.8 421.4H1197.5M1192.8 423.5H1193.4M1192.8 424.6V425.1M1192.8 424.6H1197.5M1192.8 425.1H1197.5M1192.2 422.5V424.9M1192.2 422.5H1192.8M1192.2 424.9H1192.8M1191.6 419.1V423.7M1191.6 419.1H1192.2M1191.6 423.7H1192.2M1191.0 414.3V421.4M1191.0 414.3H1191.6M1191.0 421.4H1191.6M1193.7 425.7V426.2M1193.7 425.7H1197.5M1193.7 426.2H1197.5M1193.1 426.0V426.6M1193.1 426.0H1193.7M1193.1 426.6H1197.5M1192.8 426.9V427.3M1192.8 426.9H1197.5M1192.8 427.3H1197.5M1192.2 427.1V427.8M1192.2 427.1H1192.8M1192.2 427.8H1197.5M1191.6 426.3V427.5M1191.6 426.3H1193.1M1191.6 427.5H1192.2M1191.0 426.9V428.3M1191.0 426.9H1191.6M1191.0 428.3H1197.5M1190.4 417.8V427.6M1190.4 417.8H1191.0M1190.4 427.6H1191.0M1191.6 428.8V429.2M1191.6 428.8H1197.5M1191.6 429.2H1197.5M1191.0 429.0V429.5M1191.0 429.0H1191.6M1191.0 429.5H1197.5M1190.4 429.2V429.8M1190.4 429.2H1191.0M1190.4 429.8H1197.5M1189.8 422.7V429.5M1189.8 422.7H1190.4M1189.8 429.5H1190.4M1189.2 412.8V426.1M1189.2 412.8H1191.4M1189.2 426.1H1189.8M1188.6 410.5V419.4M1188.6 410.5H1189.2M1188.6 419.4H1189.2M1192.9 430.3V430.9M1192.9 430.3H1197.5M1192.9 430.9H1197.5M1190.3 431.5V431.9M1190.3 431.5H1197.5M1190.3 431.9H1197.5M1192.5 433.0V433.5M1192.5 433.0H1197.5M1192.5 433.5H1197.5M1191.9 433.2V433.7M1191.9 433.2H1192.5M1191.9 433.7H1197.5M1191.3 432.5V433.5M1191.3 432.5H1197.5M1191.3 433.5H1191.9M1193.2 435.1V435.5M1193.2 435.1H1197.5M1193.2 435.5H1197.5M1192.6 434.7V435.3M1192.6 434.7H1197.5M1192.6 435.3H1193.2M1192.0 434.5V435.0M1192.0 434.5H1197.5M1192.0 435.0H1192.6M1191.3 434.0V434.7M1191.3 434.0H1197.5M1191.3 434.7H1192.0M1190.7 433.0V434.4M1190.7 433.0H1191.3M1190.7 434.4H1191.3M1190.1 433.7V436.0M1190.1 433.7H1190.7M1190.1 436.0H1197.5M1189.5 431.7V434.8M1189.5 431.7H1190.3M1189.5 434.8H1190.1M1188.4 430.6V433.3M1188.4 430.6H1192.9M1188.4 433.3H1189.5M1188.4 436.7V437.3M1188.4 436.7H1197.5M1188.4 437.3H1197.5M1187.8 431.9V437.0M1187.8 431.9H1188.4M1187.8 437.0H1188.4M1192.4 437.8V438.3M1192.4 437.8H1197.5M1192.4 438.3H1197.5M1190.3 439.0V439.7M1190.3 439.0H1197.5M1190.3 439.7H1197.5M1188.3 438.0V439.4M1188.3 438.0H1192.4M1188.3 439.4H1190.3M1187.7 438.7V440.4M1187.7 438.7H1188.3M1187.7 440.4H1197.5M1187.1 434.5V439.5M1187.1 434.5H1187.8M1187.1 439.5H1187.7M1191.1 441.0V441.6M1191.1 441.0H1197.5M1191.1 441.6H1197.5M1190.5 441.3V442.0M1190.5 441.3H1191.1M1190.5 442.0H1197.5M1189.9 441.6V442.1M1189.9 441.6H1190.5M1189.9 442.1H1197.5M1189.3 440.7V441.9M1189.3 440.7H1197.5M1189.3 441.9H1189.9M1188.7 441.3V442.5M1188.7 441.3H1189.3M1188.7 442.5H1197.5M1186.8 441.9V443.0M1186.8 441.9H1188.7M1186.8 443.0H1197.5M1186.2 437.0V442.5M1186.2 437.0H1187.1M1186.2 442.5H1186.8M1185.6 415.0V439.7M1185.6 415.0H1188.6M1185.6 439.7H1186.2M1194.0 368.1V368.5M1194.0 368.1H1197.5M1194.0 368.5H1197.5M1193.4 368.3V369.1M1193.4 368.3H1194.0M1193.4 369.1H1197.5M1193.7 369.5V370.0M1193.7 369.5H1197.5M1193.7 370.0H1197.5M1193.1 369.8V370.3M1193.1 369.8H1193.7M1193.1 370.3H1197.5M1192.5 370.0V370.5M1192.5 370.0H1193.1M1192.5 370.5H1197.5M1193.1 371.1V371.6M1193.1 371.1H1197.5M1193.1 371.6H1197.5M1194.3 372.5V373.1M1194.3 372.5H1197.5M1194.3 373.1H1197.5M1194.3 373.7V374.2M1194.3 373.7H1197.5M1194.3 374.2H1197.5M1193.7 372.8V374.0M1193.7 372.8H1194.3M1193.7 374.0H1194.3M1193.1 371.9V373.4M1193.1 371.9H1197.5M1193.1 373.4H1193.7M1192.5 371.4V372.7M1192.5 371.4H1193.1M1192.5 372.7H1193.1M1191.9 370.3V372.0M1191.9 370.3H1192.5M1191.9 372.0H1192.5M1192.5 375.1V375.5M1192.5 375.1H1197.5M1192.5 375.5H1197.5M1191.9 374.6V375.3M1191.9 374.6H1197.5M1191.9 375.3H1192.5M1191.3 371.2V374.9M1191.3 371.2H1191.9M1191.3 374.9H1191.9M1190.7 368.7V373.0M1190.7 368.7H1193.4M1190.7 373.0H1191.3M1193.1 376.5V376.9M1193.1 376.5H1197.5M1193.1 376.9H1197.5M1192.5 376.7V377.1M1192.5 376.7H1193.1M1192.5 377.1H1197.5M1191.9 376.9V377.7M1191.9 376.9H1192.5M1191.9 377.7H1197.5M1191.3 375.9V377.3M1191.3 375.9H1197.5M1191.3 377.3H1191.9M1191.9 378.3V378.7M1191.9 378.3H1197.5M1191.9 378.7H1197.5M1191.3 378.5V379.2M1191.3 378.5H1191.9M1191.3 379.2H1197.5M1190.7 376.6V378.8M1190.7 376.6H1191.3M1190.7 378.8H1191.3M1190.1 370.9V377.7M1190.1 370.9H1190.7M1190.1 377.7H1190.7M1192.5 381.4V381.8M1192.5 381.4H1197.5M1192.5 381.8H1197.5M1191.9 381.2V381.6M1191.9 381.2H1197.5M1191.9 381.6H1192.5M1191.3 381.0V381.4M1191.3 381.0H1197.5M1191.3 381.4H1191.9M1190.0 380.5V381.2M1190.0 380.5H1197.5M1190.0 381.2H1191.3M1189.4 379.7V380.9M1189.4 379.7H1197.5M1189.4 380.9H1190.0M1188.8 374.3V380.3M1188.8 374.3H1190.1M1188.8 380.3H1189.4M1192.4 383.1V383.7M1192.4 383.1H1197.5M1192.4 383.7H1197.5M1191.8 383.4V384.3M1191.8 383.4H1192.4M1191.8 384.3H1197.5M1191.2 382.6V383.9M1191.2 382.6H1197.5M1191.2 383.9H1191.8M1190.6 382.3V383.3M1190.6 382.3H1197.5M1190.6 383.3H1191.2M1193.0 385.0V385.4M1193.0 385.0H1197.5M1193.0 385.4H1197.5M1193.0 386.0V386.5M1193.0 386.0H1197.5M1193.0 386.5H1197.5M1192.4 385.2V386.2M1192.4 385.2H1193.0M1192.4 386.2H1193.0M1191.8 384.6V385.7M1191.8 384.6H1197.5M1191.8 385.7H1192.4M1191.2 385.2V387.1M1191.2 385.2H1191.8M1191.2 387.1H1197.5M1193.1 388.5V389.1M1193.1 388.5H1197.5M1193.1 389.1H1197.5M1194.9 390.3V390.9M1194.9 390.3H1197.5M1194.9 390.9H1197.5M1194.3 390.6V391.3M1194.3 390.6H1194.9M1194.3 391.3H1197.5M1193.7 389.7V391.0M1193.7 389.7H1197.5M1193.7 391.0H1194.3M1193.1 390.3V391.6M1193.1 390.3H1193.7M1193.1 391.6H1197.5M1192.5 388.8V391.0M1192.5 388.8H1193.1M1192.5 391.0H1193.1M1191.2 387.8V389.9M1191.2 387.8H1197.5M1191.2 389.9H1192.5M1190.6 386.1V388.8M1190.6 386.1H1191.2M1190.6 388.8H1191.2M1190.0 382.8V387.5M1190.0 382.8H1190.6M1190.0 387.5H1190.6M1192.1 392.7V393.3M1192.1 392.7H1197.5M1192.1 393.3H1197.5M1191.5 392.4V393.0M1191.5 392.4H1197.5M1191.5 393.0H1192.1M1190.9 392.2V392.7M1190.9 392.2H1197.5M1190.9 392.7H1191.5M1190.0 392.0V392.4M1190.0 392.0H1197.5M1190.0 392.4H1190.9M1189.4 385.1V392.2M1189.4 385.1H1190.0M1189.4 392.2H1190.0M1190.6 394.1V394.6M1190.6 394.1H1197.5M1190.6 394.6H1197.5M1190.0 393.8V394.4M1190.0 393.8H1197.5M1190.0 394.4H1190.6M1192.6 395.6V396.0M1192.6 395.6H1197.5M1192.6 396.0H1197.5M1191.3 395.1V395.8M1191.3 395.1H1197.5M1191.3 395.8H1192.6M1190.6 396.7V397.4M1190.6 396.7H1197.5M1190.6 397.4H1197.5M1190.0 395.5V397.0M1190.0 395.5H1191.3M1190.0 397.0H1190.6M1189.4 394.1V396.3M1189.4 394.1H1190.0M1189.4 396.3H1190.0M1188.8 388.7V395.2M1188.8 388.7H1189.4M1188.8 395.2H1189.4M1188.2 377.3V391.9M1188.2 377.3H1188.8M1188.2 391.9H1188.8M1189.4 398.1V398.6M1189.4 398.1H1197.5M1189.4 398.6H1197.5M1194.3 399.4V399.8M1194.3 399.4H1197.5M1194.3 399.8H1197.5M1193.7 399.1V399.6M1193.7 399.1H1197.5M1193.7 399.6H1194.3M1193.7 400.4V400.9M1193.7 400.4H1197.5M1193.7 400.9H1197.5M1193.1 399.3V400.6M1193.1 399.3H1193.7M1193.1 400.6H1193.7M1192.5 400.0V401.3M1192.5 400.0H1193.1M1192.5 401.3H1197.5M1191.9 398.8V400.7M1191.9 398.8H1197.5M1191.9 400.7H1192.5M1193.1 402.4V402.8M1193.1 402.4H1197.5M1193.1 402.8H1197.5M1194.9 404.1V404.7M1194.9 404.1H1197.5M1194.9 404.7H1197.5M1194.3 403.6V404.4M1194.3 403.6H1197.5M1194.3 404.4H1194.9M1194.3 405.3V405.9M1194.3 405.3H1197.5M1194.3 405.9H1197.5M1193.7 404.0V405.6M1193.7 404.0H1194.3M1193.7 405.6H1194.3M1193.1 403.2V404.8M1193.1 403.2H1197.5M1193.1 404.8H1193.7M1192.5 402.6V404.0M1192.5 402.6H1193.1M1192.5 404.0H1193.1M1191.9 401.8V403.3M1191.9 401.8H1197.5M1191.9 403.3H1192.5M1191.3 399.7V402.6M1191.3 399.7H1191.9M1191.3 402.6H1191.9M1193.3 407.4V407.8M1193.3 407.4H1197.5M1193.3 407.8H1197.5M1192.7 407.1V407.6M1192.7 407.1H1197.5M1192.7 407.6H1193.3M1192.1 406.5V407.3M1192.1 406.5H1197.5M1192.1 407.3H1192.7M1190.7 401.2V406.9M1190.7 401.2H1191.3M1190.7 406.9H1192.1M1188.8 398.3V404.0M1188.8 398.3H1189.4M1188.8 404.0H1190.7M1186.1 384.6V401.2M1186.1 384.6H1188.2M1186.1 401.2H1188.8M1191.7 350.2V350.6M1191.7 350.2H1197.5M1191.7 350.6H1197.5M1191.1 349.7V350.4M1191.1 349.7H1197.5M1191.1 350.4H1191.7M1190.5 349.0V350.0M1190.5 349.0H1197.5M1190.5 350.0H1191.1M1193.1 351.1V351.7M1193.1 351.1H1197.5M1193.1 351.7H1197.5M1193.2 352.2V352.7M1193.2 352.2H1197.5M1193.2 352.7H1197.5M1192.5 351.4V352.4M1192.5 351.4H1193.1M1192.5 352.4H1193.2M1191.9 351.9V353.2M1191.9 351.9H1192.5M1191.9 353.2H1197.5M1193.7 354.0V354.5M1193.7 354.0H1197.5M1193.7 354.5H1197.5M1193.1 353.6V354.2M1193.1 353.6H1197.5M1193.1 354.2H1193.7M1192.5 353.5V353.9M1192.5 353.5H1197.5M1192.5 353.9H1193.1M1192.5 354.8V355.2M1192.5 354.8H1197.5M1192.5 355.2H1197.5M1191.9 353.7V355.0M1191.9 353.7H1192.5M1191.9 355.0H1192.5M1191.3 352.5V354.4M1191.3 352.5H1191.9M1191.3 354.4H1191.9M1189.9 349.5V353.4M1189.9 349.5H1190.5M1189.9 353.4H1191.3M1193.1 357.2V357.7M1193.1 357.2H1197.5M1193.1 357.7H1197.5M1193.1 358.3V359.0M1193.1 358.3H1197.5M1193.1 359.0H1197.5M1192.5 357.5V358.7M1192.5 357.5H1193.1M1192.5 358.7H1193.1M1191.9 356.8V358.1M1191.9 356.8H1197.5M1191.9 358.1H1192.5M1191.3 356.2V357.4M1191.3 356.2H1197.5M1191.3 357.4H1191.9M1190.7 355.7V356.8M1190.7 355.7H1197.5M1190.7 356.8H1191.3M1187.7 351.5V356.2M1187.7 351.5H1189.9M1187.7 356.2H1190.7M1191.3 360.8V361.3M1191.3 360.8H1197.5M1191.3 361.3H1197.5M1190.7 360.2V361.1M1190.7 360.2H1197.5M1190.7 361.1H1191.3M1190.1 360.7V361.7M1190.1 360.7H1190.7M1190.1 361.7H1197.5M1189.5 359.8V361.2M1189.5 359.8H1197.5M1189.5 361.2H1190.1M1193.2 362.3V362.8M1193.2 362.3H1197.5M1193.2 362.8H1197.5M1192.6 362.0V362.6M1192.6 362.0H1197.5M1192.6 362.6H1193.2M1188.9 360.5V362.3M1188.9 360.5H1189.5M1188.9 362.3H1192.6M1187.8 359.5V361.4M1187.8 359.5H1197.5M1187.8 361.4H1188.9M1193.0 364.4V364.8M1193.0 364.4H1197.5M1193.0 364.8H1197.5M1192.4 364.6V365.3M1192.4 364.6H1193.0M1192.4 365.3H1197.5M1191.8 365.0V365.6M1191.8 365.0H1192.4M1191.8 365.6H1197.5M1191.2 363.9V365.3M1191.2 363.9H1197.5M1191.2 365.3H1191.8M1188.6 363.4V364.6M1188.6 363.4H1197.5M1188.6 364.6H1191.2M1192.4 366.3V366.8M1192.4 366.3H1197.5M1192.4 366.8H1197.5M1191.8 366.2V366.5M1191.8 366.2H1197.5M1191.8 366.5H1192.4M1191.2 366.0V366.4M1191.2 366.0H1197.5M1191.2 366.4H1191.8M1190.6 366.2V367.4M1190.6 366.2H1191.2M1190.6 367.4H1197.5M1190.0 366.8V367.8M1190.0 366.8H1190.6M1190.0 367.8H1197.5M1188.4 365.8V367.3M1188.4 365.8H1197.5M1188.4 367.3H1190.0M1187.8 364.0V366.5M1187.8 364.0H1188.6M1187.8 366.5H1188.4M1187.2 360.5V365.3M1187.2 360.5H1187.8M1187.2 365.3H1187.8M1186.6 353.9V362.9M1186.6 353.9H1187.7M1186.6 362.9H1187.2M1188.9 318.4V318.9M1188.9 318.4H1197.5M1188.9 318.9H1197.5M1192.0 319.4V319.9M1192.0 319.4H1197.5M1192.0 319.9H1197.5M1191.4 319.6V320.5M1191.4 319.6H1192.0M1191.4 320.5H1197.5M1190.0 319.2V320.1M1190.0 319.2H1197.5M1190.0 320.1H1191.4M1188.3 318.6V319.6M1188.3 318.6H1188.9M1188.3 319.6H1190.0M1190.3 321.2V321.6M1190.3 321.2H1197.5M1190.3 321.6H1197.5M1189.7 320.8V321.4M1189.7 320.8H1197.5M1189.7 321.4H1190.3M1194.7 322.7V323.3M1194.7 322.7H1197.5M1194.7 323.3H1197.5M1194.1 323.0V323.6M1194.1 323.0H1194.7M1194.1 323.6H1197.5M1193.5 323.3V323.8M1193.5 323.3H1194.1M1193.5 323.8H1197.5M1192.7 322.1V323.6M1192.7 322.1H1197.5M1192.7 323.6H1193.5M1192.1 322.8V324.1M1192.1 322.8H1192.7M1192.1 324.1H1197.5M1192.1 324.6V325.2M1192.1 324.6H1197.5M1192.1 325.2H1197.5M1191.5 323.5V324.9M1191.5 323.5H1192.1M1191.5 324.9H1192.1M1190.9 324.2V325.8M1190.9 324.2H1191.5M1190.9 325.8H1197.5M1192.6 326.2V326.6M1192.6 326.2H1197.5M1192.6 326.6H1197.5M1190.9 326.4V327.2M1190.9 326.4H1192.6M1190.9 327.2H1197.5M1190.3 325.0V326.8M1190.3 325.0H1190.9M1190.3 326.8H1190.9M1192.0 328.2V328.6M1192.0 328.2H1197.5M1192.0 328.6H1197.5M1191.4 327.7V328.4M1191.4 327.7H1197.5M1191.4 328.4H1192.0M1190.8 328.0V328.9M1190.8 328.0H1191.4M1190.8 328.9H1197.5M1189.7 325.9V328.5M1189.7 325.9H1190.3M1189.7 328.5H1190.8M1189.1 321.1V327.2M1189.1 321.1H1189.7M1189.1 327.2H1189.7M1187.7 319.1V324.1M1187.7 319.1H1188.3M1187.7 324.1H1189.1M1192.2 329.1V329.5M1192.2 329.1H1197.5M1192.2 329.5H1197.5M1194.0 330.8V331.3M1194.0 330.8H1197.5M1194.0 331.3H1197.5M1193.4 330.3V331.1M1193.4 330.3H1197.5M1193.4 331.1H1194.0M1194.6 332.0V332.4M1194.6 332.0H1197.5M1194.6 332.4H1197.5M1194.0 331.8V332.2M1194.0 331.8H1197.5M1194.0 332.2H1194.6M1197.0 333.4V333.9M1197.0 333.4H1197.5M1197.0 333.9H1197.5M1196.4 333.2V333.6M1196.4 333.2H1197.5M1196.4 333.6H1197.0M1195.8 332.9V333.4M1195.8 332.9H1197.5M1195.8 333.4H1196.4M1195.2 333.1V334.5M1195.2 333.1H1195.8M1195.2 334.5H1197.5M1194.6 333.8V335.2M1194.6 333.8H1195.2M1194.6 335.2H1197.5M1194.0 334.5V335.6M1194.0 334.5H1194.6M1194.0 335.6H1197.5M1193.4 332.0V335.1M1193.4 332.0H1194.0M1193.4 335.1H1194.0M1192.8 330.7V333.5M1192.8 330.7H1193.4M1192.8 333.5H1193.4M1192.2 332.1V336.0M1192.2 332.1H1192.8M1192.2 336.0H1197.5M1191.6 329.3V334.1M1191.6 329.3H1192.2M1191.6 334.1H1192.2M1194.5 337.3V337.7M1194.5 337.3H1197.5M1194.5 337.7H1197.5M1193.9 336.9V337.5M1193.9 336.9H1197.5M1193.9 337.5H1194.5M1193.3 336.7V337.2M1193.3 336.7H1197.5M1193.3 337.2H1193.9M1192.7 336.5V337.0M1192.7 336.5H1197.5M1192.7 337.0H1193.3M1196.3 339.6V340.0M1196.3 339.6H1197.5M1196.3 340.0H1197.5M1195.7 339.2V339.8M1195.7 339.2H1197.5M1195.7 339.8H1196.3M1195.1 339.5V340.2M1195.1 339.5H1195.7M1195.1 340.2H1197.5M1194.5 338.8V339.9M1194.5 338.8H1197.5M1194.5 339.9H1195.1M1193.9 338.4V339.4M1193.9 338.4H1197.5M1193.9 339.4H1194.5M1193.3 338.1V338.9M1193.3 338.1H1197.5M1193.3 338.9H1193.9M1193.3 340.4V340.9M1193.3 340.4H1197.5M1193.3 340.9H1197.5M1192.7 338.5V340.7M1192.7 338.5H1193.3M1192.7 340.7H1193.3M1192.1 336.7V339.6M1192.1 336.7H1192.7M1192.1 339.6H1192.7M1191.0 331.7V338.1M1191.0 331.7H1191.6M1191.0 338.1H1192.1M1193.9 341.8V342.3M1193.9 341.8H1197.5M1193.9 342.3H1197.5M1193.3 341.4V342.0M1193.3 341.4H1197.5M1193.3 342.0H1193.9M1193.9 343.0V343.5M1193.9 343.0H1197.5M1193.9 343.5H1197.5M1194.5 344.3V344.7M1194.5 344.3H1197.5M1194.5 344.7H1197.5M1193.9 343.8V344.5M1193.9 343.8H1197.5M1193.9 344.5H1194.5M1193.3 343.2V344.1M1193.3 343.2H1193.9M1193.3 344.1H1193.9M1192.7 341.7V343.7M1192.7 341.7H1193.3M1192.7 343.7H1193.3M1192.8 345.1V345.5M1192.8 345.1H1197.5M1192.8 345.5H1197.5M1192.1 342.7V345.3M1192.1 342.7H1192.7M1192.1 345.3H1192.8M1193.3 346.3V346.9M1193.3 346.3H1197.5M1193.3 346.9H1197.5M1192.7 346.6V347.4M1192.7 346.6H1193.3M1192.7 347.4H1197.5M1192.1 345.8V347.0M1192.1 345.8H1197.5M1192.1 347.0H1192.7M1191.5 344.0V346.4M1191.5 344.0H1192.1M1191.5 346.4H1192.1M1191.5 347.8V348.4M1191.5 347.8H1197.5M1191.5 348.4H1197.5M1190.9 345.2V348.1M1190.9 345.2H1191.5M1190.9 348.1H1191.5M1188.3 334.9V346.6M1188.3 334.9H1191.0M1188.3 346.6H1190.9M1187.1 321.6V340.8M1187.1 321.6H1187.7M1187.1 340.8H1188.3M1194.2 300.7V301.2M1194.2 300.7H1197.5M1194.2 301.2H1197.5M1193.6 300.9V301.7M1193.6 300.9H1194.2M1193.6 301.7H1197.5M1193.0 300.3V301.3M1193.0 300.3H1197.5M1193.0 301.3H1193.6M1193.0 302.2V302.8M1193.0 302.2H1197.5M1193.0 302.8H1197.5M1192.4 300.8V302.5M1192.4 300.8H1193.0M1192.4 302.5H1193.0M1192.4 303.2V303.7M1192.4 303.2H1197.5M1192.4 303.7H1197.5M1191.8 301.6V303.4M1191.8 301.6H1192.4M1191.8 303.4H1192.4M1192.0 305.0V305.6M1192.0 305.0H1197.5M1192.0 305.6H1197.5M1191.4 304.7V305.3M1191.4 304.7H1197.5M1191.4 305.3H1192.0M1190.8 304.3V305.0M1190.8 304.3H1197.5M1190.8 305.0H1191.4M1190.1 304.7V306.3M1190.1 304.7H1190.8M1190.1 306.3H1197.5M1189.5 302.5V305.5M1189.5 302.5H1191.8M1189.5 305.5H1190.1M1194.3 306.8V307.2M1194.3 306.8H1197.5M1194.3 307.2H1197.5M1193.7 306.6V307.0M1193.7 306.6H1197.5M1193.7 307.0H1194.3M1193.1 306.8V307.6M1193.1 306.8H1193.7M1193.1 307.6H1197.5M1192.3 307.2V307.8M1192.3 307.2H1193.1M1192.3 307.8H1197.5M1191.5 307.5V308.1M1191.5 307.5H1192.3M1191.5 308.1H1197.5M1190.9 307.8V308.7M1190.9 307.8H1191.5M1190.9 308.7H1197.5M1191.5 309.2V309.7M1191.5 309.2H1197.5M1191.5 309.7H1197.5M1194.5 310.6V311.0M1194.5 310.6H1197.5M1194.5 311.0H1197.5M1193.9 310.8V311.2M1193.9 310.8H1194.5M1193.9 311.2H1197.5M1193.3 311.0V311.4M1193.3 311.0H1193.9M1193.3 311.4H1197.5M1192.7 311.2V311.8M1192.7 311.2H1193.3M1192.7 311.8H1197.5M1192.1 310.1V311.5M1192.1 310.1H1197.5M1192.1 311.5H1192.7M1191.5 310.8V312.2M1191.5 310.8H1192.1M1191.5 312.2H1197.5M1190.9 309.5V311.5M1190.9 309.5H1191.5M1190.9 311.5H1191.5M1190.3 308.2V310.5M1190.3 308.2H1190.9M1190.3 310.5H1190.9M1188.2 304.0V309.4M1188.2 304.0H1189.5M1188.2 309.4H1190.3M1195.1 313.6V314.1M1195.1 313.6H1197.5M1195.1 314.1H1197.5M1194.5 313.9V314.7M1194.5 313.9H1195.1M1194.5 314.7H1197.5M1193.9 313.4V314.3M1193.9 313.4H1197.5M1193.9 314.3H1194.5M1193.3 313.2V313.8M1193.3 313.2H1197.5M1193.3 313.8H1193.9M1193.1 315.3V315.9M1193.1 315.3H1197.5M1193.1 315.9H1197.5M1192.5 315.6V316.5M1192.5 315.6H1193.1M1192.5 316.5H1197.5M1192.5 317.2V317.6M1192.5 317.2H1197.5M1192.5 317.6H1197.5M1191.9 316.0V317.4M1191.9 316.0H1192.5M1191.9 317.4H1192.5M1191.3 313.5V316.7M1191.3 313.5H1193.3M1191.3 316.7H1191.9M1190.7 315.1V317.9M1190.7 315.1H1191.3M1190.7 317.9H1197.5M1188.8 312.8V316.5M1188.8 312.8H1197.5M1188.8 316.5H1190.7M1187.6 306.7V314.7M1187.6 306.7H1188.2M1187.6 314.7H1188.8M1185.1 310.7V331.2M1185.1 331.2H1187.1M1185.1 310.7H1187.6M1184.6 320.9V358.4M1184.6 358.4H1186.6M1184.6 320.9H1185.1M1184.1 339.7V392.9M1184.1 392.9H1186.1M1184.1 339.7H1184.6M1183.6 366.3V427.4M1183.6 427.4H1185.6M1183.6 366.3H1184.1M1183.1 396.8V447.3M1183.1 447.3H1185.1M1183.1 396.8H1183.6M1182.4 422.1V485.1M1182.4 485.1H1184.4M1182.4 422.1H1183.1M1181.6 453.6V501.6M1181.6 501.6H1183.6M1181.6 453.6H1182.4M1181.6 477.6V482.7M1184.6 520.3V520.8M1184.6 520.3H1197.5M1184.6 520.8H1197.5M1185.8 521.1V521.5M1185.8 521.1H1197.5M1185.8 521.5H1197.5M1188.2 522.3V522.9M1188.2 522.3H1197.5M1188.2 522.9H1197.5M1185.8 521.9V522.6M1185.8 521.9H1197.5M1185.8 522.6H1188.2M1185.2 521.3V522.3M1185.2 521.3H1185.8M1185.2 522.3H1185.8M1189.4 524.1V524.6M1189.4 524.1H1197.5M1189.4 524.6H1197.5M1188.8 524.4V524.9M1188.8 524.4H1189.4M1188.8 524.9H1197.5M1188.2 523.5V524.6M1188.2 523.5H1197.5M1188.2 524.6H1188.8M1185.2 524.1V525.3M1185.2 524.1H1188.2M1185.2 525.3H1197.5M1184.6 521.8V524.7M1184.6 521.8H1185.2M1184.6 524.7H1185.2M1182.6 520.5V523.2M1182.6 520.5H1184.6M1182.6 523.2H1184.6M1181.1 521.9V525.9M1181.1 521.9H1182.6M1181.1 525.9H1197.5M1186.2 527.0V527.5M1186.2 527.0H1197.5M1186.2 527.5H1197.5M1185.5 527.2V528.0M1185.5 527.2H1186.2M1185.5 528.0H1197.5M1184.9 527.6V528.1M1184.9 527.6H1185.5M1184.9 528.1H1197.5M1184.3 526.6V527.9M1184.3 526.6H1197.5M1184.3 527.9H1184.9M1183.2 527.2V528.6M1183.2 527.2H1184.3M1183.2 528.6H1197.5M1178.8 523.9V527.9M1178.8 523.9H1181.1M1178.8 527.9H1183.2M1189.4 529.3V529.8M1189.4 529.3H1197.5M1189.4 529.8H1197.5M1188.6 529.6V530.0M1188.6 529.6H1189.4M1188.6 530.0H1197.5M1178.0 525.9V529.8M1178.0 525.9H1178.8M1178.0 529.8H1188.6M1191.0 530.2V530.6M1191.0 530.2H1197.5M1191.0 530.6H1197.5M1191.9 531.4V532.0M1191.9 531.4H1197.5M1191.9 532.0H1197.5M1191.3 531.7V532.4M1191.3 531.7H1191.9M1191.3 532.4H1197.5M1190.7 531.0V532.1M1190.7 531.0H1197.5M1190.7 532.1H1191.3M1191.3 532.9V533.4M1191.3 532.9H1197.5M1191.3 533.4H1197.5M1190.7 533.2V533.6M1190.7 533.2H1191.3M1190.7 533.6H1197.5M1190.1 531.5V533.4M1190.1 531.5H1190.7M1190.1 533.4H1190.7M1189.5 530.4V532.4M1189.5 530.4H1191.0M1189.5 532.4H1190.1M1190.3 534.6V535.0M1190.3 534.6H1197.5M1190.3 535.0H1197.5M1189.7 533.9V534.8M1189.7 533.9H1197.5M1189.7 534.8H1190.3M1193.8 535.6V536.0M1193.8 535.6H1197.5M1193.8 536.0H1197.5M1193.2 535.2V535.8M1193.2 535.2H1197.5M1193.2 535.8H1193.8M1188.1 534.4V535.5M1188.1 534.4H1189.7M1188.1 535.5H1193.2M1187.5 531.4V534.9M1187.5 531.4H1189.5M1187.5 534.9H1188.1M1191.0 536.7V537.3M1191.0 536.7H1197.5M1191.0 537.3H1197.5M1190.4 537.0V537.6M1190.4 537.0H1191.0M1190.4 537.6H1197.5M1189.8 537.3V537.8M1189.8 537.3H1190.4M1189.8 537.8H1197.5M1189.2 536.4V537.5M1189.2 536.4H1197.5M1189.2 537.5H1189.8M1188.6 537.0V538.0M1188.6 537.0H1189.2M1188.6 538.0H1197.5M1188.7 538.2V538.8M1188.7 538.2H1197.5M1188.7 538.8H1197.5M1189.8 539.4V539.9M1189.8 539.4H1197.5M1189.8 539.9H1197.5M1188.1 538.5V539.6M1188.1 538.5H1188.7M1188.1 539.6H1189.8M1192.7 540.5V540.9M1192.7 540.5H1197.5M1192.7 540.9H1197.5M1191.7 540.7V541.2M1191.7 540.7H1192.7M1191.7 541.2H1197.5M1192.3 541.8V542.2M1192.3 541.8H1197.5M1192.3 542.2H1197.5M1191.7 541.3V542.0M1191.7 541.3H1197.5M1191.7 542.0H1192.3M1191.1 540.9V541.7M1191.1 540.9H1191.7M1191.1 541.7H1191.7M1190.5 541.3V542.4M1190.5 541.3H1191.1M1190.5 542.4H1197.5M1187.5 539.1V541.8M1187.5 539.1H1188.1M1187.5 541.8H1190.5M1184.5 537.5V540.5M1184.5 537.5H1188.6M1184.5 540.5H1187.5M1183.8 533.2V539.0M1183.8 533.2H1187.5M1183.8 539.0H1184.5M1193.3 543.9V544.6M1193.3 543.9H1197.5M1193.3 544.6H1197.5M1192.7 544.2V545.1M1192.7 544.2H1193.3M1192.7 545.1H1197.5M1192.1 543.3V544.7M1192.1 543.3H1197.5M1192.1 544.7H1192.7M1191.5 542.8V544.0M1191.5 542.8H1197.5M1191.5 544.0H1192.1M1192.7 545.4V545.9M1192.7 545.4H1197.5M1192.7 545.9H1197.5M1190.5 547.6V548.1M1190.5 547.6H1197.5M1190.5 548.1H1197.5M1189.9 547.2V547.9M1189.9 547.2H1197.5M1189.9 547.9H1190.5M1189.3 547.0V547.5M1189.3 547.0H1197.5M1189.3 547.5H1189.9M1188.0 546.6V547.3M1188.0 546.6H1197.5M1188.0 547.3H1189.3M1187.4 545.7V546.9M1187.4 545.7H1192.7M1187.4 546.9H1188.0M1185.0 543.4V546.3M1185.0 543.4H1191.5M1185.0 546.3H1187.4M1179.9 536.1V544.9M1179.9 536.1H1183.8M1179.9 544.9H1185.0M1193.3 548.8V549.3M1193.3 548.8H1197.5M1193.3 549.3H1197.5M1192.7 548.4V549.0M1192.7 548.4H1197.5M1192.7 549.0H1193.3M1192.1 548.7V549.6M1192.1 548.7H1192.7M1192.1 549.6H1197.5M1191.3 549.2V549.9M1191.3 549.2H1192.1M1191.3 549.9H1197.5M1190.8 551.2V551.7M1190.8 551.2H1197.5M1190.8 551.7H1197.5M1190.2 550.7V551.4M1190.2 550.7H1197.5M1190.2 551.4H1190.8M1189.3 550.5V551.1M1189.3 550.5H1197.5M1189.3 551.1H1190.2M1188.7 550.2V550.8M1188.7 550.2H1197.5M1188.7 550.8H1189.3M1190.0 551.9V552.4M1190.0 551.9H1197.5M1190.0 552.4H1197.5M1188.1 550.5V552.1M1188.1 550.5H1188.7M1188.1 552.1H1190.0M1187.5 551.3V553.0M1187.5 551.3H1188.1M1187.5 553.0H1197.5M1186.9 549.6V552.2M1186.9 549.6H1191.3M1186.9 552.2H1187.5M1189.4 553.5V554.0M1189.4 553.5H1197.5M1189.4 554.0H1197.5M1191.2 555.1V555.6M1191.2 555.1H1197.5M1191.2 555.6H1197.5M1190.6 554.6V555.3M1190.6 554.6H1197.5M1190.6 555.3H1191.2M1190.6 555.8V556.4M1190.6 555.8H1197.5M1190.6 556.4H1197.5M1190.0 554.9V556.1M1190.0 554.9H1190.6M1190.0 556.1H1190.6M1189.4 555.5V557.1M1189.4 555.5H1190.0M1189.4 557.1H1197.5M1188.8 553.8V556.3M1188.8 553.8H1189.4M1188.8 556.3H1189.4M1191.4 558.3V558.8M1191.4 558.3H1197.5M1191.4 558.8H1197.5M1190.8 557.8V558.6M1190.8 557.8H1197.5M1190.8 558.6H1191.4M1190.2 558.2V559.4M1190.2 558.2H1190.8M1190.2 559.4H1197.5M1189.6 558.8V559.9M1189.6 558.8H1190.2M1189.6 559.9H1197.5M1191.5 560.7V561.4M1191.5 560.7H1197.5M1191.5 561.4H1197.5M1189.9 560.4V561.0M1189.9 560.4H1197.5M1189.9 561.0H1191.5M1188.5 560.2V560.7M1188.5 560.2H1197.5M1188.5 560.7H1189.9M1187.9 559.3V560.4M1187.9 559.3H1189.6M1187.9 560.4H1188.5M1187.4 562.1V562.5M1187.4 562.1H1197.5M1187.4 562.5H1197.5M1186.8 559.9V562.3M1186.8 559.9H1187.9M1186.8 562.3H1187.4M1194.8 562.9V563.5M1194.8 562.9H1197.5M1194.8 563.5H1197.5M1195.4 564.7V565.3M1195.4 564.7H1197.5M1195.4 565.3H1197.5M1194.8 564.1V565.0M1194.8 564.1H1197.5M1194.8 565.0H1195.4M1194.2 563.2V564.5M1194.2 563.2H1194.8M1194.2 564.5H1194.8M1194.8 566.0V566.4M1194.8 566.0H1197.5M1194.8 566.4H1197.5M1194.2 565.7V566.2M1194.2 565.7H1197.5M1194.2 566.2H1194.8M1193.6 563.9V565.9M1193.6 563.9H1194.2M1193.6 565.9H1194.2M1193.0 564.9V566.9M1193.0 564.9H1193.6M1193.0 566.9H1197.5M1184.5 561.1V565.9M1184.5 561.1H1186.8M1184.5 565.9H1193.0M1183.9 555.1V563.5M1183.9 555.1H1188.8M1183.9 563.5H1184.5M1183.2 550.9V559.3M1183.2 550.9H1186.9M1183.2 559.3H1183.9M1193.7 567.7V568.2M1193.7 567.7H1197.5M1193.7 568.2H1197.5M1193.1 567.4V568.0M1193.1 567.4H1197.5M1193.1 568.0H1193.7M1195.5 569.1V569.6M1195.5 569.1H1197.5M1195.5 569.6H1197.5M1194.9 569.3V570.0M1194.9 569.3H1195.5M1194.9 570.0H1197.5M1194.3 569.7V570.4M1194.3 569.7H1194.9M1194.3 570.4H1197.5M1193.7 570.0V570.8M1193.7 570.0H1194.3M1193.7 570.8H1197.5M1193.1 570.4V571.3M1193.1 570.4H1193.7M1193.1 571.3H1197.5M1192.5 568.7V570.8M1192.5 568.7H1197.5M1192.5 570.8H1193.1M1193.1 571.9V572.3M1193.1 571.9H1197.5M1193.1 572.3H1197.5M1192.5 571.6V572.1M1192.5 571.6H1197.5M1192.5 572.1H1193.1M1191.9 569.8V571.8M1191.9 569.8H1192.5M1191.9 571.8H1192.5M1191.3 567.7V570.8M1191.3 567.7H1193.1M1191.3 570.8H1191.9M1193.7 573.1V573.5M1193.7 573.1H1197.5M1193.7 573.5H1197.5M1193.1 573.3V574.0M1193.1 573.3H1193.7M1193.1 574.0H1197.5M1192.5 572.8V573.6M1192.5 572.8H1197.5M1192.5 573.6H1193.1M1191.9 572.6V573.2M1191.9 572.6H1197.5M1191.9 573.2H1192.5M1191.3 572.9V574.3M1191.3 572.9H1191.9M1191.3 574.3H1197.5M1190.7 569.3V573.6M1190.7 569.3H1191.3M1190.7 573.6H1191.3M1181.3 555.1V571.4M1181.3 555.1H1183.2M1181.3 571.4H1190.7M1193.0 574.6V575.1M1193.0 574.6H1197.5M1193.0 575.1H1197.5M1192.4 574.9V575.8M1192.4 574.9H1193.0M1192.4 575.8H1197.5M1194.4 576.8V577.2M1194.4 576.8H1197.5M1194.4 577.2H1197.5M1193.8 577.0V577.4M1193.8 577.0H1194.4M1193.8 577.4H1197.5M1193.2 577.2V577.7M1193.2 577.2H1193.8M1193.2 577.7H1197.5M1192.6 576.3V577.4M1192.6 576.3H1197.5M1192.6 577.4H1193.2M1192.0 576.9V578.0M1192.0 576.9H1192.6M1192.0 578.0H1197.5M1191.4 575.3V577.4M1191.4 575.3H1192.4M1191.4 577.4H1192.0M1191.4 578.4V578.8M1191.4 578.4H1197.5M1191.4 578.8H1197.5M1190.8 576.4V578.6M1190.8 576.4H1191.4M1190.8 578.6H1191.4M1192.4 579.7V580.2M1192.4 579.7H1197.5M1192.4 580.2H1197.5M1191.8 579.2V580.0M1191.8 579.2H1197.5M1191.8 580.0H1192.4M1190.2 577.5V579.6M1190.2 577.5H1190.8M1190.2 579.6H1191.8M1192.3 580.6V581.1M1192.3 580.6H1197.5M1192.3 581.1H1197.5M1193.5 581.8V582.3M1193.5 581.8H1197.5M1193.5 582.3H1197.5M1192.9 581.5V582.1M1192.9 581.5H1197.5M1192.9 582.1H1193.5M1192.3 581.8V582.9M1192.3 581.8H1192.9M1192.3 582.9H1197.5M1191.7 580.9V582.4M1191.7 580.9H1192.3M1191.7 582.4H1192.3M1191.1 581.6V583.3M1191.1 581.6H1191.7M1191.1 583.3H1197.5M1192.3 584.3V584.8M1192.3 584.3H1197.5M1192.3 584.8H1197.5M1191.7 584.0V584.6M1191.7 584.0H1197.5M1191.7 584.6H1192.3M1191.1 583.7V584.3M1191.1 583.7H1197.5M1191.1 584.3H1191.7M1190.5 582.5V584.0M1190.5 582.5H1191.1M1190.5 584.0H1191.1M1191.1 585.4V586.0M1191.1 585.4H1197.5M1191.1 586.0H1197.5M1190.5 585.7V586.5M1190.5 585.7H1191.1M1190.5 586.5H1197.5M1189.9 583.2V586.1M1189.9 583.2H1190.5M1189.9 586.1H1190.5M1188.7 587.0V587.7M1188.7 587.0H1197.5M1188.7 587.7H1197.5M1188.1 584.7V587.4M1188.1 584.7H1189.9M1188.1 587.4H1188.7M1187.0 578.5V586.0M1187.0 578.5H1190.2M1187.0 586.0H1188.1M1194.3 589.2V589.8M1194.3 589.2H1197.5M1194.3 589.8H1197.5M1193.7 589.5V590.2M1193.7 589.5H1194.3M1193.7 590.2H1197.5M1193.1 588.7V589.8M1193.1 588.7H1197.5M1193.1 589.8H1193.7M1192.5 588.5V589.3M1192.5 588.5H1197.5M1192.5 589.3H1193.1M1191.9 588.3V588.9M1191.9 588.3H1197.5M1191.9 588.9H1192.5M1191.9 590.3V590.8M1191.9 590.3H1197.5M1191.9 590.8H1197.5M1191.3 588.6V590.5M1191.3 588.6H1191.9M1191.3 590.5H1191.9M1190.3 589.6V591.5M1190.3 589.6H1191.3M1190.3 591.5H1197.5M1190.3 592.1V592.5M1190.3 592.1H1197.5M1190.3 592.5H1197.5M1189.7 590.5V592.3M1189.7 590.5H1190.3M1189.7 592.3H1190.3M1191.4 593.2V593.6M1191.4 593.2H1197.5M1191.4 593.6H1197.5M1190.8 592.8V593.4M1190.8 592.8H1197.5M1190.8 593.4H1191.4M1190.2 592.7V593.1M1190.2 592.7H1197.5M1190.2 593.1H1190.8M1193.9 595.5V595.9M1193.9 595.5H1197.5M1193.9 595.9H1197.5M1193.3 595.2V595.7M1193.3 595.2H1197.5M1193.3 595.7H1193.9M1192.7 594.8V595.5M1192.7 594.8H1197.5M1192.7 595.5H1193.3M1192.1 595.1V596.6M1192.1 595.1H1192.7M1192.1 596.6H1197.5M1191.5 594.1V595.8M1191.5 594.1H1197.5M1191.5 595.8H1192.1M1190.9 595.0V597.3M1190.9 595.0H1191.5M1190.9 597.3H1197.5M1189.6 592.9V596.1M1189.6 592.9H1190.2M1189.6 596.1H1190.9M1187.9 591.4V594.5M1187.9 591.4H1189.7M1187.9 594.5H1189.6M1182.6 582.3V593.0M1182.6 582.3H1187.0M1182.6 593.0H1187.9M1191.5 597.8V598.2M1191.5 597.8H1197.5M1191.5 598.2H1197.5M1190.7 598.0V598.7M1190.7 598.0H1191.5M1190.7 598.7H1197.5M1190.1 598.3V599.1M1190.1 598.3H1190.7M1190.1 599.1H1197.5M1192.0 599.4V599.9M1192.0 599.4H1197.5M1192.0 599.9H1197.5M1193.4 600.6V601.1M1193.4 600.6H1197.5M1193.4 601.1H1197.5M1192.5 600.8V601.4M1192.5 600.8H1193.4M1192.5 601.4H1197.5M1191.4 599.6V601.1M1191.4 599.6H1192.0M1191.4 601.1H1192.5M1190.8 600.4V601.8M1190.8 600.4H1191.4M1190.8 601.8H1197.5M1192.0 602.7V603.3M1192.0 602.7H1197.5M1192.0 603.3H1197.5M1191.4 602.3V603.0M1191.4 602.3H1197.5M1191.4 603.0H1192.0M1190.8 602.6V603.9M1190.8 602.6H1191.4M1190.8 603.9H1197.5M1190.2 601.1V603.3M1190.2 601.1H1190.8M1190.2 603.3H1190.8M1189.5 598.7V602.2M1189.5 598.7H1190.1M1189.5 602.2H1190.2M1189.5 604.6V605.1M1189.5 604.6H1197.5M1189.5 605.1H1197.5M1188.9 600.4V604.9M1188.9 600.4H1189.5M1188.9 604.9H1189.5M1191.0 605.5V606.0M1191.0 605.5H1197.5M1191.0 606.0H1197.5M1192.7 606.5V606.9M1192.7 606.5H1197.5M1192.7 606.9H1197.5M1192.1 606.4V606.7M1192.1 606.4H1197.5M1192.1 606.7H1192.7M1191.5 606.5V607.3M1191.5 606.5H1192.1M1191.5 607.3H1197.5M1192.1 607.6V608.0M1192.1 607.6H1197.5M1192.1 608.0H1197.5M1191.5 607.8V608.7M1191.5 607.8H1192.1M1191.5 608.7H1197.5M1190.9 606.9V608.2M1190.9 606.9H1191.5M1190.9 608.2H1191.5M1190.3 607.6V609.2M1190.3 607.6H1190.9M1190.3 609.2H1197.5M1189.7 608.4V609.6M1189.7 608.4H1190.3M1189.7 609.6H1197.5M1190.8 610.4V610.8M1190.8 610.4H1197.5M1190.8 610.8H1197.5M1190.2 609.8V610.6M1190.2 609.8H1197.5M1190.2 610.6H1190.8M1189.1 609.0V610.2M1189.1 609.0H1189.7M1189.1 610.2H1190.2M1194.1 612.1V612.5M1194.1 612.1H1197.5M1194.1 612.5H1197.5M1193.5 612.3V613.0M1193.5 612.3H1194.1M1193.5 613.0H1197.5M1192.9 611.9V612.7M1192.9 611.9H1197.5M1192.9 612.7H1193.5M1192.3 611.5V612.3M1192.3 611.5H1197.5M1192.3 612.3H1192.9M1191.7 611.1V611.9M1191.7 611.1H1197.5M1191.7 611.9H1192.3M1191.7 613.9V614.5M1191.7 613.9H1197.5M1191.7 614.5H1197.5M1191.1 613.3V614.2M1191.1 613.3H1197.5M1191.1 614.2H1191.7M1190.5 611.5V613.8M1190.5 611.5H1191.7M1190.5 613.8H1191.1M1188.5 609.6V612.6M1188.5 609.6H1189.1M1188.5 612.6H1190.5M1192.5 614.9V615.5M1192.5 614.9H1197.5M1192.5 615.5H1197.5M1191.9 615.2V616.1M1191.9 615.2H1192.5M1191.9 616.1H1197.5M1186.8 611.1V615.7M1186.8 611.1H1188.5M1186.8 615.7H1191.9M1185.5 605.8V613.4M1185.5 605.8H1191.0M1185.5 613.4H1186.8M1183.8 602.7V609.6M1183.8 602.7H1188.9M1183.8 609.6H1185.5M1191.9 616.7V617.2M1191.9 616.7H1197.5M1191.9 617.2H1197.5M1192.5 618.4V618.9M1192.5 618.4H1197.5M1192.5 618.9H1197.5M1191.9 617.9V618.6M1191.9 617.9H1197.5M1191.9 618.6H1192.5M1191.3 617.0V618.2M1191.3 617.0H1191.9M1191.3 618.2H1191.9M1189.7 617.6V619.6M1189.7 617.6H1191.3M1189.7 619.6H1197.5M1189.3 620.3V620.7M1189.3 620.3H1197.5M1189.3 620.7H1197.5M1192.7 621.6V622.2M1192.7 621.6H1197.5M1192.7 622.2H1197.5M1192.1 621.0V621.9M1192.1 621.0H1197.5M1192.1 621.9H1192.7M1191.5 621.4V622.8M1191.5 621.4H1192.1M1191.5 622.8H1197.5M1193.3 624.0V624.4M1193.3 624.0H1197.5M1193.3 624.4H1197.5M1192.7 623.5V624.2M1192.7 623.5H1197.5M1192.7 624.2H1193.3M1192.9 625.0V625.5M1192.9 625.0H1197.5M1192.9 625.5H1197.5M1194.5 625.9V626.3M1194.5 625.9H1197.5M1194.5 626.3H1197.5M1193.9 626.1V626.7M1193.9 626.1H1194.5M1193.9 626.7H1197.5M1193.3 626.4V626.9M1193.3 626.4H1193.9M1193.3 626.9H1197.5M1192.7 626.7V627.2M1192.7 626.7H1193.3M1192.7 627.2H1197.5M1192.1 625.3V626.9M1192.1 625.3H1192.9M1192.1 626.9H1192.7M1191.5 623.8V626.1M1191.5 623.8H1192.7M1191.5 626.1H1192.1M1190.9 622.1V625.0M1190.9 622.1H1191.5M1190.9 625.0H1191.5M1188.2 620.5V623.6M1188.2 620.5H1189.3M1188.2 623.6H1190.9M1186.7 618.6V622.0M1186.7 618.6H1189.7M1186.7 622.0H1188.2M1186.7 627.6V628.1M1186.7 627.6H1197.5M1186.7 628.1H1197.5M1186.1 620.3V627.9M1186.1 620.3H1186.7M1186.1 627.9H1186.7M1194.8 629.3V629.7M1194.8 629.3H1197.5M1194.8 629.7H1197.5M1194.2 628.8V629.5M1194.2 628.8H1197.5M1194.2 629.5H1194.8M1193.6 628.5V629.1M1193.6 628.5H1197.5M1193.6 629.1H1194.2M1195.4 630.1V630.6M1195.4 630.1H1197.5M1195.4 630.6H1197.5M1194.8 630.0V630.4M1194.8 630.0H1197.5M1194.8 630.4H1195.4M1194.2 629.8V630.2M1194.2 629.8H1197.5M1194.2 630.2H1194.8M1194.8 631.5V632.0M1194.8 631.5H1197.5M1194.8 632.0H1197.5M1194.2 631.0V631.7M1194.2 631.0H1197.5M1194.2 631.7H1194.8M1193.6 630.0V631.4M1193.6 630.0H1194.2M1193.6 631.4H1194.2M1193.0 628.8V630.7M1193.0 628.8H1193.6M1193.0 630.7H1193.6M1195.0 633.5V634.0M1195.0 633.5H1197.5M1195.0 634.0H1197.5M1194.4 633.2V633.8M1194.4 633.2H1197.5M1194.4 633.8H1195.0M1193.8 632.9V633.5M1193.8 632.9H1197.5M1193.8 633.5H1194.4M1193.2 633.2V634.4M1193.2 633.2H1193.8M1193.2 634.4H1197.5M1192.6 632.7V633.8M1192.6 632.7H1197.5M1192.6 633.8H1193.2M1194.4 635.9V636.4M1194.4 635.9H1197.5M1194.4 636.4H1197.5M1193.8 635.6V636.2M1193.8 635.6H1197.5M1193.8 636.2H1194.4M1193.2 635.1V635.9M1193.2 635.1H1197.5M1193.2 635.9H1193.8M1192.6 634.7V635.5M1192.6 634.7H1197.5M1192.6 635.5H1193.2M1192.0 633.3V635.1M1192.0 633.3H1192.6M1192.0 635.1H1192.6M1191.4 634.2V636.8M1191.4 634.2H1192.0M1191.4 636.8H1197.5M1190.8 632.4V635.5M1190.8 632.4H1197.5M1190.8 635.5H1191.4M1190.2 629.8V633.9M1190.2 629.8H1193.0M1190.2 633.9H1190.8M1185.5 624.1V631.8M1185.5 624.1H1186.1M1185.5 631.8H1190.2M1190.3 637.3V637.9M1190.3 637.3H1197.5M1190.3 637.9H1197.5M1191.7 638.8V639.4M1191.7 638.8H1197.5M1191.7 639.4H1197.5M1191.1 638.3V639.1M1191.1 638.3H1197.5M1191.1 639.1H1191.7M1191.9 639.9V640.5M1191.9 639.9H1197.5M1191.9 640.5H1197.5M1190.3 638.7V640.2M1190.3 638.7H1191.1M1190.3 640.2H1191.9M1189.7 637.6V639.4M1189.7 637.6H1190.3M1189.7 639.4H1190.3M1189.1 638.5V641.1M1189.1 638.5H1189.7M1189.1 641.1H1197.5M1190.1 643.0V643.7M1190.1 643.0H1197.5M1190.1 643.7H1197.5M1189.5 642.4V643.4M1189.5 642.4H1197.5M1189.5 643.4H1190.1M1188.9 641.8V642.9M1188.9 641.8H1197.5M1188.9 642.9H1189.5M1188.3 639.8V642.3M1188.3 639.8H1189.1M1188.3 642.3H1188.9M1184.9 628.0V641.1M1184.9 628.0H1185.5M1184.9 641.1H1188.3M1190.2 644.9V645.4M1190.2 644.9H1197.5M1190.2 645.4H1197.5M1189.4 644.6V645.2M1189.4 644.6H1197.5M1189.4 645.2H1190.2M1192.3 646.1V646.6M1192.3 646.1H1197.5M1192.3 646.6H1197.5M1191.7 645.9V646.4M1191.7 645.9H1197.5M1191.7 646.4H1192.3M1189.4 646.1V647.3M1189.4 646.1H1191.7M1189.4 647.3H1197.5M1188.8 644.9V646.7M1188.8 644.9H1189.4M1188.8 646.7H1189.4M1190.4 647.7V648.1M1190.4 647.7H1197.5M1190.4 648.1H1197.5M1188.8 647.9V648.5M1188.8 647.9H1190.4M1188.8 648.5H1197.5M1188.2 645.8V648.2M1188.2 645.8H1188.8M1188.2 648.2H1188.8M1187.1 644.2V647.0M1187.1 644.2H1197.5M1187.1 647.0H1188.2M1195.6 649.5V649.9M1195.6 649.5H1197.5M1195.6 649.9H1197.5M1196.8 650.1V650.5M1196.8 650.1H1197.5M1196.8 650.5H1197.5M1196.2 650.3V651.0M1196.2 650.3H1196.8M1196.2 651.0H1197.5M1195.6 650.6V651.6M1195.6 650.6H1196.2M1195.6 651.6H1197.5M1195.0 649.7V651.1M1195.0 649.7H1195.6M1195.0 651.1H1195.6M1194.4 648.9V650.4M1194.4 648.9H1197.5M1194.4 650.4H1195.0M1193.8 649.6V652.3M1193.8 649.6H1194.4M1193.8 652.3H1197.5M1193.8 653.0V653.6M1193.8 653.0H1197.5M1193.8 653.6H1197.5M1193.2 651.0V653.3M1193.2 651.0H1193.8M1193.2 653.3H1193.8M1193.6 654.4V655.0M1193.6 654.4H1197.5M1193.6 655.0H1197.5M1193.0 654.0V654.7M1193.0 654.0H1197.5M1193.0 654.7H1193.6M1192.4 654.4V655.6M1192.4 654.4H1193.0M1192.4 655.6H1197.5M1191.8 655.0V656.1M1191.8 655.0H1192.4M1191.8 656.1H1197.5M1195.4 658.1V658.6M1195.4 658.1H1197.5M1195.4 658.6H1197.5M1194.8 657.7V658.3M1194.8 657.7H1197.5M1194.8 658.3H1195.4M1194.2 657.4V658.0M1194.2 657.4H1197.5M1194.2 658.0H1194.8M1193.6 657.2V657.7M1193.6 657.2H1197.5M1193.6 657.7H1194.2M1193.0 656.8V657.4M1193.0 656.8H1197.5M1193.0 657.4H1193.6M1192.4 656.3V657.1M1192.4 656.3H1197.5M1192.4 657.1H1193.0M1193.6 659.7V660.1M1193.6 659.7H1197.5M1193.6 660.1H1197.5M1193.0 659.3V659.9M1193.0 659.3H1197.5M1193.0 659.9H1193.6M1192.4 659.0V659.6M1192.4 659.0H1197.5M1192.4 659.6H1193.0M1191.8 656.7V659.3M1191.8 656.7H1192.4M1191.8 659.3H1192.4M1191.2 655.5V658.0M1191.2 655.5H1191.8M1191.2 658.0H1191.8M1190.6 652.1V656.8M1190.6 652.1H1193.2M1190.6 656.8H1191.2M1191.8 660.6V661.2M1191.8 660.6H1197.5M1191.8 661.2H1197.5M1193.0 661.7V662.3M1193.0 661.7H1197.5M1193.0 662.3H1197.5M1193.6 663.2V663.7M1193.6 663.2H1197.5M1193.6 663.7H1197.5M1193.0 662.8V663.4M1193.0 662.8H1197.5M1193.0 663.4H1193.6M1192.4 662.0V663.1M1192.4 662.0H1193.0M1192.4 663.1H1193.0M1191.8 662.5V663.9M1191.8 662.5H1192.4M1191.8 663.9H1197.5M1191.2 660.9V663.2M1191.2 660.9H1191.8M1191.2 663.2H1191.8M1192.3 664.2V664.7M1192.3 664.2H1197.5M1192.3 664.7H1197.5M1190.6 662.1V664.5M1190.6 662.1H1191.2M1190.6 664.5H1192.3M1190.0 654.5V663.3M1190.0 654.5H1190.6M1190.0 663.3H1190.6M1193.7 665.1V665.5M1193.7 665.1H1197.5M1193.7 665.5H1197.5M1195.5 666.8V667.2M1195.5 666.8H1197.5M1195.5 667.2H1197.5M1194.9 667.0V667.6M1194.9 667.0H1195.5M1194.9 667.6H1197.5M1194.3 666.4V667.3M1194.3 666.4H1197.5M1194.3 667.3H1194.9M1193.7 666.0V666.8M1193.7 666.0H1197.5M1193.7 666.8H1194.3M1193.1 665.3V666.4M1193.1 665.3H1193.7M1193.1 666.4H1193.7M1189.4 658.9V665.9M1189.4 658.9H1190.0M1189.4 665.9H1193.1M1186.0 645.6V662.4M1186.0 645.6H1187.1M1186.0 662.4H1189.4M1182.9 634.5V654.0M1182.9 634.5H1184.9M1182.9 654.0H1186.0M1181.8 606.1V644.3M1181.8 606.1H1183.8M1181.8 644.3H1182.9M1180.6 587.6V625.2M1180.6 587.6H1182.6M1180.6 625.2H1181.8M1179.3 563.2V606.4M1179.3 563.2H1181.3M1179.3 606.4H1180.6M1177.9 540.5V584.8M1177.9 540.5H1179.9M1177.9 584.8H1179.3M1176.0 527.8V562.6M1176.0 527.8H1178.0M1176.0 562.6H1177.9M1176.0 545.2V567.0M1187.9 668.4V669.0M1187.9 668.4H1197.5M1187.9 669.0H1197.5M1190.2 670.1V670.6M1190.2 670.1H1197.5M1190.2 670.6H1197.5M1189.6 670.4V670.9M1189.6 670.4H1190.2M1189.6 670.9H1197.5M1189.0 670.6V671.0M1189.0 670.6H1189.6M1189.0 671.0H1197.5M1185.9 669.5V670.8M1185.9 669.5H1197.5M1185.9 670.8H1189.0M1193.0 671.3V671.7M1193.0 671.3H1197.5M1193.0 671.7H1197.5M1192.4 671.5V672.1M1192.4 671.5H1193.0M1192.4 672.1H1197.5M1185.3 670.2V671.8M1185.3 670.2H1185.9M1185.3 671.8H1192.4M1183.6 668.7V671.0M1183.6 668.7H1187.9M1183.6 671.0H1185.3M1185.1 672.7V673.4M1185.1 672.7H1197.5M1185.1 673.4H1197.5M1181.9 669.8V673.0M1181.9 669.8H1183.6M1181.9 673.0H1185.1M1189.0 673.9V674.5M1189.0 673.9H1197.5M1189.0 674.5H1197.5M1188.4 674.2V674.9M1188.4 674.2H1189.0M1188.4 674.9H1197.5M1189.1 675.4V675.8M1189.1 675.4H1197.5M1189.1 675.8H1197.5M1188.5 675.6V676.0M1188.5 675.6H1189.1M1188.5 676.0H1197.5M1186.4 674.6V675.8M1186.4 674.6H1188.4M1186.4 675.8H1188.5M1185.8 675.2V676.4M1185.8 675.2H1186.4M1185.8 676.4H1197.5M1178.9 671.4V675.8M1178.9 671.4H1181.9M1178.9 675.8H1185.8M1191.9 677.5V678.0M1191.9 677.5H1197.5M1191.9 678.0H1197.5M1190.4 677.7V678.5M1190.4 677.7H1191.9M1190.4 678.5H1197.5M1191.6 678.8V679.3M1191.6 678.8H1197.5M1191.6 679.3H1197.5M1191.6 680.0V680.4M1191.6 680.0H1197.5M1191.6 680.4H1197.5M1191.0 679.1V680.2M1191.0 679.1H1191.6M1191.0 680.2H1191.6M1191.6 681.0V681.5M1191.6 681.0H1197.5M1191.6 681.5H1197.5M1191.0 681.3V681.8M1191.0 681.3H1191.6M1191.0 681.8H1197.5M1190.4 679.6V681.5M1190.4 679.6H1191.0M1190.4 681.5H1191.0M1189.8 678.1V680.6M1189.8 678.1H1190.4M1189.8 680.6H1190.4M1189.2 679.3V682.0M1189.2 679.3H1189.8M1189.2 682.0H1197.5M1186.7 677.0V680.7M1186.7 677.0H1197.5M1186.7 680.7H1189.2M1175.5 673.6V678.8M1175.5 673.6H1178.9M1175.5 678.8H1186.7M1182.7 682.3V682.7M1182.7 682.3H1197.5M1182.7 682.7H1197.5M1188.7 684.3V684.7M1188.7 684.3H1197.5M1188.7 684.7H1197.5M1187.0 683.8V684.5M1187.0 683.8H1197.5M1187.0 684.5H1188.7M1186.4 683.3V684.2M1186.4 683.3H1197.5M1186.4 684.2H1187.0M1187.0 685.3V685.8M1187.0 685.3H1197.5M1187.0 685.8H1197.5M1185.8 683.7V685.6M1185.8 683.7H1186.4M1185.8 685.6H1187.0M1180.9 682.5V684.6M1180.9 682.5H1182.7M1180.9 684.6H1185.8M1171.2 676.2V683.6M1171.2 676.2H1175.5M1171.2 683.6H1180.9M1192.9 687.0V687.4M1192.9 687.0H1197.5M1192.9 687.4H1197.5M1192.6 688.1V688.8M1192.6 688.1H1197.5M1192.6 688.8H1197.5M1192.0 687.2V688.4M1192.0 687.2H1192.9M1192.0 688.4H1192.6M1191.4 686.6V687.8M1191.4 686.6H1197.5M1191.4 687.8H1192.0M1189.7 689.5V689.9M1189.7 689.5H1197.5M1189.7 689.9H1197.5M1189.1 687.2V689.7M1189.1 687.2H1191.4M1189.1 689.7H1189.7M1185.8 686.1V688.5M1185.8 686.1H1197.5M1185.8 688.5H1189.1M1169.8 679.9V687.3M1169.8 679.9H1171.2M1169.8 687.3H1185.8M1169.8 680.0V683.6M1187.7 690.9V691.4M1187.7 690.9H1197.5M1187.7 691.4H1197.5M1187.1 691.2V691.7M1187.1 691.2H1187.7M1187.1 691.7H1197.5M1190.3 692.5V693.0M1190.3 692.5H1197.5M1190.3 693.0H1197.5M1189.7 692.8V693.3M1189.7 692.8H1190.3M1189.7 693.3H1197.5M1189.1 693.0V693.5M1189.1 693.0H1189.7M1189.1 693.5H1197.5M1188.5 693.3V693.7M1188.5 693.3H1189.1M1188.5 693.7H1197.5M1187.5 693.5V693.9M1187.5 693.5H1188.5M1187.5 693.9H1197.5M1186.9 692.3V693.7M1186.9 692.3H1197.5M1186.9 693.7H1187.5M1184.4 692.0V693.0M1184.4 692.0H1197.5M1184.4 693.0H1186.9M1183.8 691.4V692.5M1183.8 691.4H1187.1M1183.8 692.5H1184.4M1189.5 694.3V694.7M1189.5 694.3H1197.5M1189.5 694.7H1197.5M1188.9 694.5V695.1M1188.9 694.5H1189.5M1188.9 695.1H1197.5M1181.7 692.0V694.8M1181.7 692.0H1183.8M1181.7 694.8H1188.9M1180.6 690.3V693.4M1180.6 690.3H1197.5M1180.6 693.4H1181.7M1187.8 696.0V696.5M1187.8 696.0H1197.5M1187.8 696.5H1197.5M1187.2 696.3V697.0M1187.2 696.3H1187.8M1187.2 697.0H1197.5M1184.9 695.5V696.6M1184.9 695.5H1197.5M1184.9 696.6H1187.2M1178.0 691.8V696.1M1178.0 691.8H1180.6M1178.0 696.1H1184.9M1178.0 691.5V694.0M1192.2 697.5V698.0M1192.2 697.5H1197.5M1192.2 698.0H1197.5M1191.6 697.2V697.8M1191.6 697.2H1197.5M1191.6 697.8H1192.2M1191.0 697.5V698.4M1191.0 697.5H1191.6M1191.0 698.4H1197.5M1190.4 697.1V697.9M1190.4 697.1H1197.5M1190.4 697.9H1191.0M1189.8 697.5V698.7M1189.8 697.5H1190.4M1189.8 698.7H1197.5M1190.4 699.5V700.0M1190.4 699.5H1197.5M1190.4 700.0H1197.5M1189.8 699.1V699.7M1189.8 699.1H1197.5M1189.8 699.7H1190.4M1189.2 698.1V699.4M1189.2 698.1H1189.8M1189.2 699.4H1189.8M1188.0 700.7V701.2M1188.0 700.7H1197.5M1188.0 701.2H1197.5M1187.4 700.3V701.0M1187.4 700.3H1197.5M1187.4 701.0H1188.0M1186.8 700.6V701.4M1186.8 700.6H1187.4M1186.8 701.4H1197.5M1186.2 698.8V701.0M1186.2 698.8H1189.2M1186.2 701.0H1186.8M1190.6 701.5V701.9M1190.6 701.5H1197.5M1190.6 701.9H1197.5M1190.4 702.9V703.4M1190.4 702.9H1197.5M1190.4 703.4H1197.5M1189.8 702.5V703.2M1189.8 702.5H1197.5M1189.8 703.2H1190.4M1189.2 702.8V703.8M1189.2 702.8H1189.8M1189.2 703.8H1197.5M1188.2 701.7V703.3M1188.2 701.7H1190.6M1188.2 703.3H1189.2M1187.5 705.3V705.7M1187.5 705.3H1197.5M1187.5 705.7H1197.5M1186.9 705.5V706.0M1186.9 705.5H1187.5M1186.9 706.0H1197.5M1186.3 705.8V706.2M1186.3 705.8H1186.9M1186.3 706.2H1197.5M1184.1 704.9V706.0M1184.1 704.9H1197.5M1184.1 706.0H1186.3M1188.9 706.6V707.0M1188.9 706.6H1197.5M1188.9 707.0H1197.5M1183.5 705.5V706.8M1183.5 705.5H1184.1M1183.5 706.8H1188.9M1182.2 704.4V706.1M1182.2 704.4H1197.5M1182.2 706.1H1183.5M1181.1 702.5V705.3M1181.1 702.5H1188.2M1181.1 705.3H1182.2M1178.6 699.9V703.9M1178.6 699.9H1186.2M1178.6 703.9H1181.1M1190.1 707.6V708.1M1190.1 707.6H1197.5M1190.1 708.1H1197.5M1188.7 707.4V707.8M1188.7 707.4H1197.5M1188.7 707.8H1190.1M1186.9 707.6V708.6M1186.9 707.6H1188.7M1186.9 708.6H1197.5M1191.5 709.0V709.4M1191.5 709.0H1197.5M1191.5 709.4H1197.5M1190.6 709.2V709.6M1190.6 709.2H1191.5M1190.6 709.6H1197.5M1190.0 709.4V710.0M1190.0 709.4H1190.6M1190.0 710.0H1197.5M1184.6 708.1V709.7M1184.6 708.1H1186.9M1184.6 709.7H1190.0M1171.9 701.9V708.9M1171.9 701.9H1178.6M1171.9 708.9H1184.6M1188.3 711.1V711.6M1188.3 711.1H1197.5M1188.3 711.6H1197.5M1187.7 710.5V711.4M1187.7 710.5H1197.5M1187.7 711.4H1188.3M1188.5 712.7V713.1M1188.5 712.7H1197.5M1188.5 713.1H1197.5M1187.9 712.9V713.4M1187.9 712.9H1188.5M1187.9 713.4H1197.5M1186.4 712.2V713.2M1186.4 712.2H1197.5M1186.4 713.2H1187.9M1190.2 714.0V714.6M1190.2 714.0H1197.5M1190.2 714.6H1197.5M1189.6 713.6V714.3M1189.6 713.6H1197.5M1189.6 714.3H1190.2M1188.0 714.0V715.1M1188.0 714.0H1189.6M1188.0 715.1H1197.5M1187.4 714.6V715.5M1187.4 714.6H1188.0M1187.4 715.5H1197.5M1185.8 712.7V715.0M1185.8 712.7H1186.4M1185.8 715.0H1187.4M1185.5 716.0V716.4M1185.5 716.0H1197.5M1185.5 716.4H1197.5M1183.3 713.9V716.2M1183.3 713.9H1185.8M1183.3 716.2H1185.5M1177.3 710.9V715.0M1177.3 710.9H1187.7M1177.3 715.0H1183.3M1162.8 705.4V713.0M1162.8 705.4H1171.9M1162.8 713.0H1177.3M1184.2 717.5V718.0M1184.2 717.5H1197.5M1184.2 718.0H1197.5M1183.9 718.6V719.1M1183.9 718.6H1197.5M1183.9 719.1H1197.5M1187.2 719.5V719.9M1187.2 719.5H1197.5M1187.2 719.9H1197.5M1186.3 719.3V719.7M1186.3 719.3H1197.5M1186.3 719.7H1187.2M1183.3 718.9V719.5M1183.3 718.9H1183.9M1183.3 719.5H1186.3M1177.5 717.7V719.2M1177.5 717.7H1184.2M1177.5 719.2H1183.3M1174.7 716.9V718.4M1174.7 716.9H1197.5M1174.7 718.4H1177.5M1158.2 709.2V717.7M1158.2 709.2H1162.8M1158.2 717.7H1174.7M1158.2 713.4V714.8" fill="none" stroke="#111" stroke-width="1.1"/>
<rect x="858.5" y="13.6" width="7" height="706" fill="#000"/>
<rect x="1192.3" y="13.6" width="5" height="706.6" fill="#000"/>
<rect x="867.8" y="13.6" width="33.3" height="3.1" fill="rgb(168,168,255)"/>
<rect x="867.8" y="16.4" width="33.3" height="14.6" fill="rgb(239,239,255)"/>
<rect x="867.8" y="30.7" width="33.3" height="8.1" fill="rgb(251,249,252)"/>
<rect x="867.8" y="38.5" width="33.3" height="13.1" fill="rgb(251,249,252)"/>
<rect x="867.8" y="51.3" width="33.3" height="4.6" fill="rgb(217,217,255)"/>
<rect x="867.8" y="55.6" width="33.3" height="4.6" fill="rgb(239,239,255)"/>
<rect x="867.8" y="59.9" width="33.3" height="5.3" fill="rgb(217,217,255)"/>
<rect x="867.8" y="64.9" width="33.3" height="13.1" fill="rgb(193,193,255)"/>
<rect x="867.8" y="77.7" width="33.3" height="4.6" fill="rgb(255,192,192)"/>
<rect x="867.8" y="82.0" width="33.3" height="6.0" fill="rgb(168,168,255)"/>
<rect x="867.8" y="87.7" width="33.3" height="4.6" fill="rgb(114,114,255)"/>
<rect x="867.8" y="92.0" width="33.3" height="3.2" fill="rgb(217,217,255)"/>
<rect x="867.8" y="94.8" width="33.3" height="15.5" fill="rgb(255,238,238)"/>
<rect x="867.8" y="110.0" width="33.3" height="3.2" fill="rgb(255,216,216)"/>
<rect x="867.8" y="112.9" width="33.3" height="11.0" fill="rgb(255,238,238)"/>
<rect x="867.8" y="123.5" width="33.3" height="5.3" fill="rgb(255,192,192)"/>
<rect x="867.8" y="128.5" width="33.3" height="12.4" fill="rgb(251,249,252)"/>
<rect x="867.8" y="140.6" width="33.3" height="8.1" fill="rgb(217,217,255)"/>
<rect x="867.8" y="148.5" width="33.3" height="2.4" fill="rgb(193,193,255)"/>
<rect x="867.8" y="150.6" width="33.3" height="7.4" fill="rgb(255,238,238)"/>
<rect x="867.8" y="157.8" width="33.3" height="3.2" fill="rgb(217,217,255)"/>
<rect x="867.8" y="160.6" width="33.3" height="13.8" fill="rgb(239,239,255)"/>
<rect x="867.8" y="174.1" width="33.3" height="10.3" fill="rgb(217,217,255)"/>
<rect x="867.8" y="184.1" width="33.3" height="3.2" fill="rgb(193,193,255)"/>
<rect x="867.8" y="187.0" width="33.3" height="17.4" fill="rgb(239,239,255)"/>
<rect x="867.8" y="204.1" width="33.3" height="6.2" fill="rgb(217,217,255)"/>
<rect x="867.8" y="210.0" width="33.3" height="18.8" fill="rgb(206,206,255)"/>
<rect x="867.8" y="228.5" width="33.3" height="3.2" fill="rgb(251,249,252)"/>
<rect x="867.8" y="231.4" width="33.3" height="7.4" fill="rgb(255,216,216)"/>
<rect x="867.8" y="238.5" width="33.3" height="26.0" fill="rgb(255,238,238)"/>
<rect x="867.8" y="264.2" width="33.3" height="6.0" fill="rgb(255,192,192)"/>
<rect x="867.8" y="269.9" width="33.3" height="3.9" fill="rgb(251,249,252)"/>
<rect x="867.8" y="273.4" width="33.3" height="5.3" fill="rgb(217,217,255)"/>
<rect x="867.8" y="278.4" width="33.3" height="7.4" fill="rgb(251,249,252)"/>
<rect x="867.8" y="285.6" width="33.3" height="8.9" fill="rgb(217,217,255)"/>
<rect x="867.8" y="294.1" width="33.3" height="16.2" fill="rgb(255,228,228)"/>
<rect x="867.8" y="310.0" width="33.3" height="8.9" fill="rgb(251,249,252)"/>
<rect x="867.8" y="318.6" width="33.3" height="4.6" fill="rgb(255,192,192)"/>
<rect x="867.8" y="322.8" width="33.3" height="1.7" fill="rgb(251,249,252)"/>
<rect x="867.8" y="324.3" width="33.3" height="3.2" fill="rgb(193,193,255)"/>
<rect x="867.8" y="327.1" width="33.3" height="3.2" fill="rgb(251,249,252)"/>
<rect x="867.8" y="330.0" width="33.3" height="3.9" fill="rgb(255,216,216)"/>
<rect x="867.8" y="333.5" width="33.3" height="4.6" fill="rgb(251,249,252)"/>
<rect x="867.8" y="337.8" width="33.3" height="23.8" fill="rgb(255,204,204)"/>
<rect x="867.8" y="361.3" width="33.3" height="17.4" fill="rgb(255,216,216)"/>
<rect x="867.8" y="378.4" width="33.3" height="9.6" fill="rgb(255,192,192)"/>
<rect x="867.8" y="387.7" width="33.3" height="3.9" fill="rgb(255,216,216)"/>
<rect x="867.8" y="391.3" width="33.3" height="19.0" fill="rgb(255,228,228)"/>
<rect x="867.8" y="410.0" width="33.3" height="9.6" fill="rgb(239,239,255)"/>
<rect x="867.8" y="419.3" width="33.3" height="3.2" fill="rgb(193,193,255)"/>
<rect x="867.8" y="422.1" width="33.3" height="3.2" fill="rgb(255,111,111)"/>
<rect x="867.8" y="425.0" width="33.3" height="16.7" fill="rgb(251,249,252)"/>
<rect x="867.8" y="441.4" width="33.3" height="6.0" fill="rgb(255,238,238)"/>
<rect x="867.8" y="447.1" width="33.3" height="6.0" fill="rgb(255,192,192)"/>
<rect x="867.8" y="452.8" width="33.3" height="20.3" fill="rgb(255,216,216)"/>
<rect x="867.8" y="472.7" width="33.3" height="16.0" fill="rgb(255,238,238)"/>
<rect x="867.8" y="488.4" width="33.3" height="8.9" fill="rgb(255,216,216)"/>
<rect x="867.8" y="497.0" width="33.3" height="13.3" fill="rgb(255,238,238)"/>
<rect x="867.8" y="510.0" width="33.3" height="8.9" fill="rgb(251,249,252)"/>
<rect x="867.8" y="518.6" width="33.3" height="6.0" fill="rgb(255,238,238)"/>
<rect x="867.8" y="524.3" width="33.3" height="4.6" fill="rgb(206,206,255)"/>
<rect x="867.8" y="528.5" width="33.3" height="5.3" fill="rgb(251,249,252)"/>
<rect x="867.8" y="533.5" width="33.3" height="12.4" fill="rgb(181,181,255)"/>
<rect x="867.8" y="545.6" width="33.3" height="7.4" fill="rgb(206,206,255)"/>
<rect x="867.8" y="552.8" width="33.3" height="6.0" fill="rgb(251,249,252)"/>
<rect x="867.8" y="558.5" width="33.3" height="13.1" fill="rgb(181,181,255)"/>
<rect x="867.8" y="571.3" width="33.3" height="14.6" fill="rgb(255,238,238)"/>
<rect x="867.8" y="585.6" width="33.3" height="10.3" fill="rgb(255,228,228)"/>
<rect x="867.8" y="595.5" width="33.3" height="6.0" fill="rgb(251,249,252)"/>
<rect x="867.8" y="601.2" width="33.3" height="9.1" fill="rgb(255,228,228)"/>
<rect x="867.8" y="610.0" width="33.3" height="17.4" fill="rgb(251,249,252)"/>
<rect x="867.8" y="627.1" width="33.3" height="6.0" fill="rgb(228,228,255)"/>
<rect x="867.8" y="632.8" width="33.3" height="3.2" fill="rgb(251,249,252)"/>
<rect x="867.8" y="635.7" width="33.3" height="10.3" fill="rgb(206,206,255)"/>
<rect x="867.8" y="645.6" width="33.3" height="5.3" fill="rgb(239,239,255)"/>
<rect x="867.8" y="650.6" width="33.3" height="3.2" fill="rgb(206,206,255)"/>
<rect x="867.8" y="653.5" width="33.3" height="23.8" fill="rgb(239,239,255)"/>
<rect x="867.8" y="677.0" width="33.3" height="8.9" fill="rgb(255,238,238)"/>
<rect x="867.8" y="685.6" width="33.3" height="10.3" fill="rgb(255,192,192)"/>
<rect x="867.8" y="695.5" width="33.3" height="13.1" fill="rgb(255,216,216)"/>
<rect x="867.8" y="708.4" width="33.3" height="1.7" fill="rgb(255,166,166)"/>
<rect x="867.8" y="709.8" width="33.3" height="1.7" fill="rgb(141,141,255)"/>
<rect x="867.8" y="711.2" width="33.3" height="8.6" fill="rgb(217,217,255)"/>
<rect x="900.8" y="13.6" width="33.3" height="4.5" fill="rgb(217,217,255)"/>
<rect x="900.8" y="17.8" width="33.3" height="21.0" fill="rgb(239,239,255)"/>
<rect x="900.8" y="38.5" width="33.3" height="5.3" fill="rgb(255,238,238)"/>
<rect x="900.8" y="43.5" width="33.3" height="13.8" fill="rgb(239,239,255)"/>
<rect x="900.8" y="57.0" width="33.3" height="4.6" fill="rgb(217,217,255)"/>
<rect x="900.8" y="61.3" width="33.3" height="4.6" fill="rgb(168,168,255)"/>
<rect x="900.8" y="65.6" width="33.3" height="12.4" fill="rgb(239,239,255)"/>
<rect x="900.8" y="77.7" width="33.3" height="3.9" fill="rgb(168,168,255)"/>
<rect x="900.8" y="81.3" width="33.3" height="2.4" fill="rgb(114,114,255)"/>
<rect x="900.8" y="83.4" width="33.3" height="1.0" fill="rgb(168,168,255)"/>
<rect x="900.8" y="84.1" width="33.3" height="6.0" fill="rgb(255,238,238)"/>
<rect x="900.8" y="89.8" width="33.3" height="6.0" fill="rgb(251,249,252)"/>
<rect x="900.8" y="95.5" width="33.3" height="14.8" fill="rgb(239,239,255)"/>
<rect x="900.8" y="110.0" width="33.3" height="6.7" fill="rgb(251,249,252)"/>
<rect x="900.8" y="116.4" width="33.3" height="12.4" fill="rgb(193,193,255)"/>
<rect x="900.8" y="128.5" width="33.3" height="12.4" fill="rgb(168,168,255)"/>
<rect x="900.8" y="140.6" width="33.3" height="6.7" fill="rgb(193,193,255)"/>
<rect x="900.8" y="147.1" width="33.3" height="2.4" fill="rgb(141,141,255)"/>
<rect x="900.8" y="149.2" width="33.3" height="7.4" fill="rgb(168,168,255)"/>
<rect x="900.8" y="156.3" width="33.3" height="5.3" fill="rgb(251,249,252)"/>
<rect x="900.8" y="161.3" width="33.3" height="10.3" fill="rgb(193,193,255)"/>
<rect x="900.8" y="171.3" width="33.3" height="9.6" fill="rgb(239,239,255)"/>
<rect x="900.8" y="180.6" width="33.3" height="6.7" fill="rgb(217,217,255)"/>
<rect x="900.8" y="187.0" width="33.3" height="23.3" fill="rgb(239,239,255)"/>
<rect x="900.8" y="210.0" width="33.3" height="18.8" fill="rgb(239,239,255)"/>
<rect x="900.8" y="228.5" width="33.3" height="6.0" fill="rgb(141,141,255)"/>
<rect x="900.8" y="234.2" width="33.3" height="2.4" fill="rgb(193,193,255)"/>
<rect x="900.8" y="236.4" width="33.3" height="3.2" fill="rgb(141,141,255)"/>
<rect x="900.8" y="239.2" width="33.3" height="4.6" fill="rgb(217,217,255)"/>
<rect x="900.8" y="243.5" width="33.3" height="5.3" fill="rgb(168,168,255)"/>
<rect x="900.8" y="248.5" width="33.3" height="7.4" fill="rgb(193,193,255)"/>
<rect x="900.8" y="255.6" width="33.3" height="8.9" fill="rgb(155,155,255)"/>
<rect x="900.8" y="264.2" width="33.3" height="8.9" fill="rgb(193,193,255)"/>
<rect x="900.8" y="272.7" width="33.3" height="6.7" fill="rgb(251,249,252)"/>
<rect x="900.8" y="279.1" width="33.3" height="6.0" fill="rgb(193,193,255)"/>
<rect x="900.8" y="284.8" width="33.3" height="5.3" fill="rgb(239,239,255)"/>
<rect x="900.8" y="289.8" width="33.3" height="8.9" fill="rgb(217,217,255)"/>
<rect x="900.8" y="298.4" width="33.3" height="11.9" fill="rgb(206,206,255)"/>
<rect x="900.8" y="310.0" width="33.3" height="8.9" fill="rgb(239,239,255)"/>
<rect x="900.8" y="318.6" width="33.3" height="6.0" fill="rgb(251,249,252)"/>
<rect x="900.8" y="324.3" width="33.3" height="3.2" fill="rgb(217,217,255)"/>
<rect x="900.8" y="327.1" width="33.3" height="2.4" fill="rgb(193,193,255)"/>
<rect x="900.8" y="329.2" width="33.3" height="1.0" fill="rgb(239,239,255)"/>
<rect x="900.8" y="330.0" width="33.3" height="7.4" fill="rgb(255,216,216)"/>
<rect x="900.8" y="337.1" width="33.3" height="14.6" fill="rgb(251,249,252)"/>
<rect x="900.8" y="351.3" width="33.3" height="4.6" fill="rgb(255,216,216)"/>
<rect x="900.8" y="355.6" width="33.3" height="13.1" fill="rgb(255,238,238)"/>
<rect x="900.8" y="368.4" width="33.3" height="8.9" fill="rgb(239,239,255)"/>
<rect x="900.8" y="377.0" width="33.3" height="33.3" fill="rgb(255,238,238)"/>
<rect x="900.8" y="410.0" width="33.3" height="7.4" fill="rgb(251,249,252)"/>
<rect x="900.8" y="417.1" width="33.3" height="2.4" fill="rgb(255,216,216)"/>
<rect x="900.8" y="419.3" width="33.3" height="3.2" fill="rgb(251,249,252)"/>
<rect x="900.8" y="422.1" width="33.3" height="3.2" fill="rgb(217,217,255)"/>
<rect x="900.8" y="425.0" width="33.3" height="18.1" fill="rgb(251,249,252)"/>
<rect x="900.8" y="442.8" width="33.3" height="6.7" fill="rgb(255,166,166)"/>
<rect x="900.8" y="449.2" width="33.3" height="3.9" fill="rgb(251,249,252)"/>
<rect x="900.8" y="452.8" width="33.3" height="17.4" fill="rgb(255,238,238)"/>
<rect x="900.8" y="469.9" width="33.3" height="3.9" fill="rgb(255,216,216)"/>
<rect x="900.8" y="473.4" width="33.3" height="5.3" fill="rgb(239,239,255)"/>
<rect x="900.8" y="478.4" width="33.3" height="5.3" fill="rgb(255,192,192)"/>
<rect x="900.8" y="483.4" width="33.3" height="26.9" fill="rgb(255,238,238)"/>
<rect x="900.8" y="510.0" width="33.3" height="3.9" fill="rgb(255,238,238)"/>
<rect x="900.8" y="513.6" width="33.3" height="7.4" fill="rgb(255,192,192)"/>
<rect x="900.8" y="520.7" width="33.3" height="6.0" fill="rgb(255,238,238)"/>
<rect x="900.8" y="526.4" width="33.3" height="3.2" fill="rgb(255,192,192)"/>
<rect x="900.8" y="529.2" width="33.3" height="15.3" fill="rgb(239,239,255)"/>
<rect x="900.8" y="544.2" width="33.3" height="14.6" fill="rgb(255,216,216)"/>
<rect x="900.8" y="558.5" width="33.3" height="14.6" fill="rgb(255,238,238)"/>
<rect x="900.8" y="572.7" width="33.3" height="10.3" fill="rgb(255,228,228)"/>
<rect x="900.8" y="582.7" width="33.3" height="6.7" fill="rgb(255,238,238)"/>
<rect x="900.8" y="589.1" width="33.3" height="8.1" fill="rgb(255,216,216)"/>
<rect x="900.8" y="597.0" width="33.3" height="13.3" fill="rgb(255,238,238)"/>
<rect x="900.8" y="610.0" width="33.3" height="3.2" fill="rgb(255,216,216)"/>
<rect x="900.8" y="612.9" width="33.3" height="14.6" fill="rgb(255,204,204)"/>
<rect x="900.8" y="627.1" width="33.3" height="4.6" fill="rgb(251,249,252)"/>
<rect x="900.8" y="631.4" width="33.3" height="13.1" fill="rgb(255,192,192)"/>
<rect x="900.8" y="644.2" width="33.3" height="13.1" fill="rgb(251,249,252)"/>
<rect x="900.8" y="657.0" width="33.3" height="14.6" fill="rgb(255,228,228)"/>
<rect x="900.8" y="671.3" width="33.3" height="14.6" fill="rgb(255,179,179)"/>
<rect x="900.8" y="685.6" width="33.3" height="7.4" fill="rgb(255,192,192)"/>
<rect x="900.8" y="692.7" width="33.3" height="14.6" fill="rgb(255,204,204)"/>
<rect x="900.8" y="706.9" width="33.3" height="3.2" fill="rgb(255,111,111)"/>
<rect x="900.8" y="709.8" width="33.3" height="8.9" fill="rgb(255,216,216)"/>
<rect x="900.8" y="718.3" width="33.3" height="1.5" fill="rgb(255,166,166)"/>
<rect x="933.8" y="13.6" width="33.3" height="5.3" fill="rgb(255,192,192)"/>
<rect x="933.8" y="18.6" width="33.3" height="26.0" fill="rgb(255,238,238)"/>
<rect x="933.8" y="44.2" width="33.3" height="11.7" fill="rgb(255,192,192)"/>
<rect x="933.8" y="55.6" width="33.3" height="11.0" fill="rgb(251,249,252)"/>
<rect x="933.8" y="66.3" width="33.3" height="11.0" fill="rgb(168,168,255)"/>
<rect x="933.8" y="77.0" width="33.3" height="4.6" fill="rgb(255,238,238)"/>
<rect x="933.8" y="81.3" width="33.3" height="4.6" fill="rgb(255,216,216)"/>
<rect x="933.8" y="85.6" width="33.3" height="24.7" fill="rgb(255,238,238)"/>
<rect x="933.8" y="110.0" width="33.3" height="2.4" fill="rgb(251,249,252)"/>
<rect x="933.8" y="112.1" width="33.3" height="7.4" fill="rgb(255,192,192)"/>
<rect x="933.8" y="119.3" width="33.3" height="23.8" fill="rgb(255,238,238)"/>
<rect x="933.8" y="142.8" width="33.3" height="3.2" fill="rgb(255,216,216)"/>
<rect x="933.8" y="145.6" width="33.3" height="3.9" fill="rgb(255,238,238)"/>
<rect x="933.8" y="149.2" width="33.3" height="2.4" fill="rgb(255,192,192)"/>
<rect x="933.8" y="151.3" width="33.3" height="4.6" fill="rgb(255,238,238)"/>
<rect x="933.8" y="155.6" width="33.3" height="3.9" fill="rgb(255,192,192)"/>
<rect x="933.8" y="159.2" width="33.3" height="6.7" fill="rgb(255,238,238)"/>
<rect x="933.8" y="165.6" width="33.3" height="20.3" fill="rgb(255,216,216)"/>
<rect x="933.8" y="185.6" width="33.3" height="17.4" fill="rgb(251,249,252)"/>
<rect x="933.8" y="202.7" width="33.3" height="7.6" fill="rgb(255,238,238)"/>
<rect x="933.8" y="210.0" width="33.3" height="51.6" fill="rgb(255,238,238)"/>
<rect x="933.8" y="261.3" width="33.3" height="3.9" fill="rgb(255,192,192)"/>
<rect x="933.8" y="264.9" width="33.3" height="5.3" fill="rgb(255,238,238)"/>
<rect x="933.8" y="269.9" width="33.3" height="3.9" fill="rgb(217,217,255)"/>
<rect x="933.8" y="273.4" width="33.3" height="12.4" fill="rgb(251,249,252)"/>
<rect x="933.8" y="285.6" width="33.3" height="5.3" fill="rgb(255,192,192)"/>
<rect x="933.8" y="290.5" width="33.3" height="8.1" fill="rgb(255,238,238)"/>
<rect x="933.8" y="298.4" width="33.3" height="6.0" fill="rgb(255,216,216)"/>
<rect x="933.8" y="304.1" width="33.3" height="6.2" fill="rgb(255,238,238)"/>
<rect x="933.8" y="310.0" width="33.3" height="6.0" fill="rgb(255,216,216)"/>
<rect x="933.8" y="315.7" width="33.3" height="7.4" fill="rgb(251,249,252)"/>
<rect x="933.8" y="322.8" width="33.3" height="5.3" fill="rgb(255,139,139)"/>
<rect x="933.8" y="327.8" width="33.3" height="9.6" fill="rgb(239,239,255)"/>
<rect x="933.8" y="337.1" width="33.3" height="3.9" fill="rgb(168,168,255)"/>
<rect x="933.8" y="340.6" width="33.3" height="3.9" fill="rgb(217,217,255)"/>
<rect x="933.8" y="344.2" width="33.3" height="26.0" fill="rgb(251,249,252)"/>
<rect x="933.8" y="369.9" width="33.3" height="8.9" fill="rgb(255,238,238)"/>
<rect x="933.8" y="378.4" width="33.3" height="20.3" fill="rgb(255,228,228)"/>
<rect x="933.8" y="398.4" width="33.3" height="11.9" fill="rgb(251,249,252)"/>
<rect x="933.8" y="410.0" width="33.3" height="14.6" fill="rgb(239,239,255)"/>
<rect x="933.8" y="424.3" width="33.3" height="4.6" fill="rgb(168,168,255)"/>
<rect x="933.8" y="428.5" width="33.3" height="13.8" fill="rgb(217,217,255)"/>
<rect x="933.8" y="442.1" width="33.3" height="6.7" fill="rgb(168,168,255)"/>
<rect x="933.8" y="448.5" width="33.3" height="3.9" fill="rgb(25,25,255)"/>
<rect x="933.8" y="452.1" width="33.3" height="21.0" fill="rgb(251,249,252)"/>
<rect x="933.8" y="472.7" width="33.3" height="4.6" fill="rgb(255,216,216)"/>
<rect x="933.8" y="477.0" width="33.3" height="6.7" fill="rgb(193,193,255)"/>
<rect x="933.8" y="483.4" width="33.3" height="19.5" fill="rgb(251,249,252)"/>
<rect x="933.8" y="502.7" width="33.3" height="7.6" fill="rgb(217,217,255)"/>
<rect x="933.8" y="510.0" width="33.3" height="11.7" fill="rgb(217,217,255)"/>
<rect x="933.8" y="521.4" width="33.3" height="3.2" fill="rgb(193,193,255)"/>
<rect x="933.8" y="524.3" width="33.3" height="10.3" fill="rgb(239,239,255)"/>
<rect x="933.8" y="534.2" width="33.3" height="10.3" fill="rgb(168,168,255)"/>
<rect x="933.8" y="544.2" width="33.3" height="8.9" fill="rgb(217,217,255)"/>
<rect x="933.8" y="552.8" width="33.3" height="20.3" fill="rgb(251,249,252)"/>
<rect x="933.8" y="572.7" width="33.3" height="10.3" fill="rgb(255,238,238)"/>
<rect x="933.8" y="582.7" width="33.3" height="18.8" fill="rgb(217,217,255)"/>
<rect x="933.8" y="601.2" width="33.3" height="9.1" fill="rgb(251,249,252)"/>
<rect x="933.8" y="610.0" width="33.3" height="17.4" fill="rgb(228,228,255)"/>
<rect x="933.8" y="627.1" width="33.3" height="6.0" fill="rgb(255,216,216)"/>
<rect x="933.8" y="632.8" width="33.3" height="34.5" fill="rgb(239,239,255)"/>
<rect x="933.8" y="667.0" width="33.3" height="10.3" fill="rgb(217,217,255)"/>
<rect x="933.8" y="677.0" width="33.3" height="18.8" fill="rgb(206,206,255)"/>
<rect x="933.8" y="695.5" width="33.3" height="8.9" fill="rgb(239,239,255)"/>
<rect x="933.8" y="704.1" width="33.3" height="6.0" fill="rgb(114,114,255)"/>
<rect x="933.8" y="709.8" width="33.3" height="10.0" fill="rgb(217,217,255)"/>
<rect x="966.8" y="13.6" width="33.3" height="6.7" fill="rgb(168,168,255)"/>
<rect x="966.8" y="20.0" width="33.3" height="8.1" fill="rgb(141,141,255)"/>
<rect x="966.8" y="27.8" width="33.3" height="11.0" fill="rgb(168,168,255)"/>
<rect x="966.8" y="38.5" width="33.3" height="20.3" fill="rgb(141,141,255)"/>
<rect x="966.8" y="58.5" width="33.3" height="8.1" fill="rgb(85,85,255)"/>
<rect x="966.8" y="66.3" width="33.3" height="11.0" fill="rgb(141,141,255)"/>
<rect x="966.8" y="77.0" width="33.3" height="4.6" fill="rgb(239,239,255)"/>
<rect x="966.8" y="81.3" width="33.3" height="8.9" fill="rgb(255,238,238)"/>
<rect x="966.8" y="89.8" width="33.3" height="3.2" fill="rgb(217,217,255)"/>
<rect x="966.8" y="92.7" width="33.3" height="8.9" fill="rgb(255,216,216)"/>
<rect x="966.8" y="101.2" width="33.3" height="6.7" fill="rgb(255,238,238)"/>
<rect x="966.8" y="107.6" width="33.3" height="2.7" fill="rgb(255,192,192)"/>
<rect x="966.8" y="110.0" width="33.3" height="2.4" fill="rgb(255,166,166)"/>
<rect x="966.8" y="112.1" width="33.3" height="12.4" fill="rgb(255,216,216)"/>
<rect x="966.8" y="124.3" width="33.3" height="16.0" fill="rgb(251,249,252)"/>
<rect x="966.8" y="139.9" width="33.3" height="4.6" fill="rgb(255,216,216)"/>
<rect x="966.8" y="144.2" width="33.3" height="8.9" fill="rgb(239,239,255)"/>
<rect x="966.8" y="152.8" width="33.3" height="6.0" fill="rgb(217,217,255)"/>
<rect x="966.8" y="158.5" width="33.3" height="13.1" fill="rgb(239,239,255)"/>
<rect x="966.8" y="171.3" width="33.3" height="7.4" fill="rgb(168,168,255)"/>
<rect x="966.8" y="178.4" width="33.3" height="7.4" fill="rgb(193,193,255)"/>
<rect x="966.8" y="185.6" width="33.3" height="11.7" fill="rgb(181,181,255)"/>
<rect x="966.8" y="197.0" width="33.3" height="8.9" fill="rgb(228,228,255)"/>
<rect x="966.8" y="205.5" width="33.3" height="4.8" fill="rgb(206,206,255)"/>
<rect x="966.8" y="210.0" width="33.3" height="18.8" fill="rgb(193,193,255)"/>
<rect x="966.8" y="228.5" width="33.3" height="3.2" fill="rgb(251,249,252)"/>
<rect x="966.8" y="231.4" width="33.3" height="16.7" fill="rgb(255,192,192)"/>
<rect x="966.8" y="247.8" width="33.3" height="19.5" fill="rgb(255,238,238)"/>
<rect x="966.8" y="267.0" width="33.3" height="3.2" fill="rgb(255,216,216)"/>
<rect x="966.8" y="269.9" width="33.3" height="18.8" fill="rgb(239,239,255)"/>
<rect x="966.8" y="288.4" width="33.3" height="3.9" fill="rgb(255,166,166)"/>
<rect x="966.8" y="292.0" width="33.3" height="2.4" fill="rgb(255,139,139)"/>
<rect x="966.8" y="294.1" width="33.3" height="7.4" fill="rgb(193,193,255)"/>
<rect x="966.8" y="301.2" width="33.3" height="7.4" fill="rgb(181,181,255)"/>
<rect x="966.8" y="308.4" width="33.3" height="1.9" fill="rgb(239,239,255)"/>
<rect x="966.8" y="310.0" width="33.3" height="6.0" fill="rgb(206,206,255)"/>
<rect x="966.8" y="315.7" width="33.3" height="6.0" fill="rgb(181,181,255)"/>
<rect x="966.8" y="321.4" width="33.3" height="6.0" fill="rgb(251,249,252)"/>
<rect x="966.8" y="327.1" width="33.3" height="3.2" fill="rgb(255,139,139)"/>
<rect x="966.8" y="330.0" width="33.3" height="5.3" fill="rgb(255,192,192)"/>
<rect x="966.8" y="334.9" width="33.3" height="3.2" fill="rgb(255,111,111)"/>
<rect x="966.8" y="337.8" width="33.3" height="11.0" fill="rgb(255,192,192)"/>
<rect x="966.8" y="348.5" width="33.3" height="31.7" fill="rgb(255,216,216)"/>
<rect x="966.8" y="379.9" width="33.3" height="3.2" fill="rgb(255,166,166)"/>
<rect x="966.8" y="382.7" width="33.3" height="16.0" fill="rgb(255,204,204)"/>
<rect x="966.8" y="398.4" width="33.3" height="10.3" fill="rgb(255,192,192)"/>
<rect x="966.8" y="408.4" width="33.3" height="1.9" fill="rgb(255,238,238)"/>
<rect x="966.8" y="410.0" width="33.3" height="4.6" fill="rgb(255,216,216)"/>
<rect x="966.8" y="414.3" width="33.3" height="3.9" fill="rgb(255,179,179)"/>
<rect x="966.8" y="417.8" width="33.3" height="6.0" fill="rgb(255,192,192)"/>
<rect x="966.8" y="423.5" width="33.3" height="5.3" fill="rgb(255,166,166)"/>
<rect x="966.8" y="428.5" width="33.3" height="11.7" fill="rgb(255,192,192)"/>
<rect x="966.8" y="439.9" width="33.3" height="3.9" fill="rgb(255,111,111)"/>
<rect x="966.8" y="443.5" width="33.3" height="6.0" fill="rgb(251,249,252)"/>
<rect x="966.8" y="449.2" width="33.3" height="3.9" fill="rgb(217,217,255)"/>
<rect x="966.8" y="452.8" width="33.3" height="13.8" fill="rgb(255,238,238)"/>
<rect x="966.8" y="466.3" width="33.3" height="12.4" fill="rgb(206,206,255)"/>
<rect x="966.8" y="478.4" width="33.3" height="4.6" fill="rgb(251,249,252)"/>
<rect x="966.8" y="482.7" width="33.3" height="7.4" fill="rgb(255,216,216)"/>
<rect x="966.8" y="489.8" width="33.3" height="13.1" fill="rgb(255,238,238)"/>
<rect x="966.8" y="502.7" width="33.3" height="7.6" fill="rgb(193,193,255)"/>
<rect x="966.8" y="510.0" width="33.3" height="23.8" fill="rgb(228,228,255)"/>
<rect x="966.8" y="533.5" width="33.3" height="11.0" fill="rgb(141,141,255)"/>
<rect x="966.8" y="544.2" width="33.3" height="9.6" fill="rgb(255,216,216)"/>
<rect x="966.8" y="553.5" width="33.3" height="18.1" fill="rgb(251,249,252)"/>
<rect x="966.8" y="571.3" width="33.3" height="9.6" fill="rgb(255,238,238)"/>
<rect x="966.8" y="580.6" width="33.3" height="3.9" fill="rgb(255,192,192)"/>
<rect x="966.8" y="584.1" width="33.3" height="8.9" fill="rgb(255,238,238)"/>
<rect x="966.8" y="592.7" width="33.3" height="17.6" fill="rgb(255,204,204)"/>
<rect x="966.8" y="610.0" width="33.3" height="18.8" fill="rgb(255,238,238)"/>
<rect x="966.8" y="628.5" width="33.3" height="8.9" fill="rgb(251,249,252)"/>
<rect x="966.8" y="637.1" width="33.3" height="8.9" fill="rgb(168,168,255)"/>
<rect x="966.8" y="645.6" width="33.3" height="7.4" fill="rgb(206,206,255)"/>
<rect x="966.8" y="652.8" width="33.3" height="14.6" fill="rgb(181,181,255)"/>
<rect x="966.8" y="667.0" width="33.3" height="10.3" fill="rgb(217,217,255)"/>
<rect x="966.8" y="677.0" width="33.3" height="13.1" fill="rgb(181,181,255)"/>
<rect x="966.8" y="689.8" width="33.3" height="11.7" fill="rgb(251,249,252)"/>
<rect x="966.8" y="701.2" width="33.3" height="3.2" fill="rgb(181,181,255)"/>
<rect x="966.8" y="704.1" width="33.3" height="6.0" fill="rgb(190,118,165)"/>
<rect x="966.8" y="709.8" width="33.3" height="10.0" fill="rgb(255,238,238)"/>
<rect x="999.8" y="13.6" width="33.3" height="7.4" fill="rgb(255,192,192)"/>
<rect x="999.8" y="20.7" width="33.3" height="30.9" fill="rgb(255,228,228)"/>
<rect x="999.8" y="51.3" width="33.3" height="5.3" fill="rgb(255,192,192)"/>
<rect x="999.8" y="56.3" width="33.3" height="2.4" fill="rgb(255,166,166)"/>
<rect x="999.8" y="58.5" width="33.3" height="8.1" fill="rgb(255,192,192)"/>
<rect x="999.8" y="66.3" width="33.3" height="11.7" fill="rgb(239,239,255)"/>
<rect x="999.8" y="77.7" width="33.3" height="3.9" fill="rgb(255,192,192)"/>
<rect x="999.8" y="81.3" width="33.3" height="10.3" fill="rgb(255,216,216)"/>
<rect x="999.8" y="91.3" width="33.3" height="19.0" fill="rgb(255,238,238)"/>
<rect x="999.8" y="110.0" width="33.3" height="10.3" fill="rgb(255,248,248)"/>
<rect x="999.8" y="120.0" width="33.3" height="8.1" fill="rgb(255,204,204)"/>
<rect x="999.8" y="127.8" width="33.3" height="26.0" fill="rgb(255,192,192)"/>
<rect x="999.8" y="153.5" width="33.3" height="2.4" fill="rgb(255,166,166)"/>
<rect x="999.8" y="155.6" width="33.3" height="9.6" fill="rgb(255,238,238)"/>
<rect x="999.8" y="164.9" width="33.3" height="7.4" fill="rgb(255,192,192)"/>
<rect x="999.8" y="172.0" width="33.3" height="11.0" fill="rgb(255,228,228)"/>
<rect x="999.8" y="182.7" width="33.3" height="3.2" fill="rgb(255,166,166)"/>
<rect x="999.8" y="185.6" width="33.3" height="24.7" fill="rgb(255,238,238)"/>
<rect x="999.8" y="210.0" width="33.3" height="17.4" fill="rgb(255,238,238)"/>
<rect x="999.8" y="227.1" width="33.3" height="6.7" fill="rgb(255,192,192)"/>
<rect x="999.8" y="233.5" width="33.3" height="16.0" fill="rgb(255,216,216)"/>
<rect x="999.8" y="249.2" width="33.3" height="6.7" fill="rgb(255,204,204)"/>
<rect x="999.8" y="255.6" width="33.3" height="8.1" fill="rgb(255,179,179)"/>
<rect x="999.8" y="263.5" width="33.3" height="7.4" fill="rgb(255,238,238)"/>
<rect x="999.8" y="270.6" width="33.3" height="3.2" fill="rgb(255,166,166)"/>
<rect x="999.8" y="273.4" width="33.3" height="9.6" fill="rgb(251,249,252)"/>
<rect x="999.8" y="282.7" width="33.3" height="4.6" fill="rgb(255,216,216)"/>
<rect x="999.8" y="287.0" width="33.3" height="6.0" fill="rgb(251,249,252)"/>
<rect x="999.8" y="292.7" width="33.3" height="17.6" fill="rgb(255,228,228)"/>
<rect x="999.8" y="310.0" width="33.3" height="18.8" fill="rgb(255,238,238)"/>
<rect x="999.8" y="328.5" width="33.3" height="30.2" fill="rgb(217,217,255)"/>
<rect x="999.8" y="358.5" width="33.3" height="21.7" fill="rgb(251,249,252)"/>
<rect x="999.8" y="379.9" width="33.3" height="16.0" fill="rgb(217,217,255)"/>
<rect x="999.8" y="395.5" width="33.3" height="14.8" fill="rgb(239,239,255)"/>
<rect x="999.8" y="410.0" width="33.3" height="12.4" fill="rgb(255,238,238)"/>
<rect x="999.8" y="422.1" width="33.3" height="2.4" fill="rgb(141,141,255)"/>
<rect x="999.8" y="424.3" width="33.3" height="16.7" fill="rgb(239,239,255)"/>
<rect x="999.8" y="440.6" width="33.3" height="8.1" fill="rgb(181,181,255)"/>
<rect x="999.8" y="448.5" width="33.3" height="8.9" fill="rgb(239,239,255)"/>
<rect x="999.8" y="457.0" width="33.3" height="16.0" fill="rgb(255,238,238)"/>
<rect x="999.8" y="472.7" width="33.3" height="10.3" fill="rgb(239,239,255)"/>
<rect x="999.8" y="482.7" width="33.3" height="14.6" fill="rgb(193,193,255)"/>
<rect x="999.8" y="497.0" width="33.3" height="13.3" fill="rgb(251,249,252)"/>
<rect x="999.8" y="510.0" width="33.3" height="8.9" fill="rgb(228,228,255)"/>
<rect x="999.8" y="518.6" width="33.3" height="15.3" fill="rgb(251,249,252)"/>
<rect x="999.8" y="533.5" width="33.3" height="16.7" fill="rgb(239,239,255)"/>
<rect x="999.8" y="549.9" width="33.3" height="31.7" fill="rgb(251,249,252)"/>
<rect x="999.8" y="581.3" width="33.3" height="21.7" fill="rgb(217,217,255)"/>
<rect x="999.8" y="602.7" width="33.3" height="7.6" fill="rgb(239,239,255)"/>
<rect x="999.8" y="610.0" width="33.3" height="18.8" fill="rgb(217,217,255)"/>
<rect x="999.8" y="628.5" width="33.3" height="9.6" fill="rgb(193,193,255)"/>
<rect x="999.8" y="637.8" width="33.3" height="29.5" fill="rgb(251,249,252)"/>
<rect x="999.8" y="667.0" width="33.3" height="10.3" fill="rgb(255,238,238)"/>
<rect x="999.8" y="677.0" width="33.3" height="7.4" fill="rgb(251,249,252)"/>
<rect x="999.8" y="684.1" width="33.3" height="8.9" fill="rgb(193,193,255)"/>
<rect x="999.8" y="692.7" width="33.3" height="8.9" fill="rgb(217,217,255)"/>
<rect x="999.8" y="701.2" width="33.3" height="6.0" fill="rgb(255,238,238)"/>
<rect x="999.8" y="706.9" width="33.3" height="6.0" fill="rgb(217,217,255)"/>
<rect x="999.8" y="712.6" width="33.3" height="6.0" fill="rgb(251,249,252)"/>
<rect x="999.8" y="718.3" width="33.3" height="1.5" fill="rgb(168,168,255)"/>
<rect x="1032.8" y="13.6" width="33.3" height="5.3" fill="rgb(251,249,252)"/>
<rect x="1032.8" y="18.6" width="33.3" height="31.7" fill="rgb(239,239,255)"/>
<rect x="1032.8" y="49.9" width="33.3" height="6.7" fill="rgb(193,193,255)"/>
<rect x="1032.8" y="56.3" width="33.3" height="3.2" fill="rgb(251,249,252)"/>
<rect x="1032.8" y="59.2" width="33.3" height="7.4" fill="rgb(255,139,139)"/>
<rect x="1032.8" y="66.3" width="33.3" height="11.7" fill="rgb(255,192,192)"/>
<rect x="1032.8" y="77.7" width="33.3" height="4.6" fill="rgb(255,166,166)"/>
<rect x="1032.8" y="82.0" width="33.3" height="8.9" fill="rgb(255,238,238)"/>
<rect x="1032.8" y="90.5" width="33.3" height="5.3" fill="rgb(255,139,139)"/>
<rect x="1032.8" y="95.5" width="33.3" height="14.8" fill="rgb(193,193,255)"/>
<rect x="1032.8" y="110.0" width="33.3" height="13.1" fill="rgb(168,168,255)"/>
<rect x="1032.8" y="122.8" width="33.3" height="6.0" fill="rgb(141,141,255)"/>
<rect x="1032.8" y="128.5" width="33.3" height="12.4" fill="rgb(239,239,255)"/>
<rect x="1032.8" y="140.6" width="33.3" height="6.7" fill="rgb(217,217,255)"/>
<rect x="1032.8" y="147.1" width="33.3" height="2.4" fill="rgb(168,168,255)"/>
<rect x="1032.8" y="149.2" width="33.3" height="6.7" fill="rgb(193,193,255)"/>
<rect x="1032.8" y="155.6" width="33.3" height="4.6" fill="rgb(239,239,255)"/>
<rect x="1032.8" y="159.9" width="33.3" height="1.7" fill="rgb(217,217,255)"/>
<rect x="1032.8" y="161.3" width="33.3" height="11.7" fill="rgb(251,249,252)"/>
<rect x="1032.8" y="172.7" width="33.3" height="8.9" fill="rgb(239,239,255)"/>
<rect x="1032.8" y="181.3" width="33.3" height="29.0" fill="rgb(251,249,252)"/>
<rect x="1032.8" y="210.0" width="33.3" height="6.0" fill="rgb(255,238,238)"/>
<rect x="1032.8" y="215.7" width="33.3" height="12.4" fill="rgb(251,249,252)"/>
<rect x="1032.8" y="227.8" width="33.3" height="21.0" fill="rgb(193,193,255)"/>
<rect x="1032.8" y="248.5" width="33.3" height="4.6" fill="rgb(168,168,255)"/>
<rect x="1032.8" y="252.8" width="33.3" height="11.7" fill="rgb(206,206,255)"/>
<rect x="1032.8" y="264.2" width="33.3" height="6.0" fill="rgb(251,249,252)"/>
<rect x="1032.8" y="269.9" width="33.3" height="3.2" fill="rgb(217,217,255)"/>
<rect x="1032.8" y="272.7" width="33.3" height="4.6" fill="rgb(251,249,252)"/>
<rect x="1032.8" y="277.0" width="33.3" height="16.0" fill="rgb(217,217,255)"/>
<rect x="1032.8" y="292.7" width="33.3" height="10.3" fill="rgb(193,193,255)"/>
<rect x="1032.8" y="302.7" width="33.3" height="5.3" fill="rgb(239,239,255)"/>
<rect x="1032.8" y="307.6" width="33.3" height="2.7" fill="rgb(168,168,255)"/>
<rect x="1032.8" y="310.0" width="33.3" height="7.4" fill="rgb(217,217,255)"/>
<rect x="1032.8" y="317.1" width="33.3" height="2.4" fill="rgb(251,249,252)"/>
<rect x="1032.8" y="319.3" width="33.3" height="15.3" fill="rgb(168,168,255)"/>
<rect x="1032.8" y="334.2" width="33.3" height="6.7" fill="rgb(217,217,255)"/>
<rect x="1032.8" y="340.6" width="33.3" height="4.6" fill="rgb(251,249,252)"/>
<rect x="1032.8" y="344.9" width="33.3" height="18.1" fill="rgb(228,228,255)"/>
<rect x="1032.8" y="362.7" width="33.3" height="7.4" fill="rgb(206,206,255)"/>
<rect x="1032.8" y="369.9" width="33.3" height="10.3" fill="rgb(239,239,255)"/>
<rect x="1032.8" y="379.9" width="33.3" height="6.0" fill="rgb(168,168,255)"/>
<rect x="1032.8" y="385.6" width="33.3" height="24.7" fill="rgb(193,193,255)"/>
<rect x="1032.8" y="410.0" width="33.3" height="14.6" fill="rgb(217,217,255)"/>
<rect x="1032.8" y="424.3" width="33.3" height="6.0" fill="rgb(255,216,216)"/>
<rect x="1032.8" y="430.0" width="33.3" height="6.7" fill="rgb(251,249,252)"/>
<rect x="1032.8" y="436.4" width="33.3" height="13.8" fill="rgb(255,216,216)"/>
<rect x="1032.8" y="449.9" width="33.3" height="3.2" fill="rgb(255,192,192)"/>
<rect x="1032.8" y="452.8" width="33.3" height="14.6" fill="rgb(255,238,238)"/>
<rect x="1032.8" y="467.0" width="33.3" height="6.0" fill="rgb(255,192,192)"/>
<rect x="1032.8" y="472.7" width="33.3" height="11.0" fill="rgb(255,216,216)"/>
<rect x="1032.8" y="483.4" width="33.3" height="12.4" fill="rgb(255,192,192)"/>
<rect x="1032.8" y="495.5" width="33.3" height="8.9" fill="rgb(255,192,192)"/>
<rect x="1032.8" y="504.1" width="33.3" height="6.2" fill="rgb(255,166,166)"/>
<rect x="1032.8" y="510.0" width="33.3" height="8.9" fill="rgb(255,192,192)"/>
<rect x="1032.8" y="518.6" width="33.3" height="4.6" fill="rgb(255,238,238)"/>
<rect x="1032.8" y="522.8" width="33.3" height="11.7" fill="rgb(255,153,153)"/>
<rect x="1032.8" y="534.2" width="33.3" height="9.6" fill="rgb(255,192,192)"/>
<rect x="1032.8" y="543.5" width="33.3" height="2.4" fill="rgb(255,166,166)"/>
<rect x="1032.8" y="545.6" width="33.3" height="14.6" fill="rgb(255,192,192)"/>
<rect x="1032.8" y="559.9" width="33.3" height="4.6" fill="rgb(251,249,252)"/>
<rect x="1032.8" y="564.2" width="33.3" height="11.7" fill="rgb(255,238,238)"/>
<rect x="1032.8" y="575.6" width="33.3" height="34.7" fill="rgb(251,249,252)"/>
<rect x="1032.8" y="610.0" width="33.3" height="20.3" fill="rgb(255,238,238)"/>
<rect x="1032.8" y="630.0" width="33.3" height="3.2" fill="rgb(255,179,179)"/>
<rect x="1032.8" y="632.8" width="33.3" height="34.5" fill="rgb(255,204,204)"/>
<rect x="1032.8" y="667.0" width="33.3" height="11.7" fill="rgb(255,238,238)"/>
<rect x="1032.8" y="678.4" width="33.3" height="7.4" fill="rgb(255,216,216)"/>
<rect x="1032.8" y="685.6" width="33.3" height="6.0" fill="rgb(251,249,252)"/>
<rect x="1032.8" y="691.3" width="33.3" height="1.7" fill="rgb(217,217,255)"/>
<rect x="1032.8" y="692.7" width="33.3" height="10.3" fill="rgb(251,249,252)"/>
<rect x="1032.8" y="702.7" width="33.3" height="3.2" fill="rgb(114,114,255)"/>
<rect x="1032.8" y="705.5" width="33.3" height="3.2" fill="rgb(251,249,252)"/>
<rect x="1032.8" y="708.4" width="33.3" height="11.4" fill="rgb(255,81,81)"/>
<rect x="1200.3" y="13.6" width="33.2" height="3.1" fill="rgb(239,239,255)"/>
<rect x="1200.3" y="16.4" width="33.2" height="3.9" fill="rgb(251,249,252)"/>
<rect x="1200.3" y="20.0" width="33.2" height="2.4" fill="rgb(141,141,255)"/>
<rect x="1200.3" y="22.1" width="33.2" height="13.8" fill="rgb(251,249,252)"/>
<rect x="1200.3" y="35.7" width="33.2" height="43.1" fill="rgb(248,248,255)"/>
<rect x="1200.3" y="78.4" width="33.2" height="4.6" fill="rgb(228,228,255)"/>
<rect x="1200.3" y="82.7" width="33.2" height="16.0" fill="rgb(251,249,252)"/>
<rect x="1200.3" y="98.4" width="33.2" height="11.9" fill="rgb(228,228,255)"/>
<rect x="1200.3" y="110.0" width="33.2" height="6.0" fill="rgb(239,239,255)"/>
<rect x="1200.3" y="115.7" width="33.2" height="3.2" fill="rgb(228,228,255)"/>
<rect x="1200.3" y="118.6" width="33.2" height="11.7" fill="rgb(251,249,252)"/>
<rect x="1200.3" y="130.0" width="33.2" height="23.1" fill="rgb(228,228,255)"/>
<rect x="1200.3" y="152.8" width="33.2" height="6.0" fill="rgb(251,249,252)"/>
<rect x="1200.3" y="158.5" width="33.2" height="3.9" fill="rgb(217,217,255)"/>
<rect x="1200.3" y="162.0" width="33.2" height="22.4" fill="rgb(228,228,255)"/>
<rect x="1200.3" y="184.1" width="33.2" height="7.4" fill="rgb(251,249,252)"/>
<rect x="1200.3" y="191.3" width="33.2" height="4.6" fill="rgb(228,228,255)"/>
<rect x="1200.3" y="195.5" width="33.2" height="3.2" fill="rgb(251,249,252)"/>
<rect x="1200.3" y="198.4" width="33.2" height="3.2" fill="rgb(255,216,216)"/>
<rect x="1200.3" y="201.2" width="33.2" height="2.4" fill="rgb(251,249,252)"/>
<rect x="1200.3" y="203.4" width="33.2" height="3.2" fill="rgb(217,217,255)"/>
<rect x="1200.3" y="206.2" width="33.2" height="4.1" fill="rgb(255,216,216)"/>
<rect x="1200.3" y="210.0" width="33.2" height="5.3" fill="rgb(251,249,252)"/>
<rect x="1200.3" y="215.0" width="33.2" height="3.9" fill="rgb(255,228,228)"/>
<rect x="1200.3" y="218.6" width="33.2" height="2.4" fill="rgb(255,192,192)"/>
<rect x="1200.3" y="220.7" width="33.2" height="16.7" fill="rgb(255,248,248)"/>
<rect x="1200.3" y="237.1" width="33.2" height="8.9" fill="rgb(168,168,255)"/>
<rect x="1200.3" y="245.6" width="33.2" height="4.6" fill="rgb(251,249,252)"/>
<rect x="1200.3" y="249.9" width="33.2" height="13.1" fill="rgb(255,216,216)"/>
<rect x="1200.3" y="262.7" width="33.2" height="18.8" fill="rgb(255,238,238)"/>
<rect x="1200.3" y="281.3" width="33.2" height="8.9" fill="rgb(239,239,255)"/>
<rect x="1200.3" y="289.8" width="33.2" height="20.5" fill="rgb(251,249,252)"/>
<rect x="1200.3" y="310.0" width="33.2" height="6.0" fill="rgb(255,238,238)"/>
<rect x="1200.3" y="315.7" width="33.2" height="47.3" fill="rgb(248,248,255)"/>
<rect x="1200.3" y="362.7" width="33.2" height="3.2" fill="rgb(228,228,255)"/>
<rect x="1200.3" y="365.6" width="33.2" height="7.4" fill="rgb(248,248,255)"/>
<rect x="1200.3" y="372.7" width="33.2" height="14.6" fill="rgb(255,216,216)"/>
<rect x="1200.3" y="387.0" width="33.2" height="6.0" fill="rgb(255,238,238)"/>
<rect x="1200.3" y="392.7" width="33.2" height="8.9" fill="rgb(228,228,255)"/>
<rect x="1200.3" y="401.2" width="33.2" height="3.2" fill="rgb(255,228,228)"/>
<rect x="1200.3" y="404.1" width="33.2" height="6.2" fill="rgb(251,249,252)"/>
<rect x="1200.3" y="410.0" width="33.2" height="33.1" fill="rgb(255,248,248)"/>
<rect x="1200.3" y="442.8" width="33.2" height="21.7" fill="rgb(248,248,255)"/>
<rect x="1200.3" y="464.2" width="33.2" height="17.4" fill="rgb(255,248,248)"/>
<rect x="1200.3" y="481.3" width="33.2" height="4.6" fill="rgb(255,238,238)"/>
<rect x="1200.3" y="485.6" width="33.2" height="4.6" fill="rgb(255,204,204)"/>
<rect x="1200.3" y="489.8" width="33.2" height="8.9" fill="rgb(255,228,228)"/>
<rect x="1200.3" y="498.4" width="33.2" height="4.6" fill="rgb(255,204,204)"/>
<rect x="1200.3" y="502.7" width="33.2" height="7.6" fill="rgb(255,238,238)"/>
<rect x="1200.3" y="510.0" width="33.2" height="3.2" fill="rgb(255,228,228)"/>
<rect x="1200.3" y="512.9" width="33.2" height="10.3" fill="rgb(255,238,238)"/>
<rect x="1200.3" y="522.8" width="33.2" height="6.0" fill="rgb(251,249,252)"/>
<rect x="1200.3" y="528.5" width="33.2" height="8.9" fill="rgb(255,228,228)"/>
<rect x="1200.3" y="537.1" width="33.2" height="10.3" fill="rgb(255,238,238)"/>
<rect x="1200.3" y="547.1" width="33.2" height="8.9" fill="rgb(255,216,216)"/>
<rect x="1200.3" y="555.6" width="33.2" height="6.0" fill="rgb(248,248,255)"/>
<rect x="1200.3" y="561.3" width="33.2" height="14.6" fill="rgb(255,248,248)"/>
<rect x="1200.3" y="575.6" width="33.2" height="3.2" fill="rgb(239,239,255)"/>
<rect x="1200.3" y="578.4" width="33.2" height="31.9" fill="rgb(239,239,255)"/>
<rect x="1200.3" y="610.0" width="33.2" height="54.5" fill="rgb(239,239,255)"/>
<rect x="1200.3" y="664.2" width="33.2" height="3.2" fill="rgb(251,249,252)"/>
<rect x="1200.3" y="667.0" width="33.2" height="4.6" fill="rgb(217,217,255)"/>
<rect x="1200.3" y="671.3" width="33.2" height="4.6" fill="rgb(255,248,248)"/>
<rect x="1200.3" y="675.6" width="33.2" height="2.4" fill="rgb(255,228,228)"/>
<rect x="1200.3" y="677.7" width="33.2" height="11.0" fill="rgb(239,239,255)"/>
<rect x="1200.3" y="688.4" width="33.2" height="7.4" fill="rgb(255,248,248)"/>
<rect x="1200.3" y="695.5" width="33.2" height="18.8" fill="rgb(248,248,255)"/>
<rect x="1200.3" y="714.1" width="33.2" height="4.6" fill="rgb(228,228,255)"/>
<rect x="1200.3" y="718.3" width="33.2" height="2.2" fill="rgb(239,239,255)"/>
<rect x="1233.2" y="13.6" width="33.2" height="6.7" fill="rgb(251,249,252)"/>
<rect x="1233.2" y="20.0" width="33.2" height="2.4" fill="rgb(255,238,238)"/>
<rect x="1233.2" y="22.1" width="33.2" height="18.8" fill="rgb(255,228,228)"/>
<rect x="1233.2" y="40.6" width="33.2" height="58.0" fill="rgb(255,248,248)"/>
<rect x="1233.2" y="98.4" width="33.2" height="3.2" fill="rgb(255,228,228)"/>
<rect x="1233.2" y="101.2" width="33.2" height="9.1" fill="rgb(251,249,252)"/>
<rect x="1233.2" y="110.0" width="33.2" height="8.9" fill="rgb(251,249,252)"/>
<rect x="1233.2" y="118.6" width="33.2" height="3.9" fill="rgb(239,239,255)"/>
<rect x="1233.2" y="122.1" width="33.2" height="3.2" fill="rgb(206,206,255)"/>
<rect x="1233.2" y="125.0" width="33.2" height="16.7" fill="rgb(255,216,216)"/>
<rect x="1233.2" y="141.4" width="33.2" height="6.0" fill="rgb(255,204,204)"/>
<rect x="1233.2" y="147.1" width="33.2" height="11.7" fill="rgb(255,238,238)"/>
<rect x="1233.2" y="158.5" width="33.2" height="3.9" fill="rgb(255,204,204)"/>
<rect x="1233.2" y="162.0" width="33.2" height="15.3" fill="rgb(255,238,238)"/>
<rect x="1233.2" y="177.0" width="33.2" height="17.4" fill="rgb(255,216,216)"/>
<rect x="1233.2" y="194.1" width="33.2" height="8.9" fill="rgb(251,249,252)"/>
<rect x="1233.2" y="202.7" width="33.2" height="2.4" fill="rgb(255,238,238)"/>
<rect x="1233.2" y="204.8" width="33.2" height="3.2" fill="rgb(255,166,166)"/>
<rect x="1233.2" y="207.6" width="33.2" height="2.7" fill="rgb(255,216,216)"/>
<rect x="1233.2" y="210.0" width="33.2" height="4.6" fill="rgb(255,248,248)"/>
<rect x="1233.2" y="214.3" width="33.2" height="4.6" fill="rgb(255,204,204)"/>
<rect x="1233.2" y="218.6" width="33.2" height="2.4" fill="rgb(251,249,252)"/>
<rect x="1233.2" y="220.7" width="33.2" height="13.8" fill="rgb(193,193,255)"/>
<rect x="1233.2" y="234.2" width="33.2" height="3.2" fill="rgb(251,249,252)"/>
<rect x="1233.2" y="237.1" width="33.2" height="3.2" fill="rgb(193,193,255)"/>
<rect x="1233.2" y="239.9" width="33.2" height="6.0" fill="rgb(255,238,238)"/>
<rect x="1233.2" y="245.6" width="33.2" height="4.6" fill="rgb(228,228,255)"/>
<rect x="1233.2" y="249.9" width="33.2" height="4.6" fill="rgb(168,168,255)"/>
<rect x="1233.2" y="254.2" width="33.2" height="18.8" fill="rgb(217,217,255)"/>
<rect x="1233.2" y="272.7" width="33.2" height="7.4" fill="rgb(206,206,255)"/>
<rect x="1233.2" y="279.9" width="33.2" height="3.2" fill="rgb(251,249,252)"/>
<rect x="1233.2" y="282.7" width="33.2" height="27.6" fill="rgb(255,216,216)"/>
<rect x="1233.2" y="310.0" width="33.2" height="3.2" fill="rgb(255,216,216)"/>
<rect x="1233.2" y="312.9" width="33.2" height="58.7" fill="rgb(255,228,228)"/>
<rect x="1233.2" y="371.3" width="33.2" height="23.1" fill="rgb(251,249,252)"/>
<rect x="1233.2" y="394.1" width="33.2" height="7.4" fill="rgb(255,204,204)"/>
<rect x="1233.2" y="401.2" width="33.2" height="9.1" fill="rgb(193,193,255)"/>
<rect x="1233.2" y="410.0" width="33.2" height="14.6" fill="rgb(228,228,255)"/>
<rect x="1233.2" y="424.3" width="33.2" height="16.0" fill="rgb(217,217,255)"/>
<rect x="1233.2" y="439.9" width="33.2" height="13.1" fill="rgb(228,228,255)"/>
<rect x="1233.2" y="452.8" width="33.2" height="8.9" fill="rgb(217,217,255)"/>
<rect x="1233.2" y="461.3" width="33.2" height="26.0" fill="rgb(228,228,255)"/>
<rect x="1233.2" y="487.0" width="33.2" height="23.3" fill="rgb(248,248,255)"/>
<rect x="1233.2" y="510.0" width="33.2" height="11.7" fill="rgb(251,249,252)"/>
<rect x="1233.2" y="521.4" width="33.2" height="16.0" fill="rgb(228,228,255)"/>
<rect x="1233.2" y="537.1" width="33.2" height="7.4" fill="rgb(255,204,204)"/>
<rect x="1233.2" y="544.2" width="33.2" height="17.4" fill="rgb(255,238,238)"/>
<rect x="1233.2" y="561.3" width="33.2" height="4.6" fill="rgb(228,228,255)"/>
<rect x="1233.2" y="565.6" width="33.2" height="16.0" fill="rgb(251,249,252)"/>
<rect x="1233.2" y="581.3" width="33.2" height="29.0" fill="rgb(255,248,248)"/>
<rect x="1233.2" y="610.0" width="33.2" height="53.0" fill="rgb(255,244,244)"/>
<rect x="1233.2" y="662.7" width="33.2" height="11.7" fill="rgb(251,249,252)"/>
<rect x="1233.2" y="674.1" width="33.2" height="14.6" fill="rgb(255,238,238)"/>
<rect x="1233.2" y="688.4" width="33.2" height="4.6" fill="rgb(85,85,255)"/>
<rect x="1233.2" y="692.7" width="33.2" height="4.6" fill="rgb(25,25,255)"/>
<rect x="1233.2" y="697.0" width="33.2" height="13.1" fill="rgb(40,40,255)"/>
<rect x="1233.2" y="709.8" width="33.2" height="4.6" fill="rgb(55,55,255)"/>
<rect x="1233.2" y="714.1" width="33.2" height="6.4" fill="rgb(25,25,255)"/>
<rect x="1266.2" y="13.6" width="33.2" height="2.4" fill="rgb(251,249,252)"/>
<rect x="1266.2" y="15.7" width="33.2" height="3.2" fill="rgb(206,206,255)"/>
<rect x="1266.2" y="18.6" width="33.2" height="23.1" fill="rgb(228,228,255)"/>
<rect x="1266.2" y="41.4" width="33.2" height="37.4" fill="rgb(239,239,255)"/>
<rect x="1266.2" y="78.4" width="33.2" height="1.7" fill="rgb(255,238,238)"/>
<rect x="1266.2" y="79.9" width="33.2" height="4.6" fill="rgb(228,228,255)"/>
<rect x="1266.2" y="84.1" width="33.2" height="26.2" fill="rgb(239,239,255)"/>
<rect x="1266.2" y="110.0" width="33.2" height="14.6" fill="rgb(239,239,255)"/>
<rect x="1266.2" y="124.3" width="33.2" height="10.3" fill="rgb(228,228,255)"/>
<rect x="1266.2" y="134.2" width="33.2" height="18.8" fill="rgb(251,249,252)"/>
<rect x="1266.2" y="152.8" width="33.2" height="27.4" fill="rgb(228,228,255)"/>
<rect x="1266.2" y="179.9" width="33.2" height="4.6" fill="rgb(251,249,252)"/>
<rect x="1266.2" y="184.1" width="33.2" height="17.4" fill="rgb(248,248,255)"/>
<rect x="1266.2" y="201.2" width="33.2" height="9.1" fill="rgb(217,217,255)"/>
<rect x="1266.2" y="210.0" width="33.2" height="6.0" fill="rgb(255,248,248)"/>
<rect x="1266.2" y="215.7" width="33.2" height="3.2" fill="rgb(228,228,255)"/>
<rect x="1266.2" y="218.6" width="33.2" height="3.9" fill="rgb(251,249,252)"/>
<rect x="1266.2" y="222.1" width="33.2" height="11.0" fill="rgb(255,179,179)"/>
<rect x="1266.2" y="232.8" width="33.2" height="30.2" fill="rgb(255,228,228)"/>
<rect x="1266.2" y="262.7" width="33.2" height="7.4" fill="rgb(251,249,252)"/>
<rect x="1266.2" y="269.9" width="33.2" height="8.9" fill="rgb(239,239,255)"/>
<rect x="1266.2" y="278.4" width="33.2" height="4.6" fill="rgb(206,206,255)"/>
<rect x="1266.2" y="282.7" width="33.2" height="7.4" fill="rgb(251,249,252)"/>
<rect x="1266.2" y="289.8" width="33.2" height="11.7" fill="rgb(239,239,255)"/>
<rect x="1266.2" y="301.2" width="33.2" height="9.1" fill="rgb(251,249,252)"/>
<rect x="1266.2" y="310.0" width="33.2" height="7.4" fill="rgb(228,228,255)"/>
<rect x="1266.2" y="317.1" width="33.2" height="20.3" fill="rgb(251,249,252)"/>
<rect x="1266.2" y="337.1" width="33.2" height="10.3" fill="rgb(228,228,255)"/>
<rect x="1266.2" y="347.1" width="33.2" height="26.0" fill="rgb(251,249,252)"/>
<rect x="1266.2" y="372.7" width="33.2" height="3.2" fill="rgb(255,238,238)"/>
<rect x="1266.2" y="375.6" width="33.2" height="10.3" fill="rgb(255,248,248)"/>
<rect x="1266.2" y="385.6" width="33.2" height="7.4" fill="rgb(217,217,255)"/>
<rect x="1266.2" y="392.7" width="33.2" height="8.9" fill="rgb(251,249,252)"/>
<rect x="1266.2" y="401.2" width="33.2" height="9.1" fill="rgb(255,238,238)"/>
<rect x="1266.2" y="410.0" width="33.2" height="4.6" fill="rgb(255,238,238)"/>
<rect x="1266.2" y="414.3" width="33.2" height="28.8" fill="rgb(251,249,252)"/>
<rect x="1266.2" y="442.8" width="33.2" height="17.4" fill="rgb(255,248,248)"/>
<rect x="1266.2" y="459.9" width="33.2" height="27.4" fill="rgb(255,238,238)"/>
<rect x="1266.2" y="487.0" width="33.2" height="8.9" fill="rgb(248,248,255)"/>
<rect x="1266.2" y="495.5" width="33.2" height="6.0" fill="rgb(251,249,252)"/>
<rect x="1266.2" y="501.2" width="33.2" height="9.1" fill="rgb(255,228,228)"/>
<rect x="1266.2" y="510.0" width="33.2" height="27.4" fill="rgb(255,228,228)"/>
<rect x="1266.2" y="537.1" width="33.2" height="10.3" fill="rgb(248,248,255)"/>
<rect x="1266.2" y="547.1" width="33.2" height="3.2" fill="rgb(255,228,228)"/>
<rect x="1266.2" y="549.9" width="33.2" height="17.4" fill="rgb(255,238,238)"/>
<rect x="1266.2" y="567.0" width="33.2" height="14.6" fill="rgb(251,249,252)"/>
<rect x="1266.2" y="581.3" width="33.2" height="29.0" fill="rgb(217,217,255)"/>
<rect x="1266.2" y="610.0" width="33.2" height="8.9" fill="rgb(228,228,255)"/>
<rect x="1266.2" y="618.6" width="33.2" height="43.1" fill="rgb(217,217,255)"/>
<rect x="1266.2" y="661.3" width="33.2" height="2.4" fill="rgb(255,248,248)"/>
<rect x="1266.2" y="663.5" width="33.2" height="2.4" fill="rgb(255,228,228)"/>
<rect x="1266.2" y="665.6" width="33.2" height="11.7" fill="rgb(255,248,248)"/>
<rect x="1266.2" y="677.0" width="33.2" height="11.7" fill="rgb(206,206,255)"/>
<rect x="1266.2" y="688.4" width="33.2" height="13.1" fill="rgb(255,238,238)"/>
<rect x="1266.2" y="701.2" width="33.2" height="19.3" fill="rgb(255,204,204)"/>
<rect x="1299.1" y="13.6" width="33.2" height="1.7" fill="rgb(217,217,255)"/>
<rect x="1299.1" y="15.0" width="33.2" height="3.9" fill="rgb(206,206,255)"/>
<rect x="1299.1" y="18.6" width="33.2" height="23.1" fill="rgb(251,249,252)"/>
<rect x="1299.1" y="41.4" width="33.2" height="17.4" fill="rgb(239,239,255)"/>
<rect x="1299.1" y="58.5" width="33.2" height="4.6" fill="rgb(228,228,255)"/>
<rect x="1299.1" y="62.7" width="33.2" height="10.3" fill="rgb(251,249,252)"/>
<rect x="1299.1" y="72.7" width="33.2" height="8.9" fill="rgb(217,217,255)"/>
<rect x="1299.1" y="81.3" width="33.2" height="29.0" fill="rgb(251,249,252)"/>
<rect x="1299.1" y="110.0" width="33.2" height="4.6" fill="rgb(251,249,252)"/>
<rect x="1299.1" y="114.3" width="33.2" height="3.9" fill="rgb(206,206,255)"/>
<rect x="1299.1" y="117.8" width="33.2" height="5.3" fill="rgb(251,249,252)"/>
<rect x="1299.1" y="122.8" width="33.2" height="17.4" fill="rgb(255,228,228)"/>
<rect x="1299.1" y="139.9" width="33.2" height="7.4" fill="rgb(251,249,252)"/>
<rect x="1299.1" y="147.1" width="33.2" height="23.1" fill="rgb(255,238,238)"/>
<rect x="1299.1" y="169.9" width="33.2" height="14.6" fill="rgb(248,248,255)"/>
<rect x="1299.1" y="184.1" width="33.2" height="11.7" fill="rgb(255,248,248)"/>
<rect x="1299.1" y="195.5" width="33.2" height="3.2" fill="rgb(255,228,228)"/>
<rect x="1299.1" y="198.4" width="33.2" height="3.2" fill="rgb(217,217,255)"/>
<rect x="1299.1" y="201.2" width="33.2" height="6.0" fill="rgb(255,216,216)"/>
<rect x="1299.1" y="206.9" width="33.2" height="3.4" fill="rgb(206,206,255)"/>
<rect x="1299.1" y="210.0" width="33.2" height="27.4" fill="rgb(206,206,255)"/>
<rect x="1299.1" y="237.1" width="33.2" height="5.3" fill="rgb(251,249,252)"/>
<rect x="1299.1" y="242.1" width="33.2" height="11.0" fill="rgb(255,228,228)"/>
<rect x="1299.1" y="252.8" width="33.2" height="6.0" fill="rgb(251,249,252)"/>
<rect x="1299.1" y="258.5" width="33.2" height="14.6" fill="rgb(228,228,255)"/>
<rect x="1299.1" y="272.7" width="33.2" height="23.1" fill="rgb(251,249,252)"/>
<rect x="1299.1" y="295.5" width="33.2" height="7.4" fill="rgb(255,228,228)"/>
<rect x="1299.1" y="302.7" width="33.2" height="7.6" fill="rgb(239,239,255)"/>
<rect x="1299.1" y="310.0" width="33.2" height="4.6" fill="rgb(239,239,255)"/>
<rect x="1299.1" y="314.3" width="33.2" height="7.4" fill="rgb(255,238,238)"/>
<rect x="1299.1" y="321.4" width="33.2" height="11.7" fill="rgb(251,249,252)"/>
<rect x="1299.1" y="332.8" width="33.2" height="4.6" fill="rgb(255,228,228)"/>
<rect x="1299.1" y="337.1" width="33.2" height="35.9" fill="rgb(251,249,252)"/>
<rect x="1299.1" y="372.7" width="33.2" height="4.6" fill="rgb(239,239,255)"/>
<rect x="1299.1" y="377.0" width="33.2" height="13.1" fill="rgb(251,249,252)"/>
<rect x="1299.1" y="389.8" width="33.2" height="6.0" fill="rgb(255,228,228)"/>
<rect x="1299.1" y="395.5" width="33.2" height="6.0" fill="rgb(251,249,252)"/>
<rect x="1299.1" y="401.2" width="33.2" height="3.2" fill="rgb(255,228,228)"/>
<rect x="1299.1" y="404.1" width="33.2" height="6.2" fill="rgb(239,239,255)"/>
<rect x="1299.1" y="410.0" width="33.2" height="31.7" fill="rgb(239,239,255)"/>
<rect x="1299.1" y="441.4" width="33.2" height="21.7" fill="rgb(251,249,252)"/>
<rect x="1299.1" y="462.7" width="33.2" height="23.1" fill="rgb(255,248,248)"/>
<rect x="1299.1" y="485.6" width="33.2" height="4.6" fill="rgb(251,249,252)"/>
<rect x="1299.1" y="489.8" width="33.2" height="11.7" fill="rgb(228,228,255)"/>
<rect x="1299.1" y="501.2" width="33.2" height="6.0" fill="rgb(217,217,255)"/>
<rect x="1299.1" y="506.9" width="33.2" height="3.4" fill="rgb(251,249,252)"/>
<rect x="1299.1" y="510.0" width="33.2" height="18.8" fill="rgb(255,238,238)"/>
<rect x="1299.1" y="528.5" width="33.2" height="7.4" fill="rgb(251,249,252)"/>
<rect x="1299.1" y="535.7" width="33.2" height="18.8" fill="rgb(255,238,238)"/>
<rect x="1299.1" y="554.2" width="33.2" height="11.7" fill="rgb(255,204,204)"/>
<rect x="1299.1" y="565.6" width="33.2" height="6.0" fill="rgb(251,249,252)"/>
<rect x="1299.1" y="571.3" width="33.2" height="10.3" fill="rgb(255,228,228)"/>
<rect x="1299.1" y="581.3" width="33.2" height="29.0" fill="rgb(255,238,238)"/>
<rect x="1299.1" y="610.0" width="33.2" height="54.5" fill="rgb(255,238,238)"/>
<rect x="1299.1" y="664.2" width="33.2" height="13.1" fill="rgb(251,249,252)"/>
<rect x="1299.1" y="677.0" width="33.2" height="11.7" fill="rgb(255,216,216)"/>
<rect x="1299.1" y="688.4" width="33.2" height="6.0" fill="rgb(255,179,179)"/>
<rect x="1299.1" y="694.1" width="33.2" height="26.4" fill="rgb(255,139,139)"/>
<rect x="1332.1" y="13.6" width="33.2" height="25.2" fill="rgb(251,249,252)"/>
<rect x="1332.1" y="38.5" width="33.2" height="28.8" fill="rgb(248,248,255)"/>
<rect x="1332.1" y="67.0" width="33.2" height="14.6" fill="rgb(255,238,238)"/>
<rect x="1332.1" y="81.3" width="33.2" height="29.0" fill="rgb(251,249,252)"/>
<rect x="1332.1" y="110.0" width="33.2" height="13.8" fill="rgb(251,249,252)"/>
<rect x="1332.1" y="123.5" width="33.2" height="8.1" fill="rgb(228,228,255)"/>
<rect x="1332.1" y="131.4" width="33.2" height="10.3" fill="rgb(239,239,255)"/>
<rect x="1332.1" y="141.4" width="33.2" height="4.6" fill="rgb(255,248,248)"/>
<rect x="1332.1" y="145.6" width="33.2" height="38.8" fill="rgb(251,249,252)"/>
<rect x="1332.1" y="184.1" width="33.2" height="7.4" fill="rgb(239,239,255)"/>
<rect x="1332.1" y="191.3" width="33.2" height="3.2" fill="rgb(251,249,252)"/>
<rect x="1332.1" y="194.1" width="33.2" height="6.7" fill="rgb(193,193,255)"/>
<rect x="1332.1" y="200.5" width="33.2" height="3.9" fill="rgb(251,249,252)"/>
<rect x="1332.1" y="204.1" width="33.2" height="3.2" fill="rgb(217,217,255)"/>
<rect x="1332.1" y="206.9" width="33.2" height="3.4" fill="rgb(251,249,252)"/>
<rect x="1332.1" y="210.0" width="33.2" height="10.3" fill="rgb(251,249,252)"/>
<rect x="1332.1" y="220.0" width="33.2" height="23.1" fill="rgb(255,228,228)"/>
<rect x="1332.1" y="242.8" width="33.2" height="8.9" fill="rgb(255,248,248)"/>
<rect x="1332.1" y="251.3" width="33.2" height="8.9" fill="rgb(255,216,216)"/>
<rect x="1332.1" y="259.9" width="33.2" height="13.1" fill="rgb(251,249,252)"/>
<rect x="1332.1" y="272.7" width="33.2" height="10.3" fill="rgb(255,192,192)"/>
<rect x="1332.1" y="282.7" width="33.2" height="27.6" fill="rgb(251,249,252)"/>
<rect x="1332.1" y="310.0" width="33.2" height="6.0" fill="rgb(251,249,252)"/>
<rect x="1332.1" y="315.7" width="33.2" height="8.9" fill="rgb(228,228,255)"/>
<rect x="1332.1" y="324.3" width="33.2" height="14.6" fill="rgb(239,239,255)"/>
<rect x="1332.1" y="338.5" width="33.2" height="21.7" fill="rgb(251,249,252)"/>
<rect x="1332.1" y="359.9" width="33.2" height="4.6" fill="rgb(228,228,255)"/>
<rect x="1332.1" y="364.2" width="33.2" height="8.9" fill="rgb(251,249,252)"/>
<rect x="1332.1" y="372.7" width="33.2" height="7.4" fill="rgb(239,239,255)"/>
<rect x="1332.1" y="379.9" width="33.2" height="16.0" fill="rgb(255,238,238)"/>
<rect x="1332.1" y="395.5" width="33.2" height="14.8" fill="rgb(255,228,228)"/>
<rect x="1332.1" y="410.0" width="33.2" height="7.4" fill="rgb(255,238,238)"/>
<rect x="1332.1" y="417.1" width="33.2" height="26.0" fill="rgb(255,248,248)"/>
<rect x="1332.1" y="442.8" width="33.2" height="18.8" fill="rgb(255,238,238)"/>
<rect x="1332.1" y="461.3" width="33.2" height="14.6" fill="rgb(255,248,248)"/>
<rect x="1332.1" y="475.6" width="33.2" height="10.3" fill="rgb(255,238,238)"/>
<rect x="1332.1" y="485.6" width="33.2" height="4.6" fill="rgb(251,249,252)"/>
<rect x="1332.1" y="489.8" width="33.2" height="17.4" fill="rgb(255,248,248)"/>
<rect x="1332.1" y="506.9" width="33.2" height="3.4" fill="rgb(217,217,255)"/>
<rect x="1332.1" y="510.0" width="33.2" height="3.2" fill="rgb(248,248,255)"/>
<rect x="1332.1" y="512.9" width="33.2" height="13.1" fill="rgb(255,238,238)"/>
<rect x="1332.1" y="525.7" width="33.2" height="31.7" fill="rgb(251,249,252)"/>
<rect x="1332.1" y="557.0" width="33.2" height="6.0" fill="rgb(239,239,255)"/>
<rect x="1332.1" y="562.7" width="33.2" height="7.4" fill="rgb(251,249,252)"/>
<rect x="1332.1" y="569.9" width="33.2" height="8.9" fill="rgb(255,248,248)"/>
<rect x="1332.1" y="578.4" width="33.2" height="31.9" fill="rgb(239,239,255)"/>
<rect x="1332.1" y="610.0" width="33.2" height="28.8" fill="rgb(239,239,255)"/>
<rect x="1332.1" y="638.5" width="33.2" height="24.5" fill="rgb(228,228,255)"/>
<rect x="1332.1" y="662.7" width="33.2" height="14.6" fill="rgb(251,249,252)"/>
<rect x="1332.1" y="677.0" width="33.2" height="11.7" fill="rgb(217,217,255)"/>
<rect x="1332.1" y="688.4" width="33.2" height="21.7" fill="rgb(255,96,96)"/>
<rect x="1332.1" y="709.8" width="33.2" height="10.7" fill="rgb(255,81,81)"/>
<rect x="1365.0" y="13.6" width="33.2" height="7.4" fill="rgb(255,111,111)"/>
<rect x="1365.0" y="20.7" width="33.2" height="89.6" fill="rgb(255,204,204)"/>
<rect x="1365.0" y="110.0" width="33.2" height="14.6" fill="rgb(255,192,192)"/>
<rect x="1365.0" y="124.3" width="33.2" height="27.4" fill="rgb(255,228,228)"/>
<rect x="1365.0" y="151.3" width="33.2" height="6.0" fill="rgb(255,204,204)"/>
<rect x="1365.0" y="157.0" width="33.2" height="37.4" fill="rgb(255,192,192)"/>
<rect x="1365.0" y="194.1" width="33.2" height="4.6" fill="rgb(255,238,238)"/>
<rect x="1365.0" y="198.4" width="33.2" height="6.7" fill="rgb(255,179,179)"/>
<rect x="1365.0" y="204.8" width="33.2" height="5.5" fill="rgb(255,238,238)"/>
<rect x="1365.0" y="210.0" width="33.2" height="8.1" fill="rgb(251,249,252)"/>
<rect x="1365.0" y="217.8" width="33.2" height="11.0" fill="rgb(239,239,255)"/>
<rect x="1365.0" y="228.5" width="33.2" height="5.3" fill="rgb(251,249,252)"/>
<rect x="1365.0" y="233.5" width="33.2" height="3.2" fill="rgb(255,192,192)"/>
<rect x="1365.0" y="236.4" width="33.2" height="6.7" fill="rgb(251,249,252)"/>
<rect x="1365.0" y="242.8" width="33.2" height="4.6" fill="rgb(217,217,255)"/>
<rect x="1365.0" y="247.1" width="33.2" height="13.8" fill="rgb(181,181,255)"/>
<rect x="1365.0" y="260.6" width="33.2" height="12.4" fill="rgb(251,249,252)"/>
<rect x="1365.0" y="272.7" width="33.2" height="10.3" fill="rgb(228,228,255)"/>
<rect x="1365.0" y="282.7" width="33.2" height="27.6" fill="rgb(251,249,252)"/>
<rect x="1365.0" y="310.0" width="33.2" height="7.4" fill="rgb(251,249,252)"/>
<rect x="1365.0" y="317.1" width="33.2" height="31.7" fill="rgb(255,216,216)"/>
<rect x="1365.0" y="348.5" width="33.2" height="21.7" fill="rgb(255,248,248)"/>
<rect x="1365.0" y="369.9" width="33.2" height="8.9" fill="rgb(228,228,255)"/>
<rect x="1365.0" y="378.4" width="33.2" height="8.9" fill="rgb(251,249,252)"/>
<rect x="1365.0" y="387.0" width="33.2" height="14.6" fill="rgb(206,206,255)"/>
<rect x="1365.0" y="401.2" width="33.2" height="4.6" fill="rgb(251,249,252)"/>
<rect x="1365.0" y="405.5" width="33.2" height="4.8" fill="rgb(228,228,255)"/>
<rect x="1365.0" y="410.0" width="33.2" height="33.1" fill="rgb(251,249,252)"/>
<rect x="1365.0" y="442.8" width="33.2" height="21.7" fill="rgb(255,228,228)"/>
<rect x="1365.0" y="464.2" width="33.2" height="10.3" fill="rgb(251,249,252)"/>
<rect x="1365.0" y="474.1" width="33.2" height="11.7" fill="rgb(228,228,255)"/>
<rect x="1365.0" y="485.6" width="33.2" height="4.6" fill="rgb(217,217,255)"/>
<rect x="1365.0" y="489.8" width="33.2" height="11.7" fill="rgb(228,228,255)"/>
<rect x="1365.0" y="501.2" width="33.2" height="9.1" fill="rgb(206,206,255)"/>
<rect x="1365.0" y="510.0" width="33.2" height="13.1" fill="rgb(193,193,255)"/>
<rect x="1365.0" y="522.8" width="33.2" height="14.6" fill="rgb(217,217,255)"/>
<rect x="1365.0" y="537.1" width="33.2" height="10.3" fill="rgb(181,181,255)"/>
<rect x="1365.0" y="547.1" width="33.2" height="8.9" fill="rgb(206,206,255)"/>
<rect x="1365.0" y="555.6" width="33.2" height="6.0" fill="rgb(251,249,252)"/>
<rect x="1365.0" y="561.3" width="33.2" height="16.0" fill="rgb(217,217,255)"/>
<rect x="1365.0" y="577.0" width="33.2" height="33.3" fill="rgb(239,239,255)"/>
<rect x="1365.0" y="610.0" width="33.2" height="28.8" fill="rgb(239,239,255)"/>
<rect x="1365.0" y="638.5" width="33.2" height="28.8" fill="rgb(228,228,255)"/>
<rect x="1365.0" y="667.0" width="33.2" height="8.1" fill="rgb(251,249,252)"/>
<rect x="1365.0" y="674.9" width="33.2" height="2.4" fill="rgb(114,114,255)"/>
<rect x="1365.0" y="677.0" width="33.2" height="13.1" fill="rgb(206,206,255)"/>
<rect x="1365.0" y="689.8" width="33.2" height="13.1" fill="rgb(155,155,255)"/>
<rect x="1365.0" y="702.7" width="33.2" height="13.1" fill="rgb(114,114,255)"/>
<rect x="1365.0" y="715.5" width="33.2" height="3.2" fill="rgb(85,85,255)"/>
<rect x="1365.0" y="718.3" width="33.2" height="2.2" fill="rgb(217,217,255)"/>
<text x="767.3" y="58.2" font-size="30.5" font-weight="bold">B</text>
<text transform="translate(889.3,725.8) rotate(-90)" font-size="13" stroke="#000" stroke-width="0.35" letter-spacing="0.9" text-anchor="end">W1 12°C</text>
<text transform="translate(922.3,725.8) rotate(-90)" font-size="13" stroke="#000" stroke-width="0.35" letter-spacing="0.9" text-anchor="end">W1 17°C</text>
<text transform="translate(955.3,725.8) rotate(-90)" font-size="13" stroke="#000" stroke-width="0.35" letter-spacing="0.9" text-anchor="end">W8 12°C</text>
<text transform="translate(988.3,725.8) rotate(-90)" font-size="13" stroke="#000" stroke-width="0.35" letter-spacing="0.9" text-anchor="end">W8 17°C</text>
<text transform="translate(1021.3,725.8) rotate(-90)" font-size="13" stroke="#000" stroke-width="0.35" letter-spacing="0.9" text-anchor="end">W8 12°C I</text>
<text transform="translate(1054.3,725.8) rotate(-90)" font-size="13" stroke="#000" stroke-width="0.35" letter-spacing="0.9" text-anchor="end">W8 17°C I</text>
<text x="1082.3" y="58.2" font-size="30.5" font-weight="bold">C</text>
<text transform="translate(1221.8,725.8) rotate(-90)" font-size="13" stroke="#000" stroke-width="0.35" letter-spacing="0.9" text-anchor="end">W1 12°C</text>
<text transform="translate(1254.8,725.8) rotate(-90)" font-size="13" stroke="#000" stroke-width="0.35" letter-spacing="0.9" text-anchor="end">W1 17°C</text>
<text transform="translate(1287.8,725.8) rotate(-90)" font-size="13" stroke="#000" stroke-width="0.35" letter-spacing="0.9" text-anchor="end">W8 12°C</text>
<text transform="translate(1320.8,725.8) rotate(-90)" font-size="13" stroke="#000" stroke-width="0.35" letter-spacing="0.9" text-anchor="end">W8 17°C</text>
<text transform="translate(1353.8,725.8) rotate(-90)" font-size="13" stroke="#000" stroke-width="0.35" letter-spacing="0.9" text-anchor="end">W8 12°C I</text>
<text transform="translate(1386.8,725.8) rotate(-90)" font-size="13" stroke="#000" stroke-width="0.35" letter-spacing="0.9" text-anchor="end">W8 17°C I</text>
</svg>
</body></html>
